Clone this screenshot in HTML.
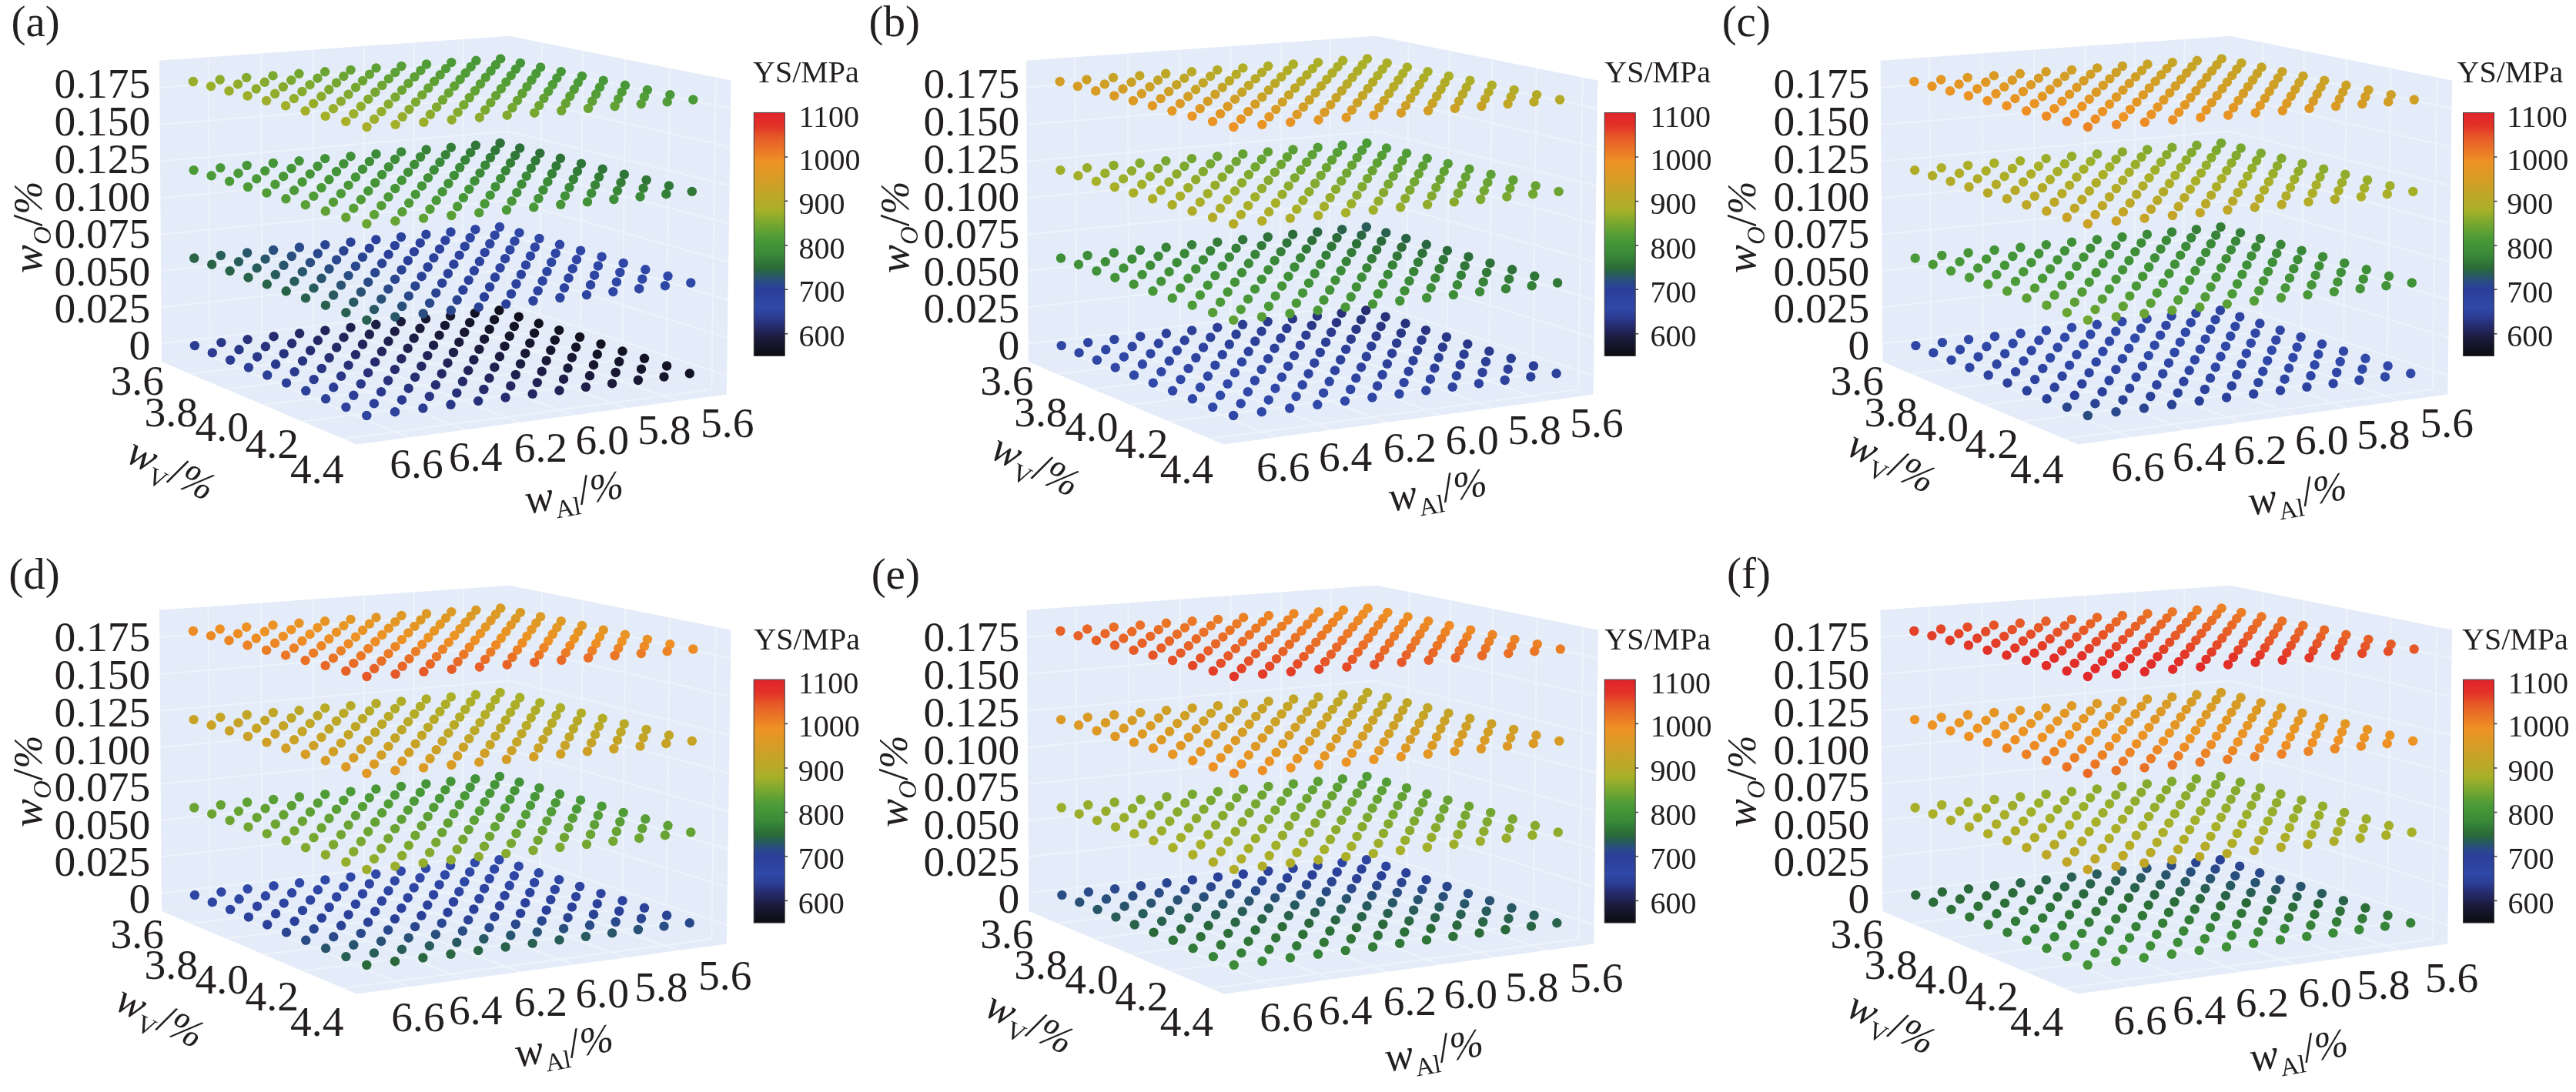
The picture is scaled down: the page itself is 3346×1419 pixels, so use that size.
<!DOCTYPE html>
<html><head><meta charset="utf-8"><title>YS maps</title>
<style>
html,body{margin:0;padding:0;background:#fff}
svg{display:block;will-change:transform}
text{font-family:"Liberation Serif","Times New Roman",serif;fill:#231f20}
.t{font-size:55.5px}
.c{font-size:40px}
.p{font-size:57px;text-anchor:end}
.s{font-size:33px}
.i{font-style:italic}
.q{font-size:52px}
.g{stroke:#fff;stroke-width:2.2;fill:none;stroke-opacity:.38}
.pane{fill:#e3ecf8}
</style></head><body>
<svg width="3346" height="1419" viewBox="0 0 3346 1419">
<defs>
<linearGradient id="cb" x1="0" y1="1" x2="0" y2="0">
<stop offset="0.0000" stop-color="#0c0c10"/>
<stop offset="0.0709" stop-color="#1a1a3a"/>
<stop offset="0.1200" stop-color="#252a6a"/>
<stop offset="0.1636" stop-color="#2c3e96"/>
<stop offset="0.2000" stop-color="#3048a8"/>
<stop offset="0.2727" stop-color="#2a3f98"/>
<stop offset="0.3018" stop-color="#2a4a8a"/>
<stop offset="0.3309" stop-color="#285a60"/>
<stop offset="0.3618" stop-color="#2a6a38"/>
<stop offset="0.4182" stop-color="#3a8a38"/>
<stop offset="0.4818" stop-color="#4a9a38"/>
<stop offset="0.5455" stop-color="#78a830"/>
<stop offset="0.6000" stop-color="#a8b028"/>
<stop offset="0.7000" stop-color="#cda026"/>
<stop offset="0.7982" stop-color="#ee9224"/>
<stop offset="0.9000" stop-color="#e65828"/>
<stop offset="0.9455" stop-color="#e23228"/>
<stop offset="1.0000" stop-color="#e1242a"/>
</linearGradient>
<g id="box">
<polygon class="pane" points="207.1,78.7 661.3,46.7 659.2,417.2 209.9,470.1"/>
<polygon class="pane" points="661.3,46.7 949.5,104.5 943.8,512.6 659.2,417.2"/>
<polygon class="pane" points="209.9,470.1 463.2,577.5 943.8,512.6 659.2,417.2"/>
<path class="g" d="M602.1 50.9L600.6 424.1M600.6 424.1L881.5 521M538 55.4L537.1 431.5M537.1 431.5L813.8 530.2M472.8 60L472.6 439.1M472.6 439.1L745 539.5M406.5 64.7L407.1 446.9M407.1 446.9L674.8 548.9M339.1 69.4L340.4 454.7M340.4 454.7L603.5 558.5M270.6 74.2L272.7 462.7M272.7 462.7L530.7 568.3M703.8 55.2L701.2 431.3M701.2 431.3L247.1 485.9M757.1 65.9L753.8 448.9M753.8 448.9L293.8 505.7M812.4 77L808.5 467.2M808.5 467.2L342.4 526.2M869.9 88.5L865.2 486.3M865.2 486.3L393 547.7M929.8 100.6L924.3 506.1M924.3 506.1L445.8 570.1M209.7 446.4L659.3 394.7M659.3 394.7L944.1 487.9M209.4 399.3L659.5 350.1M659.5 350.1L944.8 438.8M209 352L659.8 305.4M659.8 305.4L945.5 389.6M208.7 304.7L660.1 260.5M660.1 260.5L946.2 340.2M208.4 257.2L660.3 215.5M660.3 215.5L946.9 290.6M208 209.5L660.6 170.5M660.6 170.5L947.6 241M207.7 161.8L660.8 125.3M660.8 125.3L948.3 191.2M207.3 113.9L661.1 80M661.1 80L949 141.2"/>
</g>
</defs>
<g transform="translate(0,0)">
<use href="#box"/>
<g class="d">
<circle cx="648.4" cy="403.3" r="6.2" fill="#10101d"/><circle cx="649" cy="295" r="6.2" fill="#2e45a3"/><circle cx="616.9" cy="406.9" r="6.2" fill="#131324"/><circle cx="649.6" cy="186" r="6.2" fill="#2d7038"/><circle cx="617.4" cy="298.2" r="6.2" fill="#2e44a2"/><circle cx="585.1" cy="410.6" r="6.2" fill="#15152b"/>
<circle cx="673.8" cy="411.7" r="6.2" fill="#10101d"/><circle cx="650.2" cy="76.4" r="6.2" fill="#469638"/><circle cx="617.9" cy="188.8" r="6.2" fill="#307738"/><circle cx="585.5" cy="301.5" r="6.2" fill="#2d43a0"/><circle cx="553.1" cy="414.3" r="6.2" fill="#171731"/><circle cx="674.5" cy="302.4" r="6.2" fill="#2e46a4"/>
<circle cx="642.1" cy="415.4" r="6.2" fill="#131324"/><circle cx="618.4" cy="78.8" r="6.2" fill="#489838"/><circle cx="585.9" cy="191.6" r="6.2" fill="#347d38"/><circle cx="553.4" cy="304.7" r="6.2" fill="#2c429e"/><circle cx="675.2" cy="192.5" r="6.2" fill="#2d7138"/><circle cx="520.8" cy="418" r="6.2" fill="#191938"/>
<circle cx="642.7" cy="305.7" r="6.2" fill="#2e45a2"/><circle cx="610.2" cy="419.2" r="6.2" fill="#15152b"/><circle cx="586.3" cy="81.1" r="6.2" fill="#4a9a38"/><circle cx="553.7" cy="194.5" r="6.2" fill="#378438"/><circle cx="699.8" cy="420.3" r="6.2" fill="#11111e"/><circle cx="675.9" cy="81.9" r="6.2" fill="#469638"/>
<circle cx="521" cy="308" r="6.2" fill="#2b419c"/><circle cx="643.3" cy="195.3" r="6.2" fill="#317738"/><circle cx="488.3" cy="421.8" r="6.2" fill="#1c1d42"/><circle cx="610.7" cy="309" r="6.2" fill="#2d44a0"/><circle cx="578" cy="422.9" r="6.2" fill="#171732"/><circle cx="554" cy="83.5" r="6.2" fill="#509c37"/>
<circle cx="700.5" cy="310" r="6.2" fill="#2f46a4"/><circle cx="521.2" cy="197.4" r="6.2" fill="#3a8938"/><circle cx="667.9" cy="424.1" r="6.2" fill="#131325"/><circle cx="643.9" cy="84.3" r="6.2" fill="#489838"/><circle cx="488.4" cy="311.4" r="6.2" fill="#2b409a"/><circle cx="611.2" cy="198.2" r="6.2" fill="#347e38"/>
<circle cx="455.5" cy="425.6" r="6.2" fill="#1e214e"/><circle cx="578.4" cy="312.4" r="6.2" fill="#2c429e"/><circle cx="701.3" cy="199.1" r="6.2" fill="#2e7138"/><circle cx="545.5" cy="426.8" r="6.2" fill="#1a1a39"/><circle cx="521.4" cy="86" r="6.2" fill="#579e36"/><circle cx="668.5" cy="313.4" r="6.2" fill="#2e45a2"/>
<circle cx="488.5" cy="200.2" r="6.2" fill="#3c8c38"/><circle cx="635.7" cy="427.9" r="6.2" fill="#15152c"/><circle cx="611.7" cy="86.7" r="6.2" fill="#4a9a38"/><circle cx="455.5" cy="314.7" r="6.2" fill="#2a4096"/><circle cx="578.8" cy="201.1" r="6.2" fill="#378438"/><circle cx="726.2" cy="429.1" r="6.2" fill="#11111f"/>
<circle cx="702.1" cy="87.4" r="6.2" fill="#479738"/><circle cx="422.4" cy="429.4" r="6.2" fill="#212459"/><circle cx="545.8" cy="315.7" r="6.2" fill="#2b419c"/><circle cx="669.2" cy="202" r="6.2" fill="#317838"/><circle cx="512.8" cy="430.6" r="6.2" fill="#1c1d44"/><circle cx="488.6" cy="88.4" r="6.2" fill="#5da035"/>
<circle cx="636.3" cy="316.8" r="6.2" fill="#2d44a1"/><circle cx="455.5" cy="203.2" r="6.2" fill="#3f8f38"/><circle cx="603.3" cy="431.8" r="6.2" fill="#181833"/><circle cx="579.1" cy="89.1" r="6.2" fill="#509c37"/><circle cx="727" cy="317.8" r="6.2" fill="#2f46a5"/><circle cx="422.3" cy="318.1" r="6.2" fill="#2a4591"/>
<circle cx="546.1" cy="204" r="6.2" fill="#3a8a38"/><circle cx="694.1" cy="432.9" r="6.2" fill="#131326"/><circle cx="669.9" cy="89.9" r="6.2" fill="#489838"/><circle cx="389.1" cy="433.3" r="6.2" fill="#242864"/><circle cx="512.9" cy="319.1" r="6.2" fill="#2b409a"/><circle cx="636.9" cy="204.9" r="6.2" fill="#347e38"/>
<circle cx="479.8" cy="434.5" r="6.2" fill="#1f214f"/><circle cx="455.5" cy="90.9" r="6.2" fill="#64a233"/><circle cx="603.8" cy="320.2" r="6.2" fill="#2c439e"/><circle cx="727.9" cy="205.8" r="6.2" fill="#2e7238"/><circle cx="422.2" cy="206.1" r="6.2" fill="#419138"/><circle cx="570.6" cy="435.6" r="6.2" fill="#1a1a3a"/>
<circle cx="546.4" cy="91.6" r="6.2" fill="#579e36"/><circle cx="694.9" cy="321.2" r="6.2" fill="#2e45a3"/><circle cx="388.9" cy="321.5" r="6.2" fill="#2a498b"/><circle cx="513.1" cy="207" r="6.2" fill="#3c8c38"/><circle cx="661.8" cy="436.8" r="6.2" fill="#16162d"/><circle cx="637.5" cy="92.3" r="6.2" fill="#4b9a38"/>
<circle cx="355.5" cy="437.2" r="6.2" fill="#262c6f"/><circle cx="479.8" cy="322.6" r="6.2" fill="#2a4097"/><circle cx="604.3" cy="207.9" r="6.2" fill="#378538"/><circle cx="753.1" cy="438" r="6.2" fill="#111120"/><circle cx="728.8" cy="93.1" r="6.2" fill="#479738"/><circle cx="446.5" cy="438.4" r="6.2" fill="#21255a"/>
<circle cx="422.1" cy="93.3" r="6.2" fill="#6ba432"/><circle cx="571" cy="323.6" r="6.2" fill="#2c419c"/><circle cx="695.6" cy="208.8" r="6.2" fill="#317938"/><circle cx="388.6" cy="209.1" r="6.2" fill="#439338"/><circle cx="537.7" cy="439.5" r="6.2" fill="#1d1e46"/><circle cx="513.3" cy="94.1" r="6.2" fill="#5da035"/>
<circle cx="662.4" cy="324.6" r="6.2" fill="#2d44a1"/><circle cx="355.1" cy="325" r="6.2" fill="#294f7d"/><circle cx="479.9" cy="209.9" r="6.2" fill="#3f8f38"/><circle cx="629.1" cy="440.7" r="6.2" fill="#181834"/><circle cx="604.7" cy="94.8" r="6.2" fill="#519c37"/><circle cx="754.1" cy="325.7" r="6.2" fill="#2f46a5"/>
<circle cx="321.6" cy="441.1" r="6.2" fill="#28327b"/><circle cx="446.4" cy="326" r="6.2" fill="#2a4491"/><circle cx="571.4" cy="210.8" r="6.2" fill="#3a8a38"/><circle cx="720.8" cy="441.9" r="6.2" fill="#141427"/><circle cx="696.4" cy="95.6" r="6.2" fill="#499938"/><circle cx="412.9" cy="442.3" r="6.2" fill="#242966"/>
<circle cx="388.4" cy="95.8" r="6.2" fill="#73a631"/><circle cx="537.9" cy="327.1" r="6.2" fill="#2b409a"/><circle cx="663.1" cy="211.7" r="6.2" fill="#357f38"/><circle cx="354.8" cy="212" r="6.2" fill="#459538"/><circle cx="504.5" cy="443.5" r="6.2" fill="#1f2251"/><circle cx="480" cy="96.6" r="6.2" fill="#64a233"/>
<circle cx="629.7" cy="328.1" r="6.2" fill="#2d439f"/><circle cx="755" cy="212.6" r="6.2" fill="#2e7338"/><circle cx="321.1" cy="328.5" r="6.2" fill="#28566a"/><circle cx="446.4" cy="212.9" r="6.2" fill="#419138"/><circle cx="596.3" cy="444.7" r="6.2" fill="#1b1b3c"/><circle cx="571.7" cy="97.3" r="6.2" fill="#579e36"/>
<circle cx="721.7" cy="329.2" r="6.2" fill="#2e45a3"/><circle cx="287.4" cy="445.1" r="6.2" fill="#2a3787"/><circle cx="412.8" cy="329.5" r="6.2" fill="#2a498c"/><circle cx="538.2" cy="213.8" r="6.2" fill="#3d8d38"/><circle cx="688.3" cy="445.9" r="6.2" fill="#16162e"/><circle cx="663.8" cy="98.1" r="6.2" fill="#4c9b38"/>
<circle cx="379.1" cy="446.3" r="6.2" fill="#262d71"/><circle cx="354.5" cy="98.4" r="6.2" fill="#7ba830"/><circle cx="504.6" cy="330.6" r="6.2" fill="#2a3f97"/><circle cx="630.3" cy="214.7" r="6.2" fill="#388638"/><circle cx="780.5" cy="447.1" r="6.2" fill="#121221"/><circle cx="756" cy="98.9" r="6.2" fill="#479738"/>
<circle cx="320.7" cy="215" r="6.2" fill="#479738"/><circle cx="471" cy="447.5" r="6.2" fill="#22255c"/><circle cx="446.4" cy="99.1" r="6.2" fill="#6ba432"/><circle cx="596.7" cy="331.6" r="6.2" fill="#2c429d"/><circle cx="722.5" cy="215.7" r="6.2" fill="#327a38"/><circle cx="286.8" cy="332" r="6.2" fill="#285d58"/>
<circle cx="412.6" cy="216" r="6.2" fill="#439338"/><circle cx="563.1" cy="448.7" r="6.2" fill="#1d1f48"/><circle cx="538.5" cy="99.9" r="6.2" fill="#5ea035"/><circle cx="689" cy="332.7" r="6.2" fill="#2e44a2"/><circle cx="252.9" cy="449.1" r="6.2" fill="#2b3c92"/><circle cx="378.8" cy="333" r="6.2" fill="#294f7e"/>
<circle cx="504.8" cy="216.9" r="6.2" fill="#3f8f38"/><circle cx="655.5" cy="449.9" r="6.2" fill="#181835"/><circle cx="630.8" cy="100.6" r="6.2" fill="#529c37"/><circle cx="781.6" cy="333.7" r="6.2" fill="#2f47a6"/><circle cx="344.9" cy="450.3" r="6.2" fill="#28327d"/><circle cx="320.2" cy="100.9" r="6.2" fill="#84aa2e"/>
<circle cx="471" cy="334.1" r="6.2" fill="#2a4492"/><circle cx="597.2" cy="217.8" r="6.2" fill="#3b8b38"/><circle cx="748.1" cy="451.1" r="6.2" fill="#141428"/><circle cx="723.4" cy="101.4" r="6.2" fill="#499938"/><circle cx="286.3" cy="218.1" r="6.2" fill="#489838"/><circle cx="437.2" cy="451.5" r="6.2" fill="#242967"/>
<circle cx="412.5" cy="101.7" r="6.2" fill="#73a631"/><circle cx="563.4" cy="335.1" r="6.2" fill="#2b409a"/><circle cx="689.8" cy="218.7" r="6.2" fill="#358038"/><circle cx="252.2" cy="335.5" r="6.2" fill="#296446"/><circle cx="378.5" cy="219" r="6.2" fill="#459538"/><circle cx="529.7" cy="452.7" r="6.2" fill="#202253"/>
<circle cx="504.9" cy="102.4" r="6.2" fill="#65a233"/><circle cx="656.1" cy="336.2" r="6.2" fill="#2d439f"/><circle cx="782.7" cy="219.6" r="6.2" fill="#2f7438"/><circle cx="344.6" cy="336.6" r="6.2" fill="#29566b"/><circle cx="471" cy="219.9" r="6.2" fill="#419138"/><circle cx="622.4" cy="453.9" r="6.2" fill="#1b1b3e"/>
<circle cx="597.6" cy="103.2" r="6.2" fill="#589e36"/><circle cx="749" cy="337.3" r="6.2" fill="#2f46a4"/><circle cx="310.5" cy="454.3" r="6.2" fill="#2a3888"/><circle cx="285.7" cy="103.5" r="6.2" fill="#8eac2c"/><circle cx="437.1" cy="337.6" r="6.2" fill="#2a488c"/><circle cx="563.8" cy="220.8" r="6.2" fill="#3d8d38"/>
<circle cx="715.3" cy="455.1" r="6.2" fill="#16162f"/><circle cx="690.6" cy="104" r="6.2" fill="#4e9b37"/><circle cx="251.6" cy="221.1" r="6.2" fill="#4a9a38"/><circle cx="403.1" cy="455.5" r="6.2" fill="#262e73"/><circle cx="378.3" cy="104.2" r="6.2" fill="#7ba92f"/><circle cx="529.9" cy="338.7" r="6.2" fill="#2a3f98"/>
<circle cx="656.8" cy="221.8" r="6.2" fill="#388738"/><circle cx="808.5" cy="456.4" r="6.2" fill="#121222"/><circle cx="783.7" cy="104.7" r="6.2" fill="#489838"/><circle cx="344.2" cy="222.1" r="6.2" fill="#479738"/><circle cx="495.9" cy="456.8" r="6.2" fill="#22265e"/><circle cx="471.1" cy="105" r="6.2" fill="#6ca432"/>
<circle cx="622.9" cy="339.8" r="6.2" fill="#2c429d"/><circle cx="750" cy="222.7" r="6.2" fill="#327b38"/><circle cx="310" cy="340.1" r="6.2" fill="#285d59"/><circle cx="437" cy="223" r="6.2" fill="#439338"/><circle cx="589" cy="458" r="6.2" fill="#1e1f4a"/><circle cx="564.1" cy="105.8" r="6.2" fill="#5fa034"/>
<circle cx="716.2" cy="340.8" r="6.2" fill="#2e45a2"/><circle cx="275.8" cy="458.4" r="6.2" fill="#2c3d93"/><circle cx="250.9" cy="106" r="6.2" fill="#98ad2b"/><circle cx="402.9" cy="341.2" r="6.2" fill="#294e7f"/><circle cx="530.1" cy="223.9" r="6.2" fill="#409038"/><circle cx="682.3" cy="459.2" r="6.2" fill="#191937"/>
<circle cx="657.4" cy="106.6" r="6.2" fill="#539d36"/><circle cx="809.7" cy="341.9" r="6.2" fill="#2f47a6"/><circle cx="368.7" cy="459.6" r="6.2" fill="#28337e"/><circle cx="343.8" cy="106.8" r="6.2" fill="#85aa2e"/><circle cx="496.1" cy="342.3" r="6.2" fill="#2a4393"/><circle cx="623.5" cy="224.9" r="6.2" fill="#3b8b38"/>
<circle cx="775.8" cy="460.4" r="6.2" fill="#141429"/><circle cx="750.9" cy="107.3" r="6.2" fill="#4a9a38"/><circle cx="309.5" cy="225.2" r="6.2" fill="#499938"/><circle cx="461.9" cy="460.9" r="6.2" fill="#252a6a"/><circle cx="437" cy="107.6" r="6.2" fill="#73a731"/><circle cx="589.4" cy="343.4" r="6.2" fill="#2b419b"/>
<circle cx="717" cy="225.8" r="6.2" fill="#368238"/><circle cx="275.2" cy="343.7" r="6.2" fill="#296447"/><circle cx="402.7" cy="226.1" r="6.2" fill="#459538"/><circle cx="555.3" cy="462.1" r="6.2" fill="#202355"/><circle cx="530.4" cy="108.4" r="6.2" fill="#66a233"/><circle cx="683" cy="344.4" r="6.2" fill="#2d44a0"/>
<circle cx="810.8" cy="226.7" r="6.2" fill="#2f7538"/><circle cx="368.4" cy="344.8" r="6.2" fill="#29556c"/><circle cx="496.2" cy="227" r="6.2" fill="#429238"/><circle cx="649" cy="463.3" r="6.2" fill="#1b1c40"/><circle cx="624" cy="109.2" r="6.2" fill="#5a9f35"/><circle cx="776.9" cy="345.5" r="6.2" fill="#2f46a5"/>
<circle cx="334.1" cy="463.7" r="6.2" fill="#2a3889"/><circle cx="309" cy="109.4" r="6.2" fill="#8fac2c"/><circle cx="461.9" cy="345.9" r="6.2" fill="#2a488d"/><circle cx="589.9" cy="228" r="6.2" fill="#3e8e38"/><circle cx="742.9" cy="464.6" r="6.2" fill="#171731"/><circle cx="717.9" cy="110" r="6.2" fill="#4f9c37"/>
<circle cx="274.6" cy="228.3" r="6.2" fill="#4b9a38"/><circle cx="427.6" cy="465" r="6.2" fill="#272f75"/><circle cx="402.5" cy="110.2" r="6.2" fill="#7ca92f"/><circle cx="555.7" cy="347" r="6.2" fill="#2a3f99"/><circle cx="683.8" cy="228.9" r="6.2" fill="#398938"/><circle cx="837" cy="465.8" r="6.2" fill="#121223"/>
<circle cx="812" cy="110.8" r="6.2" fill="#489838"/><circle cx="368.1" cy="229.2" r="6.2" fill="#479738"/><circle cx="521.4" cy="466.2" r="6.2" fill="#232761"/><circle cx="496.3" cy="111" r="6.2" fill="#6da532"/><circle cx="649.6" cy="348.1" r="6.2" fill="#2c429e"/><circle cx="778" cy="229.9" r="6.2" fill="#337c38"/>
<circle cx="333.7" cy="348.4" r="6.2" fill="#285c5a"/><circle cx="461.9" cy="230.2" r="6.2" fill="#449438"/><circle cx="615.4" cy="467.5" r="6.2" fill="#1e204c"/><circle cx="590.3" cy="111.8" r="6.2" fill="#60a134"/><circle cx="743.8" cy="349.2" r="6.2" fill="#2e45a3"/><circle cx="299.1" cy="467.9" r="6.2" fill="#2c3d95"/>
<circle cx="274" cy="112.1" r="6.2" fill="#9aae2a"/><circle cx="427.5" cy="349.5" r="6.2" fill="#2a4d81"/><circle cx="556" cy="231.1" r="6.2" fill="#409038"/><circle cx="709.7" cy="468.7" r="6.2" fill="#191938"/><circle cx="684.5" cy="112.6" r="6.2" fill="#559d36"/><circle cx="838.3" cy="350.3" r="6.2" fill="#3047a7"/>
<circle cx="393" cy="469.1" r="6.2" fill="#293480"/><circle cx="367.8" cy="112.9" r="6.2" fill="#86aa2e"/><circle cx="521.6" cy="350.6" r="6.2" fill="#2a4294"/><circle cx="650.3" cy="232.1" r="6.2" fill="#3c8c38"/><circle cx="804.2" cy="470" r="6.2" fill="#15152b"/><circle cx="779" cy="113.4" r="6.2" fill="#4b9a38"/>
<circle cx="333.3" cy="232.4" r="6.2" fill="#499938"/><circle cx="487.2" cy="470.4" r="6.2" fill="#252b6c"/><circle cx="462" cy="113.7" r="6.2" fill="#74a731"/><circle cx="615.9" cy="351.8" r="6.2" fill="#2b419c"/><circle cx="744.8" cy="233" r="6.2" fill="#378438"/><circle cx="298.6" cy="352.1" r="6.2" fill="#296448"/>
<circle cx="427.4" cy="233.3" r="6.2" fill="#469638"/><circle cx="581.5" cy="471.7" r="6.2" fill="#212458"/><circle cx="556.3" cy="114.5" r="6.2" fill="#67a333"/><circle cx="710.5" cy="352.9" r="6.2" fill="#2d44a1"/><circle cx="839.6" cy="234" r="6.2" fill="#307538"/><circle cx="392.8" cy="353.2" r="6.2" fill="#29556e"/>
<circle cx="521.8" cy="234.3" r="6.2" fill="#439338"/><circle cx="676.1" cy="472.9" r="6.2" fill="#1c1d43"/><circle cx="650.9" cy="115.3" r="6.2" fill="#5c9f35"/><circle cx="805.3" cy="354" r="6.2" fill="#2f46a5"/><circle cx="358.1" cy="473.3" r="6.2" fill="#2a398b"/><circle cx="332.8" cy="115.5" r="6.2" fill="#90ac2c"/>
<circle cx="487.2" cy="354.3" r="6.2" fill="#2a478e"/><circle cx="616.5" cy="235.2" r="6.2" fill="#3f8f38"/><circle cx="771" cy="474.2" r="6.2" fill="#171732"/><circle cx="745.8" cy="116.1" r="6.2" fill="#519c37"/><circle cx="298.1" cy="235.6" r="6.2" fill="#4c9b38"/><circle cx="452.6" cy="474.6" r="6.2" fill="#273077"/>
<circle cx="427.3" cy="116.3" r="6.2" fill="#7da92f"/><circle cx="581.9" cy="355.5" r="6.2" fill="#2a4099"/><circle cx="711.4" cy="236.2" r="6.2" fill="#3a8a38"/><circle cx="866.1" cy="475.5" r="6.2" fill="#131324"/><circle cx="840.9" cy="116.9" r="6.2" fill="#499938"/><circle cx="392.6" cy="236.5" r="6.2" fill="#489838"/>
<circle cx="547.4" cy="475.9" r="6.2" fill="#232863"/><circle cx="522" cy="117.1" r="6.2" fill="#6ea532"/><circle cx="676.9" cy="356.6" r="6.2" fill="#2c439e"/><circle cx="806.5" cy="237.2" r="6.2" fill="#347e38"/><circle cx="357.8" cy="356.9" r="6.2" fill="#285c5b"/><circle cx="487.3" cy="237.5" r="6.2" fill="#459538"/>
<circle cx="642.3" cy="477.2" r="6.2" fill="#1f214f"/><circle cx="617" cy="118" r="6.2" fill="#62a134"/><circle cx="772.1" cy="357.7" r="6.2" fill="#2e45a3"/><circle cx="322.9" cy="477.6" r="6.2" fill="#2c3e96"/><circle cx="297.5" cy="118.2" r="6.2" fill="#9bae2a"/><circle cx="452.6" cy="358.1" r="6.2" fill="#2a4d83"/>
<circle cx="582.4" cy="238.5" r="6.2" fill="#419138"/><circle cx="737.6" cy="478.4" r="6.2" fill="#1a1a3a"/><circle cx="712.2" cy="118.8" r="6.2" fill="#589e36"/><circle cx="867.5" cy="358.8" r="6.2" fill="#3048a7"/><circle cx="417.8" cy="478.9" r="6.2" fill="#293582"/><circle cx="392.4" cy="119" r="6.2" fill="#87ab2d"/>
<circle cx="547.7" cy="359.2" r="6.2" fill="#2a4295"/><circle cx="677.6" cy="239.4" r="6.2" fill="#3d8d38"/><circle cx="833" cy="479.7" r="6.2" fill="#15152c"/><circle cx="807.7" cy="119.6" r="6.2" fill="#4d9b37"/><circle cx="357.4" cy="239.7" r="6.2" fill="#4a9a38"/><circle cx="512.9" cy="480.1" r="6.2" fill="#262c6e"/>
<circle cx="487.4" cy="119.8" r="6.2" fill="#76a730"/><circle cx="643" cy="360.3" r="6.2" fill="#2c419c"/><circle cx="773.1" cy="240.4" r="6.2" fill="#388538"/><circle cx="322.5" cy="360.7" r="6.2" fill="#296349"/><circle cx="452.6" cy="240.7" r="6.2" fill="#479738"/><circle cx="608.2" cy="481.4" r="6.2" fill="#21255a"/>
<circle cx="582.8" cy="120.7" r="6.2" fill="#69a433"/><circle cx="738.5" cy="361.4" r="6.2" fill="#2e44a1"/><circle cx="868.9" cy="241.4" r="6.2" fill="#307638"/><circle cx="417.6" cy="361.8" r="6.2" fill="#295470"/><circle cx="548" cy="241.7" r="6.2" fill="#449438"/><circle cx="703.8" cy="482.7" r="6.2" fill="#1d1e45"/>
<circle cx="678.4" cy="121.5" r="6.2" fill="#5ea034"/><circle cx="834.3" cy="362.6" r="6.2" fill="#2f47a6"/><circle cx="382.6" cy="483.1" r="6.2" fill="#2b3a8e"/><circle cx="357.1" cy="121.8" r="6.2" fill="#92ac2c"/><circle cx="513.1" cy="362.9" r="6.2" fill="#2a468f"/><circle cx="643.6" cy="242.7" r="6.2" fill="#409038"/>
<circle cx="799.7" cy="484" r="6.2" fill="#181834"/><circle cx="774.2" cy="122.3" r="6.2" fill="#549d36"/><circle cx="322" cy="243" r="6.2" fill="#4f9b37"/><circle cx="478.1" cy="484.4" r="6.2" fill="#28317a"/><circle cx="452.6" cy="122.6" r="6.2" fill="#7fa92f"/><circle cx="608.7" cy="364.1" r="6.2" fill="#2b409a"/>
<circle cx="739.5" cy="243.6" r="6.2" fill="#3b8b38"/><circle cx="895.8" cy="485.3" r="6.2" fill="#131326"/><circle cx="870.3" cy="123.1" r="6.2" fill="#499938"/><circle cx="417.5" cy="244" r="6.2" fill="#499938"/><circle cx="573.8" cy="485.7" r="6.2" fill="#242966"/><circle cx="548.3" cy="123.4" r="6.2" fill="#71a631"/>
<circle cx="704.7" cy="365.2" r="6.2" fill="#2d439f"/><circle cx="835.6" cy="244.6" r="6.2" fill="#357f38"/><circle cx="382.4" cy="365.6" r="6.2" fill="#285b5d"/><circle cx="513.3" cy="245" r="6.2" fill="#469638"/><circle cx="669.8" cy="487" r="6.2" fill="#1f2251"/><circle cx="644.2" cy="124.2" r="6.2" fill="#65a233"/>
<circle cx="800.9" cy="366.4" r="6.2" fill="#2f46a4"/><circle cx="347.2" cy="487.5" r="6.2" fill="#2c3f97"/><circle cx="321.5" cy="124.5" r="6.2" fill="#9dae2a"/><circle cx="478.2" cy="366.7" r="6.2" fill="#2a4c86"/><circle cx="609.3" cy="245.9" r="6.2" fill="#439338"/><circle cx="766" cy="488.3" r="6.2" fill="#1a1b3c"/>
<circle cx="740.4" cy="125" r="6.2" fill="#5b9f35"/><circle cx="897.3" cy="367.5" r="6.2" fill="#3048a8"/><circle cx="443.1" cy="488.8" r="6.2" fill="#293685"/><circle cx="417.4" cy="125.3" r="6.2" fill="#89ab2d"/><circle cx="574.2" cy="367.9" r="6.2" fill="#2a4196"/><circle cx="705.5" cy="246.9" r="6.2" fill="#3e8e38"/>
<circle cx="862.5" cy="489.6" r="6.2" fill="#16162d"/><circle cx="836.9" cy="125.9" r="6.2" fill="#509c37"/><circle cx="382.1" cy="247.3" r="6.2" fill="#4c9b38"/><circle cx="539.1" cy="490.1" r="6.2" fill="#262d71"/><circle cx="513.5" cy="126.2" r="6.2" fill="#78a830"/><circle cx="670.5" cy="369" r="6.2" fill="#2c429d"/>
<circle cx="802" cy="247.9" r="6.2" fill="#398838"/><circle cx="346.8" cy="369.4" r="6.2" fill="#29634a"/><circle cx="478.3" cy="248.2" r="6.2" fill="#489838"/><circle cx="635.5" cy="491.4" r="6.2" fill="#22265d"/><circle cx="609.8" cy="127" r="6.2" fill="#6ca432"/><circle cx="767.1" cy="370.2" r="6.2" fill="#2e45a2"/>
<circle cx="898.8" cy="248.9" r="6.2" fill="#317738"/><circle cx="443" cy="370.6" r="6.2" fill="#295372"/><circle cx="574.6" cy="249.2" r="6.2" fill="#459538"/><circle cx="732.1" cy="492.7" r="6.2" fill="#1d1f48"/><circle cx="706.4" cy="127.8" r="6.2" fill="#61a134"/><circle cx="863.9" cy="371.3" r="6.2" fill="#2f47a6"/>
<circle cx="407.7" cy="493.1" r="6.2" fill="#2b3b90"/><circle cx="381.9" cy="128.1" r="6.2" fill="#94ad2b"/><circle cx="539.4" cy="371.7" r="6.2" fill="#2a4590"/><circle cx="671.3" cy="250.2" r="6.2" fill="#419138"/><circle cx="828.9" cy="494" r="6.2" fill="#181835"/><circle cx="803.2" cy="128.7" r="6.2" fill="#579e36"/>
<circle cx="346.4" cy="250.6" r="6.2" fill="#519c37"/><circle cx="504.1" cy="494.5" r="6.2" fill="#28327d"/><circle cx="478.3" cy="128.9" r="6.2" fill="#82aa2e"/><circle cx="636.1" cy="372.9" r="6.2" fill="#2b409a"/><circle cx="768.2" cy="251.2" r="6.2" fill="#3c8c38"/><circle cx="900.3" cy="129.5" r="6.2" fill="#4a9a38"/>
<circle cx="442.9" cy="251.6" r="6.2" fill="#4b9a38"/><circle cx="600.9" cy="495.8" r="6.2" fill="#252968"/><circle cx="575" cy="129.8" r="6.2" fill="#73a731"/><circle cx="733" cy="374.1" r="6.2" fill="#2d43a0"/><circle cx="865.3" cy="252.2" r="6.2" fill="#358138"/><circle cx="407.5" cy="374.4" r="6.2" fill="#285b5e"/>
<circle cx="539.7" cy="252.6" r="6.2" fill="#479738"/><circle cx="697.8" cy="497.1" r="6.2" fill="#202354"/><circle cx="672" cy="130.6" r="6.2" fill="#68a333"/><circle cx="830.2" cy="375.2" r="6.2" fill="#2f46a5"/><circle cx="372" cy="497.6" r="6.2" fill="#2d3f98"/><circle cx="346.1" cy="130.9" r="6.2" fill="#9fae2a"/>
<circle cx="504.3" cy="375.6" r="6.2" fill="#2a4a89"/><circle cx="636.7" cy="253.6" r="6.2" fill="#449438"/><circle cx="795.1" cy="498.4" r="6.2" fill="#1b1b3e"/><circle cx="769.2" cy="131.5" r="6.2" fill="#5ea035"/><circle cx="468.8" cy="498.9" r="6.2" fill="#2a3888"/><circle cx="442.9" cy="131.7" r="6.2" fill="#8cab2d"/>
<circle cx="601.4" cy="376.8" r="6.2" fill="#2a3f97"/><circle cx="734" cy="254.6" r="6.2" fill="#409038"/><circle cx="866.7" cy="132.3" r="6.2" fill="#529c37"/><circle cx="407.3" cy="254.9" r="6.2" fill="#509c37"/><circle cx="565.9" cy="500.2" r="6.2" fill="#272f74"/><circle cx="540" cy="132.6" r="6.2" fill="#7ca92f"/>
<circle cx="698.7" cy="377.9" r="6.2" fill="#2c429e"/><circle cx="831.5" cy="255.6" r="6.2" fill="#3a8a38"/><circle cx="371.7" cy="378.3" r="6.2" fill="#29624b"/><circle cx="504.5" cy="255.9" r="6.2" fill="#4a9a38"/><circle cx="663.3" cy="501.5" r="6.2" fill="#232760"/><circle cx="637.3" cy="133.4" r="6.2" fill="#70a531"/>
<circle cx="796.3" cy="379.1" r="6.2" fill="#2e45a3"/><circle cx="468.9" cy="379.5" r="6.2" fill="#295275"/><circle cx="601.9" cy="256.9" r="6.2" fill="#479738"/><circle cx="760.9" cy="502.9" r="6.2" fill="#1e204b"/><circle cx="734.9" cy="134.3" r="6.2" fill="#65a233"/><circle cx="433.2" cy="503.3" r="6.2" fill="#2b3d93"/>
<circle cx="407.1" cy="134.6" r="6.2" fill="#96ad2b"/><circle cx="566.3" cy="380.7" r="6.2" fill="#2a4491"/><circle cx="699.5" cy="258" r="6.2" fill="#439338"/><circle cx="832.8" cy="135.1" r="6.2" fill="#5a9f35"/><circle cx="371.4" cy="258.3" r="6.2" fill="#559d36"/><circle cx="530.7" cy="504.7" r="6.2" fill="#283480"/>
<circle cx="504.6" cy="135.4" r="6.2" fill="#85aa2e"/><circle cx="664" cy="381.9" r="6.2" fill="#2b419b"/><circle cx="797.4" cy="259" r="6.2" fill="#3e8e38"/><circle cx="468.9" cy="259.3" r="6.2" fill="#4f9c37"/><circle cx="628.4" cy="506" r="6.2" fill="#252b6b"/><circle cx="602.4" cy="136.3" r="6.2" fill="#77a830"/>
<circle cx="762" cy="383.1" r="6.2" fill="#2d44a1"/><circle cx="433.1" cy="383.5" r="6.2" fill="#285a60"/><circle cx="566.7" cy="260.3" r="6.2" fill="#499938"/><circle cx="726.5" cy="507.4" r="6.2" fill="#212457"/><circle cx="700.3" cy="137.1" r="6.2" fill="#6ca432"/><circle cx="397.3" cy="507.8" r="6.2" fill="#2d409a"/>
<circle cx="371.1" cy="137.4" r="6.2" fill="#a1af29"/><circle cx="530.9" cy="384.6" r="6.2" fill="#2a498b"/><circle cx="664.7" cy="261.4" r="6.2" fill="#469638"/><circle cx="798.6" cy="138" r="6.2" fill="#61a134"/><circle cx="495.1" cy="509.2" r="6.2" fill="#2a398b"/><circle cx="468.9" cy="138.3" r="6.2" fill="#8fac2c"/>
<circle cx="629" cy="385.8" r="6.2" fill="#2a3f98"/><circle cx="763" cy="262.4" r="6.2" fill="#419138"/><circle cx="433" cy="262.7" r="6.2" fill="#549d36"/><circle cx="593.3" cy="510.6" r="6.2" fill="#273077"/><circle cx="567.1" cy="139.2" r="6.2" fill="#80a92f"/><circle cx="727.4" cy="387" r="6.2" fill="#2c439f"/>
<circle cx="397" cy="387.4" r="6.2" fill="#29624d"/><circle cx="531.2" cy="263.8" r="6.2" fill="#4e9b37"/><circle cx="691.7" cy="511.9" r="6.2" fill="#232863"/><circle cx="665.5" cy="140" r="6.2" fill="#73a731"/><circle cx="495.3" cy="388.6" r="6.2" fill="#295178"/><circle cx="629.6" cy="264.8" r="6.2" fill="#499938"/>
<circle cx="764.1" cy="140.9" r="6.2" fill="#69a333"/><circle cx="459.3" cy="513.8" r="6.2" fill="#2c3e96"/><circle cx="432.9" cy="141.2" r="6.2" fill="#99ae2a"/><circle cx="593.7" cy="389.8" r="6.2" fill="#2a4393"/><circle cx="728.3" cy="265.8" r="6.2" fill="#459538"/><circle cx="396.8" cy="266.2" r="6.2" fill="#599f35"/>
<circle cx="557.8" cy="515.1" r="6.2" fill="#293583"/><circle cx="531.5" cy="142.1" r="6.2" fill="#89ab2d"/><circle cx="692.5" cy="391" r="6.2" fill="#2c419c"/><circle cx="495.4" cy="267.2" r="6.2" fill="#549d36"/><circle cx="656.6" cy="516.5" r="6.2" fill="#262c6f"/><circle cx="630.2" cy="142.9" r="6.2" fill="#7ba92f"/>
<circle cx="459.3" cy="392.7" r="6.2" fill="#285963"/><circle cx="594.2" cy="268.3" r="6.2" fill="#4d9b37"/><circle cx="729.3" cy="143.8" r="6.2" fill="#71a631"/><circle cx="423.1" cy="518.3" r="6.2" fill="#2d419b"/><circle cx="396.6" cy="144.1" r="6.2" fill="#a3af29"/><circle cx="558.1" cy="393.9" r="6.2" fill="#2a488c"/>
<circle cx="693.3" cy="269.3" r="6.2" fill="#489838"/><circle cx="522" cy="519.7" r="6.2" fill="#2b3a8e"/><circle cx="495.5" cy="145" r="6.2" fill="#92ac2c"/><circle cx="657.3" cy="395.1" r="6.2" fill="#2a4099"/><circle cx="459.3" cy="270.7" r="6.2" fill="#5a9f35"/><circle cx="621.2" cy="521.1" r="6.2" fill="#28327b"/>
<circle cx="594.7" cy="145.9" r="6.2" fill="#84aa2e"/><circle cx="422.9" cy="396.7" r="6.2" fill="#29614e"/><circle cx="558.5" cy="271.8" r="6.2" fill="#549d36"/><circle cx="694.2" cy="146.7" r="6.2" fill="#78a830"/><circle cx="522.2" cy="398" r="6.2" fill="#294f7c"/><circle cx="658" cy="272.8" r="6.2" fill="#4c9a38"/>
<circle cx="485.9" cy="524.4" r="6.2" fill="#2c3f98"/><circle cx="459.3" cy="147.9" r="6.2" fill="#9cae2a"/><circle cx="621.8" cy="399.2" r="6.2" fill="#2a4294"/><circle cx="422.8" cy="274.3" r="6.2" fill="#5fa034"/><circle cx="585.5" cy="525.8" r="6.2" fill="#2a3786"/><circle cx="558.9" cy="148.8" r="6.2" fill="#8dac2c"/>
<circle cx="522.4" cy="275.3" r="6.2" fill="#5a9f35"/><circle cx="658.7" cy="149.7" r="6.2" fill="#81a92f"/><circle cx="486" cy="402.1" r="6.2" fill="#285866"/><circle cx="622.3" cy="276.4" r="6.2" fill="#539d36"/><circle cx="449.4" cy="529.1" r="6.2" fill="#2e429d"/><circle cx="422.7" cy="150.9" r="6.2" fill="#a6b028"/>
<circle cx="585.9" cy="403.3" r="6.2" fill="#2a478e"/><circle cx="549.4" cy="530.5" r="6.2" fill="#2b3c92"/><circle cx="522.7" cy="151.8" r="6.2" fill="#96ad2b"/><circle cx="486.1" cy="278.9" r="6.2" fill="#5fa134"/><circle cx="622.9" cy="152.7" r="6.2" fill="#8aab2d"/><circle cx="449.4" cy="406.2" r="6.2" fill="#296050"/>
<circle cx="586.4" cy="280" r="6.2" fill="#5a9f35"/><circle cx="549.7" cy="407.5" r="6.2" fill="#2a4e80"/><circle cx="513" cy="535.2" r="6.2" fill="#2d409a"/><circle cx="486.2" cy="154.8" r="6.2" fill="#9faf29"/><circle cx="449.3" cy="282.5" r="6.2" fill="#64a233"/><circle cx="586.8" cy="155.7" r="6.2" fill="#92ac2c"/>
<circle cx="550.1" cy="283.6" r="6.2" fill="#60a134"/><circle cx="513.2" cy="411.7" r="6.2" fill="#285769"/><circle cx="476.3" cy="540" r="6.2" fill="#2e439f"/><circle cx="449.3" cy="157.9" r="6.2" fill="#a8b028"/><circle cx="550.4" cy="158.8" r="6.2" fill="#9bae2a"/><circle cx="513.4" cy="287.2" r="6.2" fill="#66a333"/>
<circle cx="476.4" cy="415.9" r="6.2" fill="#296052"/><circle cx="513.6" cy="161.9" r="6.2" fill="#a3af29"/><circle cx="476.4" cy="290.9" r="6.2" fill="#6ba432"/><circle cx="476.5" cy="165" r="6.2" fill="#a9af28"/>
</g>
<text class="t" x="195.3" y="127" text-anchor="end">0.175</text>
<text class="t" x="195.3" y="175.8" text-anchor="end">0.150</text>
<text class="t" x="195.3" y="225.1" text-anchor="end">0.125</text>
<text class="t" x="195.3" y="273.5" text-anchor="end">0.100</text>
<text class="t" x="195.3" y="322.4" text-anchor="end">0.075</text>
<text class="t" x="195.3" y="370.7" text-anchor="end">0.050</text>
<text class="t" x="195.3" y="419.1" text-anchor="end">0.025</text>
<text class="t" x="195.3" y="467.4" text-anchor="end">0</text>
<text class="t" x="143.5" y="513.2">3.6</text>
<text class="t" x="187.5" y="553.5">3.8</text>
<text class="t" x="253.5" y="572.7">4.0</text>
<text class="t" x="318.5" y="594.7">4.2</text>
<text class="t" x="377" y="627.6">4.4</text>
<text class="t" x="506.3" y="621.1">6.6</text>
<text class="t" x="583" y="612">6.4</text>
<text class="t" x="667.7" y="600.3">6.2</text>
<text class="t" x="747.5" y="589.8">6.0</text>
<text class="t" x="828.2" y="577.1">5.8</text>
<text class="t" x="910" y="568.2">5.6</text>
<text class="t" transform="translate(54.4,355) rotate(-90)"><tspan class="i">w</tspan><tspan class="s i" dy="12">O</tspan><tspan dy="-12">/</tspan><tspan class="i q">%</tspan></text>
<text class="t" transform="translate(161,599) rotate(26)"><tspan class="i">w</tspan><tspan class="s" dy="12">V</tspan><tspan dy="-12">/</tspan><tspan class="i q">%</tspan></text>
<text class="t" transform="translate(685,668) rotate(-10)"><tspan class="i">w</tspan><tspan class="s" dy="12">Al</tspan><tspan dy="-12">/</tspan><tspan class="i q">%</tspan></text>
</g>
<rect x="979.3" y="146.4" width="40" height="316" fill="url(#cb)" stroke="#3a3a3a" stroke-width="1"/>
<path d="M1019.3 433.7h4M1019.3 376.2h4M1019.3 318.8h4M1019.3 261.3h4M1019.3 203.9h4" stroke="#3a3a3a" stroke-width="1.5"/>
<text class="c" x="1037.6" y="164.5">1100</text>
<text class="c" x="1037.6" y="220.5">1000</text>
<text class="c" x="1037.6" y="278.1">900</text>
<text class="c" x="1037.6" y="335.6">800</text>
<text class="c" x="1037.6" y="392.4">700</text>
<text class="c" x="1037.6" y="449.8">600</text>
<text class="c" x="978" y="107.3">YS/MPa</text>
<text class="p" x="77.8" y="46.5">(a)</text>
<g transform="translate(1125.8,0)">
<use href="#box"/>
<g class="d">
<circle cx="648.4" cy="403.3" r="6.2" fill="#262d71"/><circle cx="649" cy="295" r="6.2" fill="#285e57"/><circle cx="616.9" cy="406.9" r="6.2" fill="#273078"/><circle cx="649.6" cy="186" r="6.2" fill="#4a9a38"/><circle cx="617.4" cy="298.2" r="6.2" fill="#29634b"/><circle cx="585.1" cy="410.6" r="6.2" fill="#28337f"/>
<circle cx="673.8" cy="411.7" r="6.2" fill="#272f76"/><circle cx="650.2" cy="76.4" r="6.2" fill="#a8b028"/><circle cx="617.9" cy="188.8" r="6.2" fill="#4f9b37"/><circle cx="585.5" cy="301.5" r="6.2" fill="#2a673f"/><circle cx="553.1" cy="414.3" r="6.2" fill="#293685"/><circle cx="674.5" cy="302.4" r="6.2" fill="#29614f"/>
<circle cx="642.1" cy="415.4" r="6.2" fill="#28327d"/><circle cx="618.4" cy="78.8" r="6.2" fill="#a9b028"/><circle cx="585.9" cy="191.6" r="6.2" fill="#539d36"/><circle cx="553.4" cy="304.7" r="6.2" fill="#2b6c38"/><circle cx="675.2" cy="192.5" r="6.2" fill="#4c9b38"/><circle cx="520.8" cy="418" r="6.2" fill="#2a398b"/>
<circle cx="642.7" cy="305.7" r="6.2" fill="#2a6642"/><circle cx="610.2" cy="419.2" r="6.2" fill="#293583"/><circle cx="586.3" cy="81.1" r="6.2" fill="#abaf28"/><circle cx="553.7" cy="194.5" r="6.2" fill="#599e35"/><circle cx="699.8" cy="420.3" r="6.2" fill="#28327b"/><circle cx="675.9" cy="81.9" r="6.2" fill="#a9b028"/>
<circle cx="521" cy="308" r="6.2" fill="#2d7138"/><circle cx="643.3" cy="195.3" r="6.2" fill="#529c37"/><circle cx="488.3" cy="421.8" r="6.2" fill="#2b3c91"/><circle cx="610.7" cy="309" r="6.2" fill="#2b6b38"/><circle cx="578" cy="422.9" r="6.2" fill="#2a3889"/><circle cx="554" cy="83.5" r="6.2" fill="#adae28"/>
<circle cx="700.5" cy="310" r="6.2" fill="#296447"/><circle cx="521.2" cy="197.4" r="6.2" fill="#5ea034"/><circle cx="667.9" cy="424.1" r="6.2" fill="#293581"/><circle cx="643.9" cy="84.3" r="6.2" fill="#aaaf28"/><circle cx="488.4" cy="311.4" r="6.2" fill="#307638"/><circle cx="611.2" cy="198.2" r="6.2" fill="#579e36"/>
<circle cx="455.5" cy="425.6" r="6.2" fill="#2c3e96"/><circle cx="578.4" cy="312.4" r="6.2" fill="#2d7138"/><circle cx="701.3" cy="199.1" r="6.2" fill="#4f9c37"/><circle cx="545.5" cy="426.8" r="6.2" fill="#2b3b8f"/><circle cx="521.4" cy="86" r="6.2" fill="#afad28"/><circle cx="668.5" cy="313.4" r="6.2" fill="#2a6a39"/>
<circle cx="488.5" cy="200.2" r="6.2" fill="#64a233"/><circle cx="635.7" cy="427.9" r="6.2" fill="#2a3787"/><circle cx="611.7" cy="86.7" r="6.2" fill="#abaf28"/><circle cx="455.5" cy="314.7" r="6.2" fill="#327b38"/><circle cx="578.8" cy="201.1" r="6.2" fill="#5da035"/><circle cx="726.2" cy="429.1" r="6.2" fill="#283480"/>
<circle cx="702.1" cy="87.4" r="6.2" fill="#aaaf28"/><circle cx="422.4" cy="429.4" r="6.2" fill="#2d3f99"/><circle cx="545.8" cy="315.7" r="6.2" fill="#307638"/><circle cx="669.2" cy="202" r="6.2" fill="#559d36"/><circle cx="512.8" cy="430.6" r="6.2" fill="#2c3d94"/><circle cx="488.6" cy="88.4" r="6.2" fill="#b2ac27"/>
<circle cx="636.3" cy="316.8" r="6.2" fill="#2d7038"/><circle cx="455.5" cy="203.2" r="6.2" fill="#6ba432"/><circle cx="603.3" cy="431.8" r="6.2" fill="#2b3a8d"/><circle cx="579.1" cy="89.1" r="6.2" fill="#adae28"/><circle cx="727" cy="317.8" r="6.2" fill="#2a6740"/><circle cx="422.3" cy="318.1" r="6.2" fill="#357f38"/>
<circle cx="546.1" cy="204" r="6.2" fill="#63a134"/><circle cx="694.1" cy="432.9" r="6.2" fill="#293786"/><circle cx="669.9" cy="89.9" r="6.2" fill="#abaf28"/><circle cx="389.1" cy="433.3" r="6.2" fill="#2d419b"/><circle cx="512.9" cy="319.1" r="6.2" fill="#327b38"/><circle cx="636.9" cy="204.9" r="6.2" fill="#5b9f35"/>
<circle cx="479.8" cy="434.5" r="6.2" fill="#2c3f98"/><circle cx="455.5" cy="90.9" r="6.2" fill="#b5aa27"/><circle cx="603.8" cy="320.2" r="6.2" fill="#307538"/><circle cx="727.9" cy="205.8" r="6.2" fill="#529c37"/><circle cx="422.2" cy="206.1" r="6.2" fill="#72a631"/><circle cx="570.6" cy="435.6" r="6.2" fill="#2b3c93"/>
<circle cx="546.4" cy="91.6" r="6.2" fill="#b0ad28"/><circle cx="694.9" cy="321.2" r="6.2" fill="#2c6d38"/><circle cx="388.9" cy="321.5" r="6.2" fill="#378438"/><circle cx="513.1" cy="207" r="6.2" fill="#69a333"/><circle cx="661.8" cy="436.8" r="6.2" fill="#2a398c"/><circle cx="637.5" cy="92.3" r="6.2" fill="#adae28"/>
<circle cx="355.5" cy="437.2" r="6.2" fill="#2e429d"/><circle cx="479.8" cy="322.6" r="6.2" fill="#358038"/><circle cx="604.3" cy="207.9" r="6.2" fill="#61a134"/><circle cx="753.1" cy="438" r="6.2" fill="#293685"/><circle cx="728.8" cy="93.1" r="6.2" fill="#abaf28"/><circle cx="446.5" cy="438.4" r="6.2" fill="#2d409a"/>
<circle cx="422.1" cy="93.3" r="6.2" fill="#b9a927"/><circle cx="571" cy="323.6" r="6.2" fill="#327b38"/><circle cx="695.6" cy="208.8" r="6.2" fill="#589e36"/><circle cx="388.6" cy="209.1" r="6.2" fill="#79a830"/><circle cx="537.7" cy="439.5" r="6.2" fill="#2c3e97"/><circle cx="513.3" cy="94.1" r="6.2" fill="#b3ab27"/>
<circle cx="662.4" cy="324.6" r="6.2" fill="#2f7338"/><circle cx="355.1" cy="325" r="6.2" fill="#398838"/><circle cx="479.9" cy="209.9" r="6.2" fill="#6fa532"/><circle cx="629.1" cy="440.7" r="6.2" fill="#2b3c91"/><circle cx="604.7" cy="94.8" r="6.2" fill="#afad28"/><circle cx="754.1" cy="325.7" r="6.2" fill="#2a6a39"/>
<circle cx="321.6" cy="441.1" r="6.2" fill="#2e43a0"/><circle cx="446.4" cy="326" r="6.2" fill="#378438"/><circle cx="571.4" cy="210.8" r="6.2" fill="#67a333"/><circle cx="720.8" cy="441.9" r="6.2" fill="#2a398a"/><circle cx="696.4" cy="95.6" r="6.2" fill="#adae28"/><circle cx="412.9" cy="442.3" r="6.2" fill="#2d429c"/>
<circle cx="388.4" cy="95.8" r="6.2" fill="#bea727"/><circle cx="537.9" cy="327.1" r="6.2" fill="#358038"/><circle cx="663.1" cy="211.7" r="6.2" fill="#5ea034"/><circle cx="354.8" cy="212" r="6.2" fill="#82aa2e"/><circle cx="504.5" cy="443.5" r="6.2" fill="#2d4099"/><circle cx="480" cy="96.6" r="6.2" fill="#b7aa27"/>
<circle cx="629.7" cy="328.1" r="6.2" fill="#327938"/><circle cx="755" cy="212.6" r="6.2" fill="#559d36"/><circle cx="321.1" cy="328.5" r="6.2" fill="#3b8b38"/><circle cx="446.4" cy="212.9" r="6.2" fill="#76a730"/><circle cx="596.3" cy="444.7" r="6.2" fill="#2c3e96"/><circle cx="571.7" cy="97.3" r="6.2" fill="#b1ac27"/>
<circle cx="721.7" cy="329.2" r="6.2" fill="#2d7138"/><circle cx="287.4" cy="445.1" r="6.2" fill="#2f44a2"/><circle cx="412.8" cy="329.5" r="6.2" fill="#398838"/><circle cx="538.2" cy="213.8" r="6.2" fill="#6da532"/><circle cx="688.3" cy="445.9" r="6.2" fill="#2b3b90"/><circle cx="663.8" cy="98.1" r="6.2" fill="#aead28"/>
<circle cx="379.1" cy="446.3" r="6.2" fill="#2e439f"/><circle cx="354.5" cy="98.4" r="6.2" fill="#c2a527"/><circle cx="504.6" cy="330.6" r="6.2" fill="#378438"/><circle cx="630.3" cy="214.7" r="6.2" fill="#65a233"/><circle cx="780.5" cy="447.1" r="6.2" fill="#2a388a"/><circle cx="756" cy="98.9" r="6.2" fill="#adae28"/>
<circle cx="320.7" cy="215" r="6.2" fill="#8cab2d"/><circle cx="471" cy="447.5" r="6.2" fill="#2d419c"/><circle cx="446.4" cy="99.1" r="6.2" fill="#bba827"/><circle cx="596.7" cy="331.6" r="6.2" fill="#347f38"/><circle cx="722.5" cy="215.7" r="6.2" fill="#5c9f35"/><circle cx="286.8" cy="332" r="6.2" fill="#3d8d38"/>
<circle cx="412.6" cy="216" r="6.2" fill="#7ea92f"/><circle cx="563.1" cy="448.7" r="6.2" fill="#2d3f99"/><circle cx="538.5" cy="99.9" r="6.2" fill="#b5ab27"/><circle cx="689" cy="332.7" r="6.2" fill="#317738"/><circle cx="252.9" cy="449.1" r="6.2" fill="#2f46a4"/><circle cx="378.8" cy="333" r="6.2" fill="#3b8b38"/>
<circle cx="504.8" cy="216.9" r="6.2" fill="#74a731"/><circle cx="655.5" cy="449.9" r="6.2" fill="#2c3e95"/><circle cx="630.8" cy="100.6" r="6.2" fill="#b1ac28"/><circle cx="781.6" cy="333.7" r="6.2" fill="#2b6d38"/><circle cx="344.9" cy="450.3" r="6.2" fill="#2e44a1"/><circle cx="320.2" cy="100.9" r="6.2" fill="#c8a226"/>
<circle cx="471" cy="334.1" r="6.2" fill="#398938"/><circle cx="597.2" cy="217.8" r="6.2" fill="#6ba432"/><circle cx="748.1" cy="451.1" r="6.2" fill="#2b3b8f"/><circle cx="723.4" cy="101.4" r="6.2" fill="#aead28"/><circle cx="286.3" cy="218.1" r="6.2" fill="#96ad2b"/><circle cx="437.2" cy="451.5" r="6.2" fill="#2e429e"/>
<circle cx="412.5" cy="101.7" r="6.2" fill="#bfa627"/><circle cx="563.4" cy="335.1" r="6.2" fill="#378438"/><circle cx="689.8" cy="218.7" r="6.2" fill="#62a134"/><circle cx="252.2" cy="335.5" r="6.2" fill="#3f8f38"/><circle cx="378.5" cy="219" r="6.2" fill="#87aa2e"/><circle cx="529.7" cy="452.7" r="6.2" fill="#2d419b"/>
<circle cx="504.9" cy="102.4" r="6.2" fill="#b8a927"/><circle cx="656.1" cy="336.2" r="6.2" fill="#347d38"/><circle cx="782.7" cy="219.6" r="6.2" fill="#599f35"/><circle cx="344.6" cy="336.6" r="6.2" fill="#3d8d38"/><circle cx="471" cy="219.9" r="6.2" fill="#7ba830"/><circle cx="622.4" cy="453.9" r="6.2" fill="#2c3f98"/>
<circle cx="597.6" cy="103.2" r="6.2" fill="#b4ab27"/><circle cx="749" cy="337.3" r="6.2" fill="#2f7438"/><circle cx="310.5" cy="454.3" r="6.2" fill="#2f45a2"/><circle cx="285.7" cy="103.5" r="6.2" fill="#cda026"/><circle cx="437.1" cy="337.6" r="6.2" fill="#3b8b38"/><circle cx="563.8" cy="220.8" r="6.2" fill="#71a631"/>
<circle cx="715.3" cy="455.1" r="6.2" fill="#2c3d94"/><circle cx="690.6" cy="104" r="6.2" fill="#b0ac28"/><circle cx="251.6" cy="221.1" r="6.2" fill="#a0af29"/><circle cx="403.1" cy="455.5" r="6.2" fill="#2e43a0"/><circle cx="378.3" cy="104.2" r="6.2" fill="#c4a426"/><circle cx="529.9" cy="338.7" r="6.2" fill="#398938"/>
<circle cx="656.8" cy="221.8" r="6.2" fill="#69a333"/><circle cx="808.5" cy="456.4" r="6.2" fill="#2b3b8f"/><circle cx="783.7" cy="104.7" r="6.2" fill="#aead28"/><circle cx="344.2" cy="222.1" r="6.2" fill="#90ac2c"/><circle cx="495.9" cy="456.8" r="6.2" fill="#2e429d"/><circle cx="471.1" cy="105" r="6.2" fill="#bca727"/>
<circle cx="622.9" cy="339.8" r="6.2" fill="#368338"/><circle cx="750" cy="222.7" r="6.2" fill="#60a134"/><circle cx="310" cy="340.1" r="6.2" fill="#3e8e38"/><circle cx="437" cy="223" r="6.2" fill="#83aa2e"/><circle cx="589" cy="458" r="6.2" fill="#2d409a"/><circle cx="564.1" cy="105.8" r="6.2" fill="#b7aa27"/>
<circle cx="716.2" cy="340.8" r="6.2" fill="#327a38"/><circle cx="275.8" cy="458.4" r="6.2" fill="#2f46a4"/><circle cx="250.9" cy="106" r="6.2" fill="#d39d26"/><circle cx="402.9" cy="341.2" r="6.2" fill="#3d8d38"/><circle cx="530.1" cy="223.9" r="6.2" fill="#78a830"/><circle cx="682.3" cy="459.2" r="6.2" fill="#2c3f97"/>
<circle cx="657.4" cy="106.6" r="6.2" fill="#b3ab27"/><circle cx="809.7" cy="341.9" r="6.2" fill="#2d6f38"/><circle cx="368.7" cy="459.6" r="6.2" fill="#2f45a2"/><circle cx="343.8" cy="106.8" r="6.2" fill="#caa126"/><circle cx="496.1" cy="342.3" r="6.2" fill="#3b8b38"/><circle cx="623.5" cy="224.9" r="6.2" fill="#6fa532"/>
<circle cx="775.8" cy="460.4" r="6.2" fill="#2c3d94"/><circle cx="750.9" cy="107.3" r="6.2" fill="#b0ac28"/><circle cx="309.5" cy="225.2" r="6.2" fill="#99ae2a"/><circle cx="461.9" cy="460.9" r="6.2" fill="#2e439f"/><circle cx="437" cy="107.6" r="6.2" fill="#c1a527"/><circle cx="589.4" cy="343.4" r="6.2" fill="#398838"/>
<circle cx="717" cy="225.8" r="6.2" fill="#66a333"/><circle cx="275.2" cy="343.7" r="6.2" fill="#409038"/><circle cx="402.7" cy="226.1" r="6.2" fill="#8cab2d"/><circle cx="555.3" cy="462.1" r="6.2" fill="#2d429c"/><circle cx="530.4" cy="108.4" r="6.2" fill="#bba827"/><circle cx="683" cy="344.4" r="6.2" fill="#358138"/>
<circle cx="810.8" cy="226.7" r="6.2" fill="#5da035"/><circle cx="368.4" cy="344.8" r="6.2" fill="#3e8e38"/><circle cx="496.2" cy="227" r="6.2" fill="#80a92f"/><circle cx="649" cy="463.3" r="6.2" fill="#2d409a"/><circle cx="624" cy="109.2" r="6.2" fill="#b6aa27"/><circle cx="776.9" cy="345.5" r="6.2" fill="#307738"/>
<circle cx="334.1" cy="463.7" r="6.2" fill="#2f46a4"/><circle cx="309" cy="109.4" r="6.2" fill="#d09f26"/><circle cx="461.9" cy="345.9" r="6.2" fill="#3d8d38"/><circle cx="589.9" cy="228" r="6.2" fill="#76a730"/><circle cx="742.9" cy="464.6" r="6.2" fill="#2c3f97"/><circle cx="717.9" cy="110" r="6.2" fill="#b3ab27"/>
<circle cx="274.6" cy="228.3" r="6.2" fill="#a3af29"/><circle cx="427.6" cy="465" r="6.2" fill="#2e44a1"/><circle cx="402.5" cy="110.2" r="6.2" fill="#c6a326"/><circle cx="555.7" cy="347" r="6.2" fill="#3b8b38"/><circle cx="683.8" cy="228.9" r="6.2" fill="#6da532"/><circle cx="837" cy="465.8" r="6.2" fill="#2c3d94"/>
<circle cx="812" cy="110.8" r="6.2" fill="#b0ad28"/><circle cx="368.1" cy="229.2" r="6.2" fill="#94ad2b"/><circle cx="521.4" cy="466.2" r="6.2" fill="#2e439f"/><circle cx="496.3" cy="111" r="6.2" fill="#bfa627"/><circle cx="649.6" cy="348.1" r="6.2" fill="#388738"/><circle cx="778" cy="229.9" r="6.2" fill="#64a234"/>
<circle cx="333.7" cy="348.4" r="6.2" fill="#409038"/><circle cx="461.9" cy="230.2" r="6.2" fill="#88ab2d"/><circle cx="615.4" cy="467.5" r="6.2" fill="#2d419c"/><circle cx="590.3" cy="111.8" r="6.2" fill="#baa827"/><circle cx="743.8" cy="349.2" r="6.2" fill="#347e38"/><circle cx="299.1" cy="467.9" r="6.2" fill="#2f46a5"/>
<circle cx="274" cy="112.1" r="6.2" fill="#d69c25"/><circle cx="427.5" cy="349.5" r="6.2" fill="#3f8f38"/><circle cx="556" cy="231.1" r="6.2" fill="#7da92f"/><circle cx="709.7" cy="468.7" r="6.2" fill="#2d4099"/><circle cx="684.5" cy="112.6" r="6.2" fill="#b6aa27"/><circle cx="838.3" cy="350.3" r="6.2" fill="#2e7238"/>
<circle cx="393" cy="469.1" r="6.2" fill="#2f45a3"/><circle cx="367.8" cy="112.9" r="6.2" fill="#cca026"/><circle cx="521.6" cy="350.6" r="6.2" fill="#3d8d38"/><circle cx="650.3" cy="232.1" r="6.2" fill="#74a731"/><circle cx="804.2" cy="470" r="6.2" fill="#2c3f97"/><circle cx="779" cy="113.4" r="6.2" fill="#b3ab27"/>
<circle cx="333.3" cy="232.4" r="6.2" fill="#9dae2a"/><circle cx="487.2" cy="470.4" r="6.2" fill="#2e44a1"/><circle cx="462" cy="113.7" r="6.2" fill="#c4a426"/><circle cx="615.9" cy="351.8" r="6.2" fill="#3b8b38"/><circle cx="744.8" cy="233" r="6.2" fill="#6ba432"/><circle cx="298.6" cy="352.1" r="6.2" fill="#419138"/>
<circle cx="427.4" cy="233.3" r="6.2" fill="#90ac2c"/><circle cx="581.5" cy="471.7" r="6.2" fill="#2e429e"/><circle cx="556.3" cy="114.5" r="6.2" fill="#bea727"/><circle cx="710.5" cy="352.9" r="6.2" fill="#378438"/><circle cx="839.6" cy="234" r="6.2" fill="#61a134"/><circle cx="392.8" cy="353.2" r="6.2" fill="#409038"/>
<circle cx="521.8" cy="234.3" r="6.2" fill="#85aa2e"/><circle cx="676.1" cy="472.9" r="6.2" fill="#2d419b"/><circle cx="650.9" cy="115.3" r="6.2" fill="#b9a827"/><circle cx="805.3" cy="354" r="6.2" fill="#327938"/><circle cx="358.1" cy="473.3" r="6.2" fill="#2f46a5"/><circle cx="332.8" cy="115.5" r="6.2" fill="#d29e26"/>
<circle cx="487.2" cy="354.3" r="6.2" fill="#3f8f38"/><circle cx="616.5" cy="235.2" r="6.2" fill="#7ba830"/><circle cx="771" cy="474.2" r="6.2" fill="#2d4099"/><circle cx="745.8" cy="116.1" r="6.2" fill="#b6aa27"/><circle cx="298.1" cy="235.6" r="6.2" fill="#a6b028"/><circle cx="452.6" cy="474.6" r="6.2" fill="#2f45a2"/>
<circle cx="427.3" cy="116.3" r="6.2" fill="#c9a226"/><circle cx="581.9" cy="355.5" r="6.2" fill="#3d8d38"/><circle cx="711.4" cy="236.2" r="6.2" fill="#71a631"/><circle cx="866.1" cy="475.5" r="6.2" fill="#2c3f98"/><circle cx="840.9" cy="116.9" r="6.2" fill="#b2ac27"/><circle cx="392.6" cy="236.5" r="6.2" fill="#99ad2b"/>
<circle cx="547.4" cy="475.9" r="6.2" fill="#2e44a0"/><circle cx="522" cy="117.1" r="6.2" fill="#c2a527"/><circle cx="676.9" cy="356.6" r="6.2" fill="#3a8a38"/><circle cx="806.5" cy="237.2" r="6.2" fill="#68a333"/><circle cx="357.8" cy="356.9" r="6.2" fill="#429238"/><circle cx="487.3" cy="237.5" r="6.2" fill="#8dac2c"/>
<circle cx="642.3" cy="477.2" r="6.2" fill="#2e429d"/><circle cx="617" cy="118" r="6.2" fill="#bda727"/><circle cx="772.1" cy="357.7" r="6.2" fill="#358038"/><circle cx="322.9" cy="477.6" r="6.2" fill="#3047a6"/><circle cx="297.5" cy="118.2" r="6.2" fill="#d89b25"/><circle cx="452.6" cy="358.1" r="6.2" fill="#419138"/>
<circle cx="582.4" cy="238.5" r="6.2" fill="#83aa2e"/><circle cx="737.6" cy="478.4" r="6.2" fill="#2d419b"/><circle cx="712.2" cy="118.8" r="6.2" fill="#baa827"/><circle cx="867.5" cy="358.8" r="6.2" fill="#2f7538"/><circle cx="417.8" cy="478.9" r="6.2" fill="#2f46a4"/><circle cx="392.4" cy="119" r="6.2" fill="#cf9f26"/>
<circle cx="547.7" cy="359.2" r="6.2" fill="#3f8f38"/><circle cx="677.6" cy="239.4" r="6.2" fill="#78a830"/><circle cx="833" cy="479.7" r="6.2" fill="#2d4099"/><circle cx="807.7" cy="119.6" r="6.2" fill="#b5aa27"/><circle cx="357.4" cy="239.7" r="6.2" fill="#a1af29"/><circle cx="512.9" cy="480.1" r="6.2" fill="#2f45a2"/>
<circle cx="487.4" cy="119.8" r="6.2" fill="#c7a326"/><circle cx="643" cy="360.3" r="6.2" fill="#3d8d38"/><circle cx="773.1" cy="240.4" r="6.2" fill="#6fa532"/><circle cx="322.5" cy="360.7" r="6.2" fill="#439338"/><circle cx="452.6" cy="240.7" r="6.2" fill="#95ad2b"/><circle cx="608.2" cy="481.4" r="6.2" fill="#2e439f"/>
<circle cx="582.8" cy="120.7" r="6.2" fill="#c1a527"/><circle cx="738.5" cy="361.4" r="6.2" fill="#398738"/><circle cx="868.9" cy="241.4" r="6.2" fill="#66a233"/><circle cx="417.6" cy="361.8" r="6.2" fill="#429238"/><circle cx="548" cy="241.7" r="6.2" fill="#8bab2d"/><circle cx="703.8" cy="482.7" r="6.2" fill="#2e429d"/>
<circle cx="678.4" cy="121.5" r="6.2" fill="#bda727"/><circle cx="834.3" cy="362.6" r="6.2" fill="#337c38"/><circle cx="382.6" cy="483.1" r="6.2" fill="#3047a6"/><circle cx="357.1" cy="121.8" r="6.2" fill="#d59d26"/><circle cx="513.1" cy="362.9" r="6.2" fill="#419138"/><circle cx="643.6" cy="242.7" r="6.2" fill="#80a92f"/>
<circle cx="799.7" cy="484" r="6.2" fill="#2d419b"/><circle cx="774.2" cy="122.3" r="6.2" fill="#b9a827"/><circle cx="322" cy="243" r="6.2" fill="#a9b028"/><circle cx="478.1" cy="484.4" r="6.2" fill="#2f46a4"/><circle cx="452.6" cy="122.6" r="6.2" fill="#cda026"/><circle cx="608.7" cy="364.1" r="6.2" fill="#3f8f38"/>
<circle cx="739.5" cy="243.6" r="6.2" fill="#76a730"/><circle cx="895.8" cy="485.3" r="6.2" fill="#2d409a"/><circle cx="870.3" cy="123.1" r="6.2" fill="#b3ab27"/><circle cx="417.5" cy="244" r="6.2" fill="#9eae2a"/><circle cx="573.8" cy="485.7" r="6.2" fill="#2f44a1"/><circle cx="548.3" cy="123.4" r="6.2" fill="#c6a326"/>
<circle cx="704.7" cy="365.2" r="6.2" fill="#3b8b38"/><circle cx="835.6" cy="244.6" r="6.2" fill="#6da532"/><circle cx="382.4" cy="365.6" r="6.2" fill="#439338"/><circle cx="513.3" cy="245" r="6.2" fill="#93ac2c"/><circle cx="669.8" cy="487" r="6.2" fill="#2e439f"/><circle cx="644.2" cy="124.2" r="6.2" fill="#c2a527"/>
<circle cx="800.9" cy="366.4" r="6.2" fill="#378338"/><circle cx="347.2" cy="487.5" r="6.2" fill="#3048a7"/><circle cx="321.5" cy="124.5" r="6.2" fill="#db9a25"/><circle cx="478.2" cy="366.7" r="6.2" fill="#439338"/><circle cx="609.3" cy="245.9" r="6.2" fill="#88ab2d"/><circle cx="766" cy="488.3" r="6.2" fill="#2e429d"/>
<circle cx="740.4" cy="125" r="6.2" fill="#bea727"/><circle cx="897.3" cy="367.5" r="6.2" fill="#317738"/><circle cx="443.1" cy="488.8" r="6.2" fill="#2f47a5"/><circle cx="417.4" cy="125.3" r="6.2" fill="#d29e26"/><circle cx="574.2" cy="367.9" r="6.2" fill="#419138"/><circle cx="705.5" cy="246.9" r="6.2" fill="#7da92f"/>
<circle cx="862.5" cy="489.6" r="6.2" fill="#2d419c"/><circle cx="836.9" cy="125.9" r="6.2" fill="#b8a927"/><circle cx="382.1" cy="247.3" r="6.2" fill="#a6b028"/><circle cx="539.1" cy="490.1" r="6.2" fill="#2f45a3"/><circle cx="513.5" cy="126.2" r="6.2" fill="#cba126"/><circle cx="670.5" cy="369" r="6.2" fill="#3e8e38"/>
<circle cx="802" cy="247.9" r="6.2" fill="#73a731"/><circle cx="346.8" cy="369.4" r="6.2" fill="#449438"/><circle cx="478.3" cy="248.2" r="6.2" fill="#9bae2a"/><circle cx="635.5" cy="491.4" r="6.2" fill="#2e44a1"/><circle cx="609.8" cy="127" r="6.2" fill="#c6a326"/><circle cx="767.1" cy="370.2" r="6.2" fill="#3a8a38"/>
<circle cx="898.8" cy="248.9" r="6.2" fill="#6ba432"/><circle cx="443" cy="370.6" r="6.2" fill="#449438"/><circle cx="574.6" cy="249.2" r="6.2" fill="#90ac2c"/><circle cx="732.1" cy="492.7" r="6.2" fill="#2e439f"/><circle cx="706.4" cy="127.8" r="6.2" fill="#c2a527"/><circle cx="863.9" cy="371.3" r="6.2" fill="#347f38"/>
<circle cx="407.7" cy="493.1" r="6.2" fill="#3047a7"/><circle cx="381.9" cy="128.1" r="6.2" fill="#d89b25"/><circle cx="539.4" cy="371.7" r="6.2" fill="#439338"/><circle cx="671.3" cy="250.2" r="6.2" fill="#85aa2e"/><circle cx="828.9" cy="494" r="6.2" fill="#2e429d"/><circle cx="803.2" cy="128.7" r="6.2" fill="#bda727"/>
<circle cx="346.4" cy="250.6" r="6.2" fill="#aaaf28"/><circle cx="504.1" cy="494.5" r="6.2" fill="#2f46a5"/><circle cx="478.3" cy="128.9" r="6.2" fill="#d09f26"/><circle cx="636.1" cy="372.9" r="6.2" fill="#409038"/><circle cx="768.2" cy="251.2" r="6.2" fill="#7aa830"/><circle cx="900.3" cy="129.5" r="6.2" fill="#b5aa27"/>
<circle cx="442.9" cy="251.6" r="6.2" fill="#a2af29"/><circle cx="600.9" cy="495.8" r="6.2" fill="#2f45a3"/><circle cx="575" cy="129.8" r="6.2" fill="#cba126"/><circle cx="733" cy="374.1" r="6.2" fill="#3d8d38"/><circle cx="865.3" cy="252.2" r="6.2" fill="#71a631"/><circle cx="407.5" cy="374.4" r="6.2" fill="#459538"/>
<circle cx="539.7" cy="252.6" r="6.2" fill="#98ad2b"/><circle cx="697.8" cy="497.1" r="6.2" fill="#2e44a0"/><circle cx="672" cy="130.6" r="6.2" fill="#c6a326"/><circle cx="830.2" cy="375.2" r="6.2" fill="#388538"/><circle cx="372" cy="497.6" r="6.2" fill="#3048a8"/><circle cx="346.1" cy="130.9" r="6.2" fill="#de9925"/>
<circle cx="504.3" cy="375.6" r="6.2" fill="#459538"/><circle cx="636.7" cy="253.6" r="6.2" fill="#8dac2c"/><circle cx="795.1" cy="498.4" r="6.2" fill="#2e439f"/><circle cx="769.2" cy="131.5" r="6.2" fill="#c2a527"/><circle cx="468.8" cy="498.9" r="6.2" fill="#3047a7"/><circle cx="442.9" cy="131.7" r="6.2" fill="#d59c25"/>
<circle cx="601.4" cy="376.8" r="6.2" fill="#439338"/><circle cx="734" cy="254.6" r="6.2" fill="#83aa2e"/><circle cx="866.7" cy="132.3" r="6.2" fill="#bca827"/><circle cx="407.3" cy="254.9" r="6.2" fill="#a9b028"/><circle cx="565.9" cy="500.2" r="6.2" fill="#2f46a5"/><circle cx="540" cy="132.6" r="6.2" fill="#cf9f26"/>
<circle cx="698.7" cy="377.9" r="6.2" fill="#3f8f38"/><circle cx="831.5" cy="255.6" r="6.2" fill="#78a830"/><circle cx="371.7" cy="378.3" r="6.2" fill="#469638"/><circle cx="504.5" cy="255.9" r="6.2" fill="#a0af29"/><circle cx="663.3" cy="501.5" r="6.2" fill="#2f45a2"/><circle cx="637.3" cy="133.4" r="6.2" fill="#cba126"/>
<circle cx="796.3" cy="379.1" r="6.2" fill="#3b8b38"/><circle cx="468.9" cy="379.5" r="6.2" fill="#469638"/><circle cx="601.9" cy="256.9" r="6.2" fill="#95ad2b"/><circle cx="760.9" cy="502.9" r="6.2" fill="#2e44a0"/><circle cx="734.9" cy="134.3" r="6.2" fill="#c7a326"/><circle cx="433.2" cy="503.3" r="6.2" fill="#3048a8"/>
<circle cx="407.1" cy="134.6" r="6.2" fill="#db9a25"/><circle cx="566.3" cy="380.7" r="6.2" fill="#459538"/><circle cx="699.5" cy="258" r="6.2" fill="#8bab2d"/><circle cx="832.8" cy="135.1" r="6.2" fill="#c2a527"/><circle cx="371.4" cy="258.3" r="6.2" fill="#acae28"/><circle cx="530.7" cy="504.7" r="6.2" fill="#3047a6"/>
<circle cx="504.6" cy="135.4" r="6.2" fill="#d49d26"/><circle cx="664" cy="381.9" r="6.2" fill="#429238"/><circle cx="797.4" cy="259" r="6.2" fill="#80a92f"/><circle cx="468.9" cy="259.3" r="6.2" fill="#a8b028"/><circle cx="628.4" cy="506" r="6.2" fill="#2f46a4"/><circle cx="602.4" cy="136.3" r="6.2" fill="#cf9f26"/>
<circle cx="762" cy="383.1" r="6.2" fill="#3e8e38"/><circle cx="433.1" cy="383.5" r="6.2" fill="#489838"/><circle cx="566.7" cy="260.3" r="6.2" fill="#9dae2a"/><circle cx="726.5" cy="507.4" r="6.2" fill="#2f45a2"/><circle cx="700.3" cy="137.1" r="6.2" fill="#cca026"/><circle cx="397.3" cy="507.8" r="6.2" fill="#3047a7"/>
<circle cx="371.1" cy="137.4" r="6.2" fill="#e19825"/><circle cx="530.9" cy="384.6" r="6.2" fill="#479738"/><circle cx="664.7" cy="261.4" r="6.2" fill="#93ac2c"/><circle cx="798.6" cy="138" r="6.2" fill="#c7a226"/><circle cx="495.1" cy="509.2" r="6.2" fill="#3048a8"/><circle cx="468.9" cy="138.3" r="6.2" fill="#d99b25"/>
<circle cx="629" cy="385.8" r="6.2" fill="#449438"/><circle cx="763" cy="262.4" r="6.2" fill="#88ab2d"/><circle cx="433" cy="262.7" r="6.2" fill="#abaf28"/><circle cx="593.3" cy="510.6" r="6.2" fill="#3047a6"/><circle cx="567.1" cy="139.2" r="6.2" fill="#d49d26"/><circle cx="727.4" cy="387" r="6.2" fill="#419138"/>
<circle cx="397" cy="387.4" r="6.2" fill="#499938"/><circle cx="531.2" cy="263.8" r="6.2" fill="#a5b028"/><circle cx="691.7" cy="511.9" r="6.2" fill="#2f46a4"/><circle cx="665.5" cy="140" r="6.2" fill="#d09f26"/><circle cx="495.3" cy="388.6" r="6.2" fill="#489838"/><circle cx="629.6" cy="264.8" r="6.2" fill="#9bae2a"/>
<circle cx="764.1" cy="140.9" r="6.2" fill="#cda026"/><circle cx="459.3" cy="513.8" r="6.2" fill="#3048a7"/><circle cx="432.9" cy="141.2" r="6.2" fill="#de9925"/><circle cx="593.7" cy="389.8" r="6.2" fill="#469638"/><circle cx="728.3" cy="265.8" r="6.2" fill="#90ac2c"/><circle cx="396.8" cy="266.2" r="6.2" fill="#aead28"/>
<circle cx="557.8" cy="515.1" r="6.2" fill="#3048a8"/><circle cx="531.5" cy="142.1" r="6.2" fill="#d89b25"/><circle cx="692.5" cy="391" r="6.2" fill="#439338"/><circle cx="495.4" cy="267.2" r="6.2" fill="#aaaf28"/><circle cx="656.6" cy="516.5" r="6.2" fill="#2f46a5"/><circle cx="630.2" cy="142.9" r="6.2" fill="#d59d26"/>
<circle cx="459.3" cy="392.7" r="6.2" fill="#4a9a38"/><circle cx="594.2" cy="268.3" r="6.2" fill="#a3af29"/><circle cx="729.3" cy="143.8" r="6.2" fill="#d29e26"/><circle cx="423.1" cy="518.3" r="6.2" fill="#2f47a6"/><circle cx="396.6" cy="144.1" r="6.2" fill="#e49625"/><circle cx="558.1" cy="393.9" r="6.2" fill="#499938"/>
<circle cx="693.3" cy="269.3" r="6.2" fill="#98ad2b"/><circle cx="522" cy="519.7" r="6.2" fill="#3048a7"/><circle cx="495.5" cy="145" r="6.2" fill="#dd9925"/><circle cx="657.3" cy="395.1" r="6.2" fill="#469638"/><circle cx="459.3" cy="270.7" r="6.2" fill="#adae28"/><circle cx="621.2" cy="521.1" r="6.2" fill="#3047a7"/>
<circle cx="594.7" cy="145.9" r="6.2" fill="#d99b25"/><circle cx="422.9" cy="396.7" r="6.2" fill="#4d9b37"/><circle cx="558.5" cy="271.8" r="6.2" fill="#a9b028"/><circle cx="694.2" cy="146.7" r="6.2" fill="#d69c25"/><circle cx="522.2" cy="398" r="6.2" fill="#4b9a38"/><circle cx="658" cy="272.8" r="6.2" fill="#a0af29"/>
<circle cx="485.9" cy="524.4" r="6.2" fill="#2f47a6"/><circle cx="459.3" cy="147.9" r="6.2" fill="#e29725"/><circle cx="621.8" cy="399.2" r="6.2" fill="#489838"/><circle cx="422.8" cy="274.3" r="6.2" fill="#b1ac28"/><circle cx="585.5" cy="525.8" r="6.2" fill="#3048a8"/><circle cx="558.9" cy="148.8" r="6.2" fill="#dd9925"/>
<circle cx="522.4" cy="275.3" r="6.2" fill="#acae28"/><circle cx="658.7" cy="149.7" r="6.2" fill="#db9a25"/><circle cx="486" cy="402.1" r="6.2" fill="#509c37"/><circle cx="622.3" cy="276.4" r="6.2" fill="#a8b028"/><circle cx="449.4" cy="529.1" r="6.2" fill="#2f47a6"/><circle cx="422.7" cy="150.9" r="6.2" fill="#e79524"/>
<circle cx="585.9" cy="403.3" r="6.2" fill="#4b9a38"/><circle cx="549.4" cy="530.5" r="6.2" fill="#3047a7"/><circle cx="522.7" cy="151.8" r="6.2" fill="#e29725"/><circle cx="486.1" cy="278.9" r="6.2" fill="#b0ad28"/><circle cx="622.9" cy="152.7" r="6.2" fill="#df9825"/><circle cx="449.4" cy="406.2" r="6.2" fill="#559d36"/>
<circle cx="586.4" cy="280" r="6.2" fill="#abaf28"/><circle cx="549.7" cy="407.5" r="6.2" fill="#529c37"/><circle cx="513" cy="535.2" r="6.2" fill="#2f47a6"/><circle cx="486.2" cy="154.8" r="6.2" fill="#e69524"/><circle cx="449.3" cy="282.5" r="6.2" fill="#b3ab27"/><circle cx="586.8" cy="155.7" r="6.2" fill="#e39725"/>
<circle cx="550.1" cy="283.6" r="6.2" fill="#afad28"/><circle cx="513.2" cy="411.7" r="6.2" fill="#589e36"/><circle cx="476.3" cy="540" r="6.2" fill="#2f46a5"/><circle cx="449.3" cy="157.9" r="6.2" fill="#ea9424"/><circle cx="550.4" cy="158.8" r="6.2" fill="#e69524"/><circle cx="513.4" cy="287.2" r="6.2" fill="#b2ac27"/>
<circle cx="476.4" cy="415.9" r="6.2" fill="#5ea035"/><circle cx="513.6" cy="161.9" r="6.2" fill="#ea9424"/><circle cx="476.4" cy="290.9" r="6.2" fill="#b5aa27"/><circle cx="476.5" cy="165" r="6.2" fill="#ed9224"/>
</g>
<text class="t" x="198.5" y="127" text-anchor="end">0.175</text>
<text class="t" x="198.5" y="175.8" text-anchor="end">0.150</text>
<text class="t" x="198.5" y="225.1" text-anchor="end">0.125</text>
<text class="t" x="198.5" y="273.5" text-anchor="end">0.100</text>
<text class="t" x="198.5" y="322.4" text-anchor="end">0.075</text>
<text class="t" x="198.5" y="370.7" text-anchor="end">0.050</text>
<text class="t" x="198.5" y="419.1" text-anchor="end">0.025</text>
<text class="t" x="198.5" y="467.4" text-anchor="end">0</text>
<text class="t" x="147.4" y="513.2">3.6</text>
<text class="t" x="191.4" y="553.5">3.8</text>
<text class="t" x="257.4" y="572.7">4.0</text>
<text class="t" x="322.4" y="594.7">4.2</text>
<text class="t" x="380.9" y="627.6">4.4</text>
<text class="t" x="506.3" y="625.1">6.6</text>
<text class="t" x="587.2" y="612">6.4</text>
<text class="t" x="670.9" y="600.3">6.2</text>
<text class="t" x="751.7" y="589.8">6.0</text>
<text class="t" x="832.7" y="577.1">5.8</text>
<text class="t" x="913.5" y="568.2">5.6</text>
<text class="t" transform="translate(54.4,355) rotate(-90)"><tspan class="i">w</tspan><tspan class="s i" dy="12">O</tspan><tspan dy="-12">/</tspan><tspan class="i q">%</tspan></text>
<text class="t" transform="translate(158,594) rotate(26)"><tspan class="i">w</tspan><tspan class="s" dy="12">V</tspan><tspan dy="-12">/</tspan><tspan class="i q">%</tspan></text>
<text class="t" transform="translate(681,665) rotate(-10)"><tspan class="i">w</tspan><tspan class="s" dy="12">Al</tspan><tspan dy="-12">/</tspan><tspan class="i q">%</tspan></text>
</g>
<rect x="2084.2" y="146.5" width="40" height="316" fill="url(#cb)" stroke="#3a3a3a" stroke-width="1"/>
<path d="M2124.2 433.8h4M2124.2 376.3h4M2124.2 318.9h4M2124.2 261.4h4M2124.2 204h4" stroke="#3a3a3a" stroke-width="1.5"/>
<text class="c" x="2143.4" y="164.6">1100</text>
<text class="c" x="2143.4" y="220.6">1000</text>
<text class="c" x="2143.4" y="278.2">900</text>
<text class="c" x="2143.4" y="335.7">800</text>
<text class="c" x="2143.4" y="392.5">700</text>
<text class="c" x="2143.4" y="449.9">600</text>
<text class="c" x="2084.3" y="107.4">YS/MPa</text>
<text class="p" x="1194.9" y="46.5">(b)</text>
<g transform="translate(2235.5,0)">
<use href="#box"/>
<g class="d">
<circle cx="648.4" cy="403.3" r="6.2" fill="#2e44a1"/><circle cx="649" cy="295" r="6.2" fill="#347e38"/><circle cx="616.9" cy="406.9" r="6.2" fill="#2f45a2"/><circle cx="649.6" cy="186" r="6.2" fill="#75a730"/><circle cx="617.4" cy="298.2" r="6.2" fill="#368138"/><circle cx="585.1" cy="410.6" r="6.2" fill="#2f45a3"/>
<circle cx="673.8" cy="411.7" r="6.2" fill="#2f44a1"/><circle cx="650.2" cy="76.4" r="6.2" fill="#c2a527"/><circle cx="617.9" cy="188.8" r="6.2" fill="#7aa830"/><circle cx="585.5" cy="301.5" r="6.2" fill="#388538"/><circle cx="553.1" cy="414.3" r="6.2" fill="#2f46a4"/><circle cx="674.5" cy="302.4" r="6.2" fill="#358038"/>
<circle cx="642.1" cy="415.4" r="6.2" fill="#2f45a3"/><circle cx="618.4" cy="78.8" r="6.2" fill="#c3a427"/><circle cx="585.9" cy="191.6" r="6.2" fill="#7fa92f"/><circle cx="553.4" cy="304.7" r="6.2" fill="#398938"/><circle cx="675.2" cy="192.5" r="6.2" fill="#78a830"/><circle cx="520.8" cy="418" r="6.2" fill="#2f47a6"/>
<circle cx="642.7" cy="305.7" r="6.2" fill="#378438"/><circle cx="610.2" cy="419.2" r="6.2" fill="#2f46a4"/><circle cx="586.3" cy="81.1" r="6.2" fill="#c5a326"/><circle cx="553.7" cy="194.5" r="6.2" fill="#84aa2e"/><circle cx="699.8" cy="420.3" r="6.2" fill="#2f45a2"/><circle cx="675.9" cy="81.9" r="6.2" fill="#c3a427"/>
<circle cx="521" cy="308" r="6.2" fill="#3b8b38"/><circle cx="643.3" cy="195.3" r="6.2" fill="#7ea92f"/><circle cx="488.3" cy="421.8" r="6.2" fill="#3047a7"/><circle cx="610.7" cy="309" r="6.2" fill="#398738"/><circle cx="578" cy="422.9" r="6.2" fill="#2f46a5"/><circle cx="554" cy="83.5" r="6.2" fill="#c8a226"/>
<circle cx="700.5" cy="310" r="6.2" fill="#368338"/><circle cx="521.2" cy="197.4" r="6.2" fill="#89ab2d"/><circle cx="667.9" cy="424.1" r="6.2" fill="#2f45a3"/><circle cx="643.9" cy="84.3" r="6.2" fill="#c5a426"/><circle cx="488.4" cy="311.4" r="6.2" fill="#3d8d38"/><circle cx="611.2" cy="198.2" r="6.2" fill="#83aa2e"/>
<circle cx="455.5" cy="425.6" r="6.2" fill="#3048a8"/><circle cx="578.4" cy="312.4" r="6.2" fill="#3a8a38"/><circle cx="701.3" cy="199.1" r="6.2" fill="#7ca92f"/><circle cx="545.5" cy="426.8" r="6.2" fill="#3047a6"/><circle cx="521.4" cy="86" r="6.2" fill="#caa126"/><circle cx="668.5" cy="313.4" r="6.2" fill="#388638"/>
<circle cx="488.5" cy="200.2" r="6.2" fill="#8fac2c"/><circle cx="635.7" cy="427.9" r="6.2" fill="#2f46a4"/><circle cx="611.7" cy="86.7" r="6.2" fill="#c7a326"/><circle cx="455.5" cy="314.7" r="6.2" fill="#3f8f38"/><circle cx="578.8" cy="201.1" r="6.2" fill="#89ab2d"/><circle cx="726.2" cy="429.1" r="6.2" fill="#2f45a3"/>
<circle cx="702.1" cy="87.4" r="6.2" fill="#c4a426"/><circle cx="422.4" cy="429.4" r="6.2" fill="#3048a7"/><circle cx="545.8" cy="315.7" r="6.2" fill="#3c8c38"/><circle cx="669.2" cy="202" r="6.2" fill="#82aa2e"/><circle cx="512.8" cy="430.6" r="6.2" fill="#3048a7"/><circle cx="488.6" cy="88.4" r="6.2" fill="#cda026"/>
<circle cx="636.3" cy="316.8" r="6.2" fill="#3a8938"/><circle cx="455.5" cy="203.2" r="6.2" fill="#95ad2b"/><circle cx="603.3" cy="431.8" r="6.2" fill="#2f47a6"/><circle cx="579.1" cy="89.1" r="6.2" fill="#c9a226"/><circle cx="727" cy="317.8" r="6.2" fill="#388638"/><circle cx="422.3" cy="318.1" r="6.2" fill="#409038"/>
<circle cx="546.1" cy="204" r="6.2" fill="#8eac2c"/><circle cx="694.1" cy="432.9" r="6.2" fill="#2f46a4"/><circle cx="669.9" cy="89.9" r="6.2" fill="#c6a326"/><circle cx="389.1" cy="433.3" r="6.2" fill="#3047a7"/><circle cx="512.9" cy="319.1" r="6.2" fill="#3d8d38"/><circle cx="636.9" cy="204.9" r="6.2" fill="#88ab2d"/>
<circle cx="479.8" cy="434.5" r="6.2" fill="#3048a8"/><circle cx="455.5" cy="90.9" r="6.2" fill="#d09f26"/><circle cx="603.8" cy="320.2" r="6.2" fill="#3b8b38"/><circle cx="727.9" cy="205.8" r="6.2" fill="#81a92f"/><circle cx="422.2" cy="206.1" r="6.2" fill="#9bae2a"/><circle cx="570.6" cy="435.6" r="6.2" fill="#3047a7"/>
<circle cx="546.4" cy="91.6" r="6.2" fill="#cba126"/><circle cx="694.9" cy="321.2" r="6.2" fill="#398938"/><circle cx="388.9" cy="321.5" r="6.2" fill="#429238"/><circle cx="513.1" cy="207" r="6.2" fill="#94ad2b"/><circle cx="661.8" cy="436.8" r="6.2" fill="#2f47a5"/><circle cx="637.5" cy="92.3" r="6.2" fill="#c8a226"/>
<circle cx="355.5" cy="437.2" r="6.2" fill="#2f47a6"/><circle cx="479.8" cy="322.6" r="6.2" fill="#3f8f38"/><circle cx="604.3" cy="207.9" r="6.2" fill="#8eac2c"/><circle cx="753.1" cy="438" r="6.2" fill="#2f46a4"/><circle cx="728.8" cy="93.1" r="6.2" fill="#c6a326"/><circle cx="446.5" cy="438.4" r="6.2" fill="#3048a7"/>
<circle cx="422.1" cy="93.3" r="6.2" fill="#d39d26"/><circle cx="571" cy="323.6" r="6.2" fill="#3d8d38"/><circle cx="695.6" cy="208.8" r="6.2" fill="#87ab2d"/><circle cx="388.6" cy="209.1" r="6.2" fill="#a1af29"/><circle cx="537.7" cy="439.5" r="6.2" fill="#3048a8"/><circle cx="513.3" cy="94.1" r="6.2" fill="#ce9f26"/>
<circle cx="662.4" cy="324.6" r="6.2" fill="#3b8b38"/><circle cx="355.1" cy="325" r="6.2" fill="#449438"/><circle cx="479.9" cy="209.9" r="6.2" fill="#9aae2a"/><circle cx="629.1" cy="440.7" r="6.2" fill="#3047a7"/><circle cx="604.7" cy="94.8" r="6.2" fill="#caa126"/><circle cx="754.1" cy="325.7" r="6.2" fill="#398838"/>
<circle cx="321.6" cy="441.1" r="6.2" fill="#2f47a6"/><circle cx="446.4" cy="326" r="6.2" fill="#419138"/><circle cx="571.4" cy="210.8" r="6.2" fill="#94ad2b"/><circle cx="720.8" cy="441.9" r="6.2" fill="#2f46a5"/><circle cx="696.4" cy="95.6" r="6.2" fill="#c8a226"/><circle cx="412.9" cy="442.3" r="6.2" fill="#2f47a7"/>
<circle cx="388.4" cy="95.8" r="6.2" fill="#d79c25"/><circle cx="537.9" cy="327.1" r="6.2" fill="#3e8e38"/><circle cx="663.1" cy="211.7" r="6.2" fill="#8eac2c"/><circle cx="354.8" cy="212" r="6.2" fill="#a8b028"/><circle cx="504.5" cy="443.5" r="6.2" fill="#3048a7"/><circle cx="480" cy="96.6" r="6.2" fill="#d19e26"/>
<circle cx="629.7" cy="328.1" r="6.2" fill="#3c8c38"/><circle cx="755" cy="212.6" r="6.2" fill="#85aa2e"/><circle cx="321.1" cy="328.5" r="6.2" fill="#459538"/><circle cx="446.4" cy="212.9" r="6.2" fill="#a0af29"/><circle cx="596.3" cy="444.7" r="6.2" fill="#3048a8"/><circle cx="571.7" cy="97.3" r="6.2" fill="#cda026"/>
<circle cx="721.7" cy="329.2" r="6.2" fill="#3b8b38"/><circle cx="287.4" cy="445.1" r="6.2" fill="#2f47a5"/><circle cx="412.8" cy="329.5" r="6.2" fill="#429238"/><circle cx="538.2" cy="213.8" r="6.2" fill="#9aae2a"/><circle cx="688.3" cy="445.9" r="6.2" fill="#3047a7"/><circle cx="663.8" cy="98.1" r="6.2" fill="#caa126"/>
<circle cx="379.1" cy="446.3" r="6.2" fill="#2f47a6"/><circle cx="354.5" cy="98.4" r="6.2" fill="#da9a25"/><circle cx="504.6" cy="330.6" r="6.2" fill="#409038"/><circle cx="630.3" cy="214.7" r="6.2" fill="#94ad2b"/><circle cx="780.5" cy="447.1" r="6.2" fill="#2f46a5"/><circle cx="756" cy="98.9" r="6.2" fill="#c7a226"/>
<circle cx="320.7" cy="215" r="6.2" fill="#abaf28"/><circle cx="471" cy="447.5" r="6.2" fill="#2f47a7"/><circle cx="446.4" cy="99.1" r="6.2" fill="#d49d26"/><circle cx="596.7" cy="331.6" r="6.2" fill="#3e8e38"/><circle cx="722.5" cy="215.7" r="6.2" fill="#8cab2d"/><circle cx="286.8" cy="332" r="6.2" fill="#479738"/>
<circle cx="412.6" cy="216" r="6.2" fill="#a6b028"/><circle cx="563.1" cy="448.7" r="6.2" fill="#3048a7"/><circle cx="538.5" cy="99.9" r="6.2" fill="#d09f26"/><circle cx="689" cy="332.7" r="6.2" fill="#3c8c38"/><circle cx="252.9" cy="449.1" r="6.2" fill="#2f46a5"/><circle cx="378.8" cy="333" r="6.2" fill="#449438"/>
<circle cx="504.8" cy="216.9" r="6.2" fill="#a0af29"/><circle cx="655.5" cy="449.9" r="6.2" fill="#3048a8"/><circle cx="630.8" cy="100.6" r="6.2" fill="#cca026"/><circle cx="781.6" cy="333.7" r="6.2" fill="#3b8b38"/><circle cx="344.9" cy="450.3" r="6.2" fill="#2f46a5"/><circle cx="320.2" cy="100.9" r="6.2" fill="#de9925"/>
<circle cx="471" cy="334.1" r="6.2" fill="#429238"/><circle cx="597.2" cy="217.8" r="6.2" fill="#9aae2a"/><circle cx="748.1" cy="451.1" r="6.2" fill="#3047a7"/><circle cx="723.4" cy="101.4" r="6.2" fill="#c9a226"/><circle cx="286.3" cy="218.1" r="6.2" fill="#aeae28"/><circle cx="437.2" cy="451.5" r="6.2" fill="#2f47a6"/>
<circle cx="412.5" cy="101.7" r="6.2" fill="#d89b25"/><circle cx="563.4" cy="335.1" r="6.2" fill="#3f8f38"/><circle cx="689.8" cy="218.7" r="6.2" fill="#93ad2b"/><circle cx="252.2" cy="335.5" r="6.2" fill="#499938"/><circle cx="378.5" cy="219" r="6.2" fill="#aaaf28"/><circle cx="529.7" cy="452.7" r="6.2" fill="#2f47a6"/>
<circle cx="504.9" cy="102.4" r="6.2" fill="#d29e26"/><circle cx="656.1" cy="336.2" r="6.2" fill="#3e8e38"/><circle cx="782.7" cy="219.6" r="6.2" fill="#8bab2d"/><circle cx="344.6" cy="336.6" r="6.2" fill="#469638"/><circle cx="471" cy="219.9" r="6.2" fill="#a5b028"/><circle cx="622.4" cy="453.9" r="6.2" fill="#3047a7"/>
<circle cx="597.6" cy="103.2" r="6.2" fill="#cf9f26"/><circle cx="749" cy="337.3" r="6.2" fill="#3c8c38"/><circle cx="310.5" cy="454.3" r="6.2" fill="#2f46a5"/><circle cx="285.7" cy="103.5" r="6.2" fill="#e39725"/><circle cx="437.1" cy="337.6" r="6.2" fill="#439338"/><circle cx="563.8" cy="220.8" r="6.2" fill="#a0af29"/>
<circle cx="715.3" cy="455.1" r="6.2" fill="#3048a8"/><circle cx="690.6" cy="104" r="6.2" fill="#cca126"/><circle cx="251.6" cy="221.1" r="6.2" fill="#b1ac28"/><circle cx="403.1" cy="455.5" r="6.2" fill="#2f46a5"/><circle cx="378.3" cy="104.2" r="6.2" fill="#db9a25"/><circle cx="529.9" cy="338.7" r="6.2" fill="#419138"/>
<circle cx="656.8" cy="221.8" r="6.2" fill="#9aae2a"/><circle cx="808.5" cy="456.4" r="6.2" fill="#3047a6"/><circle cx="783.7" cy="104.7" r="6.2" fill="#c9a226"/><circle cx="344.2" cy="222.1" r="6.2" fill="#acae28"/><circle cx="495.9" cy="456.8" r="6.2" fill="#2f47a6"/><circle cx="471.1" cy="105" r="6.2" fill="#d69c25"/>
<circle cx="622.9" cy="339.8" r="6.2" fill="#3f8f38"/><circle cx="750" cy="222.7" r="6.2" fill="#92ac2c"/><circle cx="310" cy="340.1" r="6.2" fill="#479738"/><circle cx="437" cy="223" r="6.2" fill="#a9af28"/><circle cx="589" cy="458" r="6.2" fill="#2f47a6"/><circle cx="564.1" cy="105.8" r="6.2" fill="#d19e26"/>
<circle cx="716.2" cy="340.8" r="6.2" fill="#3e8e38"/><circle cx="275.8" cy="458.4" r="6.2" fill="#2e46a4"/><circle cx="250.9" cy="106" r="6.2" fill="#e79524"/><circle cx="402.9" cy="341.2" r="6.2" fill="#459538"/><circle cx="530.1" cy="223.9" r="6.2" fill="#a6b028"/><circle cx="682.3" cy="459.2" r="6.2" fill="#3047a7"/>
<circle cx="657.4" cy="106.6" r="6.2" fill="#cea026"/><circle cx="809.7" cy="341.9" r="6.2" fill="#3c8c38"/><circle cx="368.7" cy="459.6" r="6.2" fill="#2f46a4"/><circle cx="343.8" cy="106.8" r="6.2" fill="#e09825"/><circle cx="496.1" cy="342.3" r="6.2" fill="#439338"/><circle cx="623.5" cy="224.9" r="6.2" fill="#a0af29"/>
<circle cx="775.8" cy="460.4" r="6.2" fill="#3048a8"/><circle cx="750.9" cy="107.3" r="6.2" fill="#cba126"/><circle cx="309.5" cy="225.2" r="6.2" fill="#afad28"/><circle cx="461.9" cy="460.9" r="6.2" fill="#2f46a5"/><circle cx="437" cy="107.6" r="6.2" fill="#d99b25"/><circle cx="589.4" cy="343.4" r="6.2" fill="#419138"/>
<circle cx="717" cy="225.8" r="6.2" fill="#99ae2a"/><circle cx="275.2" cy="343.7" r="6.2" fill="#499938"/><circle cx="402.7" cy="226.1" r="6.2" fill="#acae28"/><circle cx="555.3" cy="462.1" r="6.2" fill="#2f47a5"/><circle cx="530.4" cy="108.4" r="6.2" fill="#d49d26"/><circle cx="683" cy="344.4" r="6.2" fill="#3f8f38"/>
<circle cx="810.8" cy="226.7" r="6.2" fill="#91ac2c"/><circle cx="368.4" cy="344.8" r="6.2" fill="#469638"/><circle cx="496.2" cy="227" r="6.2" fill="#aaaf28"/><circle cx="649" cy="463.3" r="6.2" fill="#2f47a6"/><circle cx="624" cy="109.2" r="6.2" fill="#d19e26"/><circle cx="776.9" cy="345.5" r="6.2" fill="#3e8e38"/>
<circle cx="334.1" cy="463.7" r="6.2" fill="#2e45a4"/><circle cx="309" cy="109.4" r="6.2" fill="#e49625"/><circle cx="461.9" cy="345.9" r="6.2" fill="#449438"/><circle cx="589.9" cy="228" r="6.2" fill="#a6b028"/><circle cx="742.9" cy="464.6" r="6.2" fill="#3047a7"/><circle cx="717.9" cy="110" r="6.2" fill="#cea026"/>
<circle cx="274.6" cy="228.3" r="6.2" fill="#b1ac27"/><circle cx="427.6" cy="465" r="6.2" fill="#2e46a4"/><circle cx="402.5" cy="110.2" r="6.2" fill="#dd9925"/><circle cx="555.7" cy="347" r="6.2" fill="#429238"/><circle cx="683.8" cy="228.9" r="6.2" fill="#a0af29"/><circle cx="837" cy="465.8" r="6.2" fill="#3048a7"/>
<circle cx="812" cy="110.8" r="6.2" fill="#cba126"/><circle cx="368.1" cy="229.2" r="6.2" fill="#aead28"/><circle cx="521.4" cy="466.2" r="6.2" fill="#2f46a5"/><circle cx="496.3" cy="111" r="6.2" fill="#d79c25"/><circle cx="649.6" cy="348.1" r="6.2" fill="#419138"/><circle cx="778" cy="229.9" r="6.2" fill="#98ad2b"/>
<circle cx="333.7" cy="348.4" r="6.2" fill="#489838"/><circle cx="461.9" cy="230.2" r="6.2" fill="#acae28"/><circle cx="615.4" cy="467.5" r="6.2" fill="#2f46a5"/><circle cx="590.3" cy="111.8" r="6.2" fill="#d39d26"/><circle cx="743.8" cy="349.2" r="6.2" fill="#3f8f38"/><circle cx="299.1" cy="467.9" r="6.2" fill="#2e45a3"/>
<circle cx="274" cy="112.1" r="6.2" fill="#e89424"/><circle cx="427.5" cy="349.5" r="6.2" fill="#469638"/><circle cx="556" cy="231.1" r="6.2" fill="#aaaf28"/><circle cx="709.7" cy="468.7" r="6.2" fill="#2f47a6"/><circle cx="684.5" cy="112.6" r="6.2" fill="#d09f26"/><circle cx="838.3" cy="350.3" r="6.2" fill="#3e8e38"/>
<circle cx="393" cy="469.1" r="6.2" fill="#2e45a3"/><circle cx="367.8" cy="112.9" r="6.2" fill="#e19825"/><circle cx="521.6" cy="350.6" r="6.2" fill="#449438"/><circle cx="650.3" cy="232.1" r="6.2" fill="#a7b028"/><circle cx="804.2" cy="470" r="6.2" fill="#3048a7"/><circle cx="779" cy="113.4" r="6.2" fill="#cda026"/>
<circle cx="333.3" cy="232.4" r="6.2" fill="#b0ac28"/><circle cx="487.2" cy="470.4" r="6.2" fill="#2e45a4"/><circle cx="462" cy="113.7" r="6.2" fill="#db9a25"/><circle cx="615.9" cy="351.8" r="6.2" fill="#429238"/><circle cx="744.8" cy="233" r="6.2" fill="#a0af29"/><circle cx="298.6" cy="352.1" r="6.2" fill="#4a9a38"/>
<circle cx="427.4" cy="233.3" r="6.2" fill="#aead28"/><circle cx="581.5" cy="471.7" r="6.2" fill="#2f46a4"/><circle cx="556.3" cy="114.5" r="6.2" fill="#d69c25"/><circle cx="710.5" cy="352.9" r="6.2" fill="#419138"/><circle cx="839.6" cy="234" r="6.2" fill="#97ad2b"/><circle cx="392.8" cy="353.2" r="6.2" fill="#489838"/>
<circle cx="521.8" cy="234.3" r="6.2" fill="#acae28"/><circle cx="676.1" cy="472.9" r="6.2" fill="#2f46a5"/><circle cx="650.9" cy="115.3" r="6.2" fill="#d39e26"/><circle cx="805.3" cy="354" r="6.2" fill="#3f8f38"/><circle cx="358.1" cy="473.3" r="6.2" fill="#2e45a2"/><circle cx="332.8" cy="115.5" r="6.2" fill="#e59625"/>
<circle cx="487.2" cy="354.3" r="6.2" fill="#469638"/><circle cx="616.5" cy="235.2" r="6.2" fill="#aaaf28"/><circle cx="771" cy="474.2" r="6.2" fill="#2f47a6"/><circle cx="745.8" cy="116.1" r="6.2" fill="#d09f26"/><circle cx="298.1" cy="235.6" r="6.2" fill="#b3ab27"/><circle cx="452.6" cy="474.6" r="6.2" fill="#2e45a3"/>
<circle cx="427.3" cy="116.3" r="6.2" fill="#de9925"/><circle cx="581.9" cy="355.5" r="6.2" fill="#449438"/><circle cx="711.4" cy="236.2" r="6.2" fill="#a7b028"/><circle cx="866.1" cy="475.5" r="6.2" fill="#3048a8"/><circle cx="840.9" cy="116.9" r="6.2" fill="#cda026"/><circle cx="392.6" cy="236.5" r="6.2" fill="#b0ac28"/>
<circle cx="547.4" cy="475.9" r="6.2" fill="#2e45a3"/><circle cx="522" cy="117.1" r="6.2" fill="#d99b25"/><circle cx="676.9" cy="356.6" r="6.2" fill="#439338"/><circle cx="806.5" cy="237.2" r="6.2" fill="#9fae2a"/><circle cx="357.8" cy="356.9" r="6.2" fill="#499938"/><circle cx="487.3" cy="237.5" r="6.2" fill="#afad28"/>
<circle cx="642.3" cy="477.2" r="6.2" fill="#2e46a4"/><circle cx="617" cy="118" r="6.2" fill="#d69c25"/><circle cx="772.1" cy="357.7" r="6.2" fill="#419138"/><circle cx="322.9" cy="477.6" r="6.2" fill="#2d44a1"/><circle cx="297.5" cy="118.2" r="6.2" fill="#ea9424"/><circle cx="452.6" cy="358.1" r="6.2" fill="#479738"/>
<circle cx="582.4" cy="238.5" r="6.2" fill="#adae28"/><circle cx="737.6" cy="478.4" r="6.2" fill="#2f46a5"/><circle cx="712.2" cy="118.8" r="6.2" fill="#d39e26"/><circle cx="867.5" cy="358.8" r="6.2" fill="#3f8f38"/><circle cx="417.8" cy="478.9" r="6.2" fill="#2e44a1"/><circle cx="392.4" cy="119" r="6.2" fill="#e29725"/>
<circle cx="547.7" cy="359.2" r="6.2" fill="#469638"/><circle cx="677.6" cy="239.4" r="6.2" fill="#abaf28"/><circle cx="833" cy="479.7" r="6.2" fill="#2f47a6"/><circle cx="807.7" cy="119.6" r="6.2" fill="#cf9f26"/><circle cx="357.4" cy="239.7" r="6.2" fill="#b3ab27"/><circle cx="512.9" cy="480.1" r="6.2" fill="#2e45a2"/>
<circle cx="487.4" cy="119.8" r="6.2" fill="#dd9925"/><circle cx="643" cy="360.3" r="6.2" fill="#449438"/><circle cx="773.1" cy="240.4" r="6.2" fill="#a7b028"/><circle cx="322.5" cy="360.7" r="6.2" fill="#4d9b37"/><circle cx="452.6" cy="240.7" r="6.2" fill="#b1ac28"/><circle cx="608.2" cy="481.4" r="6.2" fill="#2e45a2"/>
<circle cx="582.8" cy="120.7" r="6.2" fill="#d99b25"/><circle cx="738.5" cy="361.4" r="6.2" fill="#439338"/><circle cx="868.9" cy="241.4" r="6.2" fill="#9eae2a"/><circle cx="417.6" cy="361.8" r="6.2" fill="#499938"/><circle cx="548" cy="241.7" r="6.2" fill="#afad28"/><circle cx="703.8" cy="482.7" r="6.2" fill="#2e45a3"/>
<circle cx="678.4" cy="121.5" r="6.2" fill="#d59c25"/><circle cx="834.3" cy="362.6" r="6.2" fill="#419138"/><circle cx="382.6" cy="483.1" r="6.2" fill="#2d44a0"/><circle cx="357.1" cy="121.8" r="6.2" fill="#e79524"/><circle cx="513.1" cy="362.9" r="6.2" fill="#479738"/><circle cx="643.6" cy="242.7" r="6.2" fill="#adae28"/>
<circle cx="799.7" cy="484" r="6.2" fill="#2f46a5"/><circle cx="774.2" cy="122.3" r="6.2" fill="#d29e26"/><circle cx="322" cy="243" r="6.2" fill="#b5aa27"/><circle cx="478.1" cy="484.4" r="6.2" fill="#2d44a1"/><circle cx="452.6" cy="122.6" r="6.2" fill="#e09825"/><circle cx="608.7" cy="364.1" r="6.2" fill="#469638"/>
<circle cx="739.5" cy="243.6" r="6.2" fill="#abaf28"/><circle cx="895.8" cy="485.3" r="6.2" fill="#3048a7"/><circle cx="870.3" cy="123.1" r="6.2" fill="#ce9f26"/><circle cx="417.5" cy="244" r="6.2" fill="#b3ab27"/><circle cx="573.8" cy="485.7" r="6.2" fill="#2d44a1"/><circle cx="548.3" cy="123.4" r="6.2" fill="#dc9a25"/>
<circle cx="704.7" cy="365.2" r="6.2" fill="#459538"/><circle cx="835.6" cy="244.6" r="6.2" fill="#a6b028"/><circle cx="382.4" cy="365.6" r="6.2" fill="#4c9b38"/><circle cx="513.3" cy="245" r="6.2" fill="#b2ac27"/><circle cx="669.8" cy="487" r="6.2" fill="#2e45a2"/><circle cx="644.2" cy="124.2" r="6.2" fill="#d89b25"/>
<circle cx="800.9" cy="366.4" r="6.2" fill="#439338"/><circle cx="347.2" cy="487.5" r="6.2" fill="#2d439f"/><circle cx="321.5" cy="124.5" r="6.2" fill="#eb9324"/><circle cx="478.2" cy="366.7" r="6.2" fill="#499938"/><circle cx="609.3" cy="245.9" r="6.2" fill="#b0ad28"/><circle cx="766" cy="488.3" r="6.2" fill="#2e45a3"/>
<circle cx="740.4" cy="125" r="6.2" fill="#d59c25"/><circle cx="897.3" cy="367.5" r="6.2" fill="#419138"/><circle cx="443.1" cy="488.8" r="6.2" fill="#2d439f"/><circle cx="417.4" cy="125.3" r="6.2" fill="#e49625"/><circle cx="574.2" cy="367.9" r="6.2" fill="#489838"/><circle cx="705.5" cy="246.9" r="6.2" fill="#aeae28"/>
<circle cx="862.5" cy="489.6" r="6.2" fill="#2f47a5"/><circle cx="836.9" cy="125.9" r="6.2" fill="#d29e26"/><circle cx="382.1" cy="247.3" r="6.2" fill="#b5aa27"/><circle cx="539.1" cy="490.1" r="6.2" fill="#2d43a0"/><circle cx="513.5" cy="126.2" r="6.2" fill="#df9825"/><circle cx="670.5" cy="369" r="6.2" fill="#469638"/>
<circle cx="802" cy="247.9" r="6.2" fill="#aaaf28"/><circle cx="346.8" cy="369.4" r="6.2" fill="#519c37"/><circle cx="478.3" cy="248.2" r="6.2" fill="#b4ab27"/><circle cx="635.5" cy="491.4" r="6.2" fill="#2d44a1"/><circle cx="609.8" cy="127" r="6.2" fill="#db9a25"/><circle cx="767.1" cy="370.2" r="6.2" fill="#459538"/>
<circle cx="898.8" cy="248.9" r="6.2" fill="#a5af29"/><circle cx="443" cy="370.6" r="6.2" fill="#4c9b38"/><circle cx="574.6" cy="249.2" r="6.2" fill="#b3ab27"/><circle cx="732.1" cy="492.7" r="6.2" fill="#2e44a2"/><circle cx="706.4" cy="127.8" r="6.2" fill="#d89b25"/><circle cx="863.9" cy="371.3" r="6.2" fill="#439338"/>
<circle cx="407.7" cy="493.1" r="6.2" fill="#2c429e"/><circle cx="381.9" cy="128.1" r="6.2" fill="#e89424"/><circle cx="539.4" cy="371.7" r="6.2" fill="#499938"/><circle cx="671.3" cy="250.2" r="6.2" fill="#b1ac28"/><circle cx="828.9" cy="494" r="6.2" fill="#2e46a4"/><circle cx="803.2" cy="128.7" r="6.2" fill="#d59d26"/>
<circle cx="346.4" cy="250.6" r="6.2" fill="#b7a927"/><circle cx="504.1" cy="494.5" r="6.2" fill="#2c439f"/><circle cx="478.3" cy="128.9" r="6.2" fill="#e39725"/><circle cx="636.1" cy="372.9" r="6.2" fill="#489838"/><circle cx="768.2" cy="251.2" r="6.2" fill="#aeae28"/><circle cx="900.3" cy="129.5" r="6.2" fill="#d09f26"/>
<circle cx="442.9" cy="251.6" r="6.2" fill="#b6aa27"/><circle cx="600.9" cy="495.8" r="6.2" fill="#2d439f"/><circle cx="575" cy="129.8" r="6.2" fill="#de9925"/><circle cx="733" cy="374.1" r="6.2" fill="#479738"/><circle cx="865.3" cy="252.2" r="6.2" fill="#aaaf28"/><circle cx="407.5" cy="374.4" r="6.2" fill="#519c37"/>
<circle cx="539.7" cy="252.6" r="6.2" fill="#b5aa27"/><circle cx="697.8" cy="497.1" r="6.2" fill="#2d44a0"/><circle cx="672" cy="130.6" r="6.2" fill="#db9a25"/><circle cx="830.2" cy="375.2" r="6.2" fill="#459538"/><circle cx="372" cy="497.6" r="6.2" fill="#2c429d"/><circle cx="346.1" cy="130.9" r="6.2" fill="#ed9324"/>
<circle cx="504.3" cy="375.6" r="6.2" fill="#4d9b38"/><circle cx="636.7" cy="253.6" r="6.2" fill="#b3ab27"/><circle cx="795.1" cy="498.4" r="6.2" fill="#2e44a2"/><circle cx="769.2" cy="131.5" r="6.2" fill="#d89b25"/><circle cx="468.8" cy="498.9" r="6.2" fill="#2c429d"/><circle cx="442.9" cy="131.7" r="6.2" fill="#e69524"/>
<circle cx="601.4" cy="376.8" r="6.2" fill="#4a9a38"/><circle cx="734" cy="254.6" r="6.2" fill="#b1ac28"/><circle cx="866.7" cy="132.3" r="6.2" fill="#d49d26"/><circle cx="407.3" cy="254.9" r="6.2" fill="#b8a927"/><circle cx="565.9" cy="500.2" r="6.2" fill="#2c429e"/><circle cx="540" cy="132.6" r="6.2" fill="#e29725"/>
<circle cx="698.7" cy="377.9" r="6.2" fill="#499938"/><circle cx="831.5" cy="255.6" r="6.2" fill="#aeae28"/><circle cx="371.7" cy="378.3" r="6.2" fill="#569e36"/><circle cx="504.5" cy="255.9" r="6.2" fill="#b8a927"/><circle cx="663.3" cy="501.5" r="6.2" fill="#2c439e"/><circle cx="637.3" cy="133.4" r="6.2" fill="#de9925"/>
<circle cx="796.3" cy="379.1" r="6.2" fill="#479738"/><circle cx="468.9" cy="379.5" r="6.2" fill="#529c37"/><circle cx="601.9" cy="256.9" r="6.2" fill="#b6aa27"/><circle cx="760.9" cy="502.9" r="6.2" fill="#2d43a0"/><circle cx="734.9" cy="134.3" r="6.2" fill="#db9a25"/><circle cx="433.2" cy="503.3" r="6.2" fill="#2b419c"/>
<circle cx="407.1" cy="134.6" r="6.2" fill="#ea9424"/><circle cx="566.3" cy="380.7" r="6.2" fill="#4e9b37"/><circle cx="699.5" cy="258" r="6.2" fill="#b4ab27"/><circle cx="832.8" cy="135.1" r="6.2" fill="#d89b25"/><circle cx="371.4" cy="258.3" r="6.2" fill="#baa827"/><circle cx="530.7" cy="504.7" r="6.2" fill="#2c419c"/>
<circle cx="504.6" cy="135.4" r="6.2" fill="#e59625"/><circle cx="664" cy="381.9" r="6.2" fill="#4b9a38"/><circle cx="797.4" cy="259" r="6.2" fill="#b1ac28"/><circle cx="468.9" cy="259.3" r="6.2" fill="#baa827"/><circle cx="628.4" cy="506" r="6.2" fill="#2c429d"/><circle cx="602.4" cy="136.3" r="6.2" fill="#e29725"/>
<circle cx="762" cy="383.1" r="6.2" fill="#499938"/><circle cx="433.1" cy="383.5" r="6.2" fill="#569e36"/><circle cx="566.7" cy="260.3" r="6.2" fill="#b9a927"/><circle cx="726.5" cy="507.4" r="6.2" fill="#2c429e"/><circle cx="700.3" cy="137.1" r="6.2" fill="#df9925"/><circle cx="397.3" cy="507.8" r="6.2" fill="#2b409a"/>
<circle cx="371.1" cy="137.4" r="6.2" fill="#ee9224"/><circle cx="530.9" cy="384.6" r="6.2" fill="#539d36"/><circle cx="664.7" cy="261.4" r="6.2" fill="#b7a927"/><circle cx="798.6" cy="138" r="6.2" fill="#db9a25"/><circle cx="495.1" cy="509.2" r="6.2" fill="#2b409a"/><circle cx="468.9" cy="138.3" r="6.2" fill="#e99424"/>
<circle cx="629" cy="385.8" r="6.2" fill="#519c37"/><circle cx="763" cy="262.4" r="6.2" fill="#b4ab27"/><circle cx="433" cy="262.7" r="6.2" fill="#bca727"/><circle cx="593.3" cy="510.6" r="6.2" fill="#2b419b"/><circle cx="567.1" cy="139.2" r="6.2" fill="#e59625"/><circle cx="727.4" cy="387" r="6.2" fill="#4e9b37"/>
<circle cx="397" cy="387.4" r="6.2" fill="#5b9f35"/><circle cx="531.2" cy="263.8" r="6.2" fill="#bba827"/><circle cx="691.7" cy="511.9" r="6.2" fill="#2c419c"/><circle cx="665.5" cy="140" r="6.2" fill="#e29725"/><circle cx="495.3" cy="388.6" r="6.2" fill="#589e36"/><circle cx="629.6" cy="264.8" r="6.2" fill="#baa827"/>
<circle cx="764.1" cy="140.9" r="6.2" fill="#df9825"/><circle cx="459.3" cy="513.8" r="6.2" fill="#2a3f99"/><circle cx="432.9" cy="141.2" r="6.2" fill="#ec9324"/><circle cx="593.7" cy="389.8" r="6.2" fill="#569e36"/><circle cx="728.3" cy="265.8" r="6.2" fill="#b8a927"/><circle cx="396.8" cy="266.2" r="6.2" fill="#bea627"/>
<circle cx="557.8" cy="515.1" r="6.2" fill="#2a4099"/><circle cx="531.5" cy="142.1" r="6.2" fill="#e89524"/><circle cx="692.5" cy="391" r="6.2" fill="#539d36"/><circle cx="495.4" cy="267.2" r="6.2" fill="#bea727"/><circle cx="656.6" cy="516.5" r="6.2" fill="#2b409a"/><circle cx="630.2" cy="142.9" r="6.2" fill="#e59625"/>
<circle cx="459.3" cy="392.7" r="6.2" fill="#5da035"/><circle cx="594.2" cy="268.3" r="6.2" fill="#bda727"/><circle cx="729.3" cy="143.8" r="6.2" fill="#e29725"/><circle cx="423.1" cy="518.3" r="6.2" fill="#2a4196"/><circle cx="396.6" cy="144.1" r="6.2" fill="#ee8e24"/><circle cx="558.1" cy="393.9" r="6.2" fill="#5b9f35"/>
<circle cx="693.3" cy="269.3" r="6.2" fill="#bba827"/><circle cx="522" cy="519.7" r="6.2" fill="#2a4097"/><circle cx="495.5" cy="145" r="6.2" fill="#eb9324"/><circle cx="657.3" cy="395.1" r="6.2" fill="#599e35"/><circle cx="459.3" cy="270.7" r="6.2" fill="#c0a627"/><circle cx="621.2" cy="521.1" r="6.2" fill="#2a3f98"/>
<circle cx="594.7" cy="145.9" r="6.2" fill="#e89524"/><circle cx="422.9" cy="396.7" r="6.2" fill="#62a134"/><circle cx="558.5" cy="271.8" r="6.2" fill="#c0a627"/><circle cx="694.2" cy="146.7" r="6.2" fill="#e59625"/><circle cx="522.2" cy="398" r="6.2" fill="#60a134"/><circle cx="658" cy="272.8" r="6.2" fill="#bea627"/>
<circle cx="485.9" cy="524.4" r="6.2" fill="#2a4393"/><circle cx="459.3" cy="147.9" r="6.2" fill="#ee9124"/><circle cx="621.8" cy="399.2" r="6.2" fill="#5ea035"/><circle cx="422.8" cy="274.3" r="6.2" fill="#c3a527"/><circle cx="585.5" cy="525.8" r="6.2" fill="#2a4294"/><circle cx="558.9" cy="148.8" r="6.2" fill="#eb9324"/>
<circle cx="522.4" cy="275.3" r="6.2" fill="#c2a527"/><circle cx="658.7" cy="149.7" r="6.2" fill="#e99424"/><circle cx="486" cy="402.1" r="6.2" fill="#64a233"/><circle cx="622.3" cy="276.4" r="6.2" fill="#c1a527"/><circle cx="449.4" cy="529.1" r="6.2" fill="#2a468f"/><circle cx="422.7" cy="150.9" r="6.2" fill="#ed8b24"/>
<circle cx="585.9" cy="403.3" r="6.2" fill="#63a234"/><circle cx="549.4" cy="530.5" r="6.2" fill="#2a468f"/><circle cx="522.7" cy="151.8" r="6.2" fill="#ee9224"/><circle cx="486.1" cy="278.9" r="6.2" fill="#c5a326"/><circle cx="622.9" cy="152.7" r="6.2" fill="#ec9324"/><circle cx="449.4" cy="406.2" r="6.2" fill="#69a433"/>
<circle cx="586.4" cy="280" r="6.2" fill="#c4a426"/><circle cx="549.7" cy="407.5" r="6.2" fill="#68a333"/><circle cx="513" cy="535.2" r="6.2" fill="#2a498b"/><circle cx="486.2" cy="154.8" r="6.2" fill="#ed8d24"/><circle cx="449.3" cy="282.5" r="6.2" fill="#c7a226"/><circle cx="586.8" cy="155.7" r="6.2" fill="#ee9124"/>
<circle cx="550.1" cy="283.6" r="6.2" fill="#c7a326"/><circle cx="513.2" cy="411.7" r="6.2" fill="#6da532"/><circle cx="476.3" cy="540" r="6.2" fill="#2a4e80"/><circle cx="449.3" cy="157.9" r="6.2" fill="#ed8725"/><circle cx="550.4" cy="158.8" r="6.2" fill="#ed8c24"/><circle cx="513.4" cy="287.2" r="6.2" fill="#caa126"/>
<circle cx="476.4" cy="415.9" r="6.2" fill="#71a631"/><circle cx="513.6" cy="161.9" r="6.2" fill="#ed8825"/><circle cx="476.4" cy="290.9" r="6.2" fill="#cda026"/><circle cx="476.5" cy="165" r="6.2" fill="#ec8425"/>
</g>
<text class="t" x="192.8" y="127" text-anchor="end">0.175</text>
<text class="t" x="192.8" y="175.8" text-anchor="end">0.150</text>
<text class="t" x="192.8" y="225.1" text-anchor="end">0.125</text>
<text class="t" x="192.8" y="273.5" text-anchor="end">0.100</text>
<text class="t" x="192.8" y="322.4" text-anchor="end">0.075</text>
<text class="t" x="192.8" y="370.7" text-anchor="end">0.050</text>
<text class="t" x="192.8" y="419.1" text-anchor="end">0.025</text>
<text class="t" x="192.8" y="467.4" text-anchor="end">0</text>
<text class="t" x="142.1" y="513.2">3.6</text>
<text class="t" x="186.1" y="553.5">3.8</text>
<text class="t" x="252.1" y="572.7">4.0</text>
<text class="t" x="317.1" y="594.7">4.2</text>
<text class="t" x="375.6" y="627.6">4.4</text>
<text class="t" x="506.8" y="625.1">6.6</text>
<text class="t" x="586.5" y="612">6.4</text>
<text class="t" x="665.7" y="602.9">6.2</text>
<text class="t" x="745.5" y="589.8">6.0</text>
<text class="t" x="825.7" y="582.7">5.8</text>
<text class="t" x="908" y="568.2">5.6</text>
<text class="t" transform="translate(44.9,355) rotate(-90)"><tspan class="i">w</tspan><tspan class="s i" dy="12">O</tspan><tspan dy="-12">/</tspan><tspan class="i q">%</tspan></text>
<text class="t" transform="translate(160,589.5) rotate(26)"><tspan class="i">w</tspan><tspan class="s" dy="12">V</tspan><tspan dy="-12">/</tspan><tspan class="i q">%</tspan></text>
<text class="t" transform="translate(688,670) rotate(-10)"><tspan class="i">w</tspan><tspan class="s" dy="12">Al</tspan><tspan dy="-12">/</tspan><tspan class="i q">%</tspan></text>
</g>
<rect x="3199.5" y="146.5" width="40" height="316" fill="url(#cb)" stroke="#3a3a3a" stroke-width="1"/>
<path d="M3239.5 433.8h4M3239.5 376.3h4M3239.5 318.9h4M3239.5 261.4h4M3239.5 204h4" stroke="#3a3a3a" stroke-width="1.5"/>
<text class="c" x="3256.3" y="164.6">1100</text>
<text class="c" x="3256.3" y="220.6">1000</text>
<text class="c" x="3256.3" y="278.2">900</text>
<text class="c" x="3256.3" y="335.7">800</text>
<text class="c" x="3256.3" y="392.5">700</text>
<text class="c" x="3256.3" y="449.9">600</text>
<text class="c" x="3191.5" y="107.4">YS/MPa</text>
<text class="p" x="2299.9" y="46.5">(c)</text>
<g transform="translate(0,714)">
<use href="#box"/>
<g class="d">
<circle cx="648.4" cy="403.3" r="6.2" fill="#3048a8"/><circle cx="649" cy="295" r="6.2" fill="#419138"/><circle cx="616.9" cy="406.9" r="6.2" fill="#3048a8"/><circle cx="649.6" cy="186" r="6.2" fill="#a8b028"/><circle cx="617.4" cy="298.2" r="6.2" fill="#429238"/><circle cx="585.1" cy="410.6" r="6.2" fill="#3048a7"/>
<circle cx="673.8" cy="411.7" r="6.2" fill="#3047a7"/><circle cx="650.2" cy="76.4" r="6.2" fill="#d69c25"/><circle cx="617.9" cy="188.8" r="6.2" fill="#aaaf28"/><circle cx="585.5" cy="301.5" r="6.2" fill="#449438"/><circle cx="553.1" cy="414.3" r="6.2" fill="#3048a7"/><circle cx="674.5" cy="302.4" r="6.2" fill="#429238"/>
<circle cx="642.1" cy="415.4" r="6.2" fill="#2f47a6"/><circle cx="618.4" cy="78.8" r="6.2" fill="#d89b25"/><circle cx="585.9" cy="191.6" r="6.2" fill="#acae28"/><circle cx="553.4" cy="304.7" r="6.2" fill="#459538"/><circle cx="675.2" cy="192.5" r="6.2" fill="#a9af28"/><circle cx="520.8" cy="418" r="6.2" fill="#3047a7"/>
<circle cx="642.7" cy="305.7" r="6.2" fill="#449438"/><circle cx="610.2" cy="419.2" r="6.2" fill="#2f47a6"/><circle cx="586.3" cy="81.1" r="6.2" fill="#db9a25"/><circle cx="553.7" cy="194.5" r="6.2" fill="#aead28"/><circle cx="699.8" cy="420.3" r="6.2" fill="#2f46a5"/><circle cx="675.9" cy="81.9" r="6.2" fill="#d99b25"/>
<circle cx="521" cy="308" r="6.2" fill="#479738"/><circle cx="643.3" cy="195.3" r="6.2" fill="#abaf28"/><circle cx="488.3" cy="421.8" r="6.2" fill="#3047a7"/><circle cx="610.7" cy="309" r="6.2" fill="#459538"/><circle cx="578" cy="422.9" r="6.2" fill="#2f47a6"/><circle cx="554" cy="83.5" r="6.2" fill="#dd9925"/>
<circle cx="700.5" cy="310" r="6.2" fill="#449438"/><circle cx="521.2" cy="197.4" r="6.2" fill="#b0ac28"/><circle cx="667.9" cy="424.1" r="6.2" fill="#2f46a5"/><circle cx="643.9" cy="84.3" r="6.2" fill="#da9a25"/><circle cx="488.4" cy="311.4" r="6.2" fill="#489838"/><circle cx="611.2" cy="198.2" r="6.2" fill="#adae28"/>
<circle cx="455.5" cy="425.6" r="6.2" fill="#2f47a6"/><circle cx="578.4" cy="312.4" r="6.2" fill="#469638"/><circle cx="701.3" cy="199.1" r="6.2" fill="#abaf28"/><circle cx="545.5" cy="426.8" r="6.2" fill="#2f46a5"/><circle cx="521.4" cy="86" r="6.2" fill="#df9825"/><circle cx="668.5" cy="313.4" r="6.2" fill="#459538"/>
<circle cx="488.5" cy="200.2" r="6.2" fill="#b3ab27"/><circle cx="635.7" cy="427.9" r="6.2" fill="#2f46a4"/><circle cx="611.7" cy="86.7" r="6.2" fill="#dc9925"/><circle cx="455.5" cy="314.7" r="6.2" fill="#4a9a38"/><circle cx="578.8" cy="201.1" r="6.2" fill="#aead28"/><circle cx="726.2" cy="429.1" r="6.2" fill="#2e45a3"/>
<circle cx="702.1" cy="87.4" r="6.2" fill="#db9a25"/><circle cx="422.4" cy="429.4" r="6.2" fill="#2f47a6"/><circle cx="545.8" cy="315.7" r="6.2" fill="#489838"/><circle cx="669.2" cy="202" r="6.2" fill="#acae28"/><circle cx="512.8" cy="430.6" r="6.2" fill="#2f46a5"/><circle cx="488.6" cy="88.4" r="6.2" fill="#e19725"/>
<circle cx="636.3" cy="316.8" r="6.2" fill="#479738"/><circle cx="455.5" cy="203.2" r="6.2" fill="#b5aa27"/><circle cx="603.3" cy="431.8" r="6.2" fill="#2e46a4"/><circle cx="579.1" cy="89.1" r="6.2" fill="#de9925"/><circle cx="727" cy="317.8" r="6.2" fill="#469638"/><circle cx="422.3" cy="318.1" r="6.2" fill="#4f9c37"/>
<circle cx="546.1" cy="204" r="6.2" fill="#b1ac28"/><circle cx="694.1" cy="432.9" r="6.2" fill="#2e45a3"/><circle cx="669.9" cy="89.9" r="6.2" fill="#dd9925"/><circle cx="389.1" cy="433.3" r="6.2" fill="#2f47a6"/><circle cx="512.9" cy="319.1" r="6.2" fill="#4a9a38"/><circle cx="636.9" cy="204.9" r="6.2" fill="#aead28"/>
<circle cx="479.8" cy="434.5" r="6.2" fill="#2f46a4"/><circle cx="455.5" cy="90.9" r="6.2" fill="#e49625"/><circle cx="603.8" cy="320.2" r="6.2" fill="#489838"/><circle cx="727.9" cy="205.8" r="6.2" fill="#aeae28"/><circle cx="422.2" cy="206.1" r="6.2" fill="#b8a927"/><circle cx="570.6" cy="435.6" r="6.2" fill="#2e45a3"/>
<circle cx="546.4" cy="91.6" r="6.2" fill="#e09825"/><circle cx="694.9" cy="321.2" r="6.2" fill="#479738"/><circle cx="388.9" cy="321.5" r="6.2" fill="#549d36"/><circle cx="513.1" cy="207" r="6.2" fill="#b3ab27"/><circle cx="661.8" cy="436.8" r="6.2" fill="#2e45a2"/><circle cx="637.5" cy="92.3" r="6.2" fill="#df9825"/>
<circle cx="355.5" cy="437.2" r="6.2" fill="#2f47a6"/><circle cx="479.8" cy="322.6" r="6.2" fill="#4d9b37"/><circle cx="604.3" cy="207.9" r="6.2" fill="#b0ad28"/><circle cx="753.1" cy="438" r="6.2" fill="#2d44a1"/><circle cx="728.8" cy="93.1" r="6.2" fill="#de9925"/><circle cx="446.5" cy="438.4" r="6.2" fill="#2e46a4"/>
<circle cx="422.1" cy="93.3" r="6.2" fill="#e69524"/><circle cx="571" cy="323.6" r="6.2" fill="#499938"/><circle cx="695.6" cy="208.8" r="6.2" fill="#afad28"/><circle cx="388.6" cy="209.1" r="6.2" fill="#bba827"/><circle cx="537.7" cy="439.5" r="6.2" fill="#2e45a3"/><circle cx="513.3" cy="94.1" r="6.2" fill="#e39725"/>
<circle cx="662.4" cy="324.6" r="6.2" fill="#489838"/><circle cx="355.1" cy="325" r="6.2" fill="#5a9f35"/><circle cx="479.9" cy="209.9" r="6.2" fill="#b5aa27"/><circle cx="629.1" cy="440.7" r="6.2" fill="#2d44a1"/><circle cx="604.7" cy="94.8" r="6.2" fill="#e19825"/><circle cx="754.1" cy="325.7" r="6.2" fill="#489838"/>
<circle cx="321.6" cy="441.1" r="6.2" fill="#2f47a5"/><circle cx="446.4" cy="326" r="6.2" fill="#529c37"/><circle cx="571.4" cy="210.8" r="6.2" fill="#b2ac27"/><circle cx="720.8" cy="441.9" r="6.2" fill="#2d44a0"/><circle cx="696.4" cy="95.6" r="6.2" fill="#e09825"/><circle cx="412.9" cy="442.3" r="6.2" fill="#2e46a4"/>
<circle cx="388.4" cy="95.8" r="6.2" fill="#e89424"/><circle cx="537.9" cy="327.1" r="6.2" fill="#4d9b38"/><circle cx="663.1" cy="211.7" r="6.2" fill="#b0ad28"/><circle cx="354.8" cy="212" r="6.2" fill="#bea627"/><circle cx="504.5" cy="443.5" r="6.2" fill="#2e45a2"/><circle cx="480" cy="96.6" r="6.2" fill="#e59625"/>
<circle cx="629.7" cy="328.1" r="6.2" fill="#4a9a38"/><circle cx="755" cy="212.6" r="6.2" fill="#b0ac28"/><circle cx="321.1" cy="328.5" r="6.2" fill="#5fa034"/><circle cx="446.4" cy="212.9" r="6.2" fill="#b8a927"/><circle cx="596.3" cy="444.7" r="6.2" fill="#2d44a1"/><circle cx="571.7" cy="97.3" r="6.2" fill="#e39725"/>
<circle cx="721.7" cy="329.2" r="6.2" fill="#499938"/><circle cx="287.4" cy="445.1" r="6.2" fill="#2f46a5"/><circle cx="412.8" cy="329.5" r="6.2" fill="#579e36"/><circle cx="538.2" cy="213.8" r="6.2" fill="#b4ab27"/><circle cx="688.3" cy="445.9" r="6.2" fill="#2d43a0"/><circle cx="663.8" cy="98.1" r="6.2" fill="#e19725"/>
<circle cx="379.1" cy="446.3" r="6.2" fill="#2e45a3"/><circle cx="354.5" cy="98.4" r="6.2" fill="#eb9324"/><circle cx="504.6" cy="330.6" r="6.2" fill="#519c37"/><circle cx="630.3" cy="214.7" r="6.2" fill="#b2ac27"/><circle cx="780.5" cy="447.1" r="6.2" fill="#2d439f"/><circle cx="756" cy="98.9" r="6.2" fill="#e19825"/>
<circle cx="320.7" cy="215" r="6.2" fill="#c1a527"/><circle cx="471" cy="447.5" r="6.2" fill="#2e44a2"/><circle cx="446.4" cy="99.1" r="6.2" fill="#e79524"/><circle cx="596.7" cy="331.6" r="6.2" fill="#4d9b37"/><circle cx="722.5" cy="215.7" r="6.2" fill="#b1ac27"/><circle cx="286.8" cy="332" r="6.2" fill="#65a233"/>
<circle cx="412.6" cy="216" r="6.2" fill="#bba827"/><circle cx="563.1" cy="448.7" r="6.2" fill="#2d44a0"/><circle cx="538.5" cy="99.9" r="6.2" fill="#e59625"/><circle cx="689" cy="332.7" r="6.2" fill="#4b9a38"/><circle cx="252.9" cy="449.1" r="6.2" fill="#2f46a5"/><circle cx="378.8" cy="333" r="6.2" fill="#5c9f35"/>
<circle cx="504.8" cy="216.9" r="6.2" fill="#b6aa27"/><circle cx="655.5" cy="449.9" r="6.2" fill="#2d439f"/><circle cx="630.8" cy="100.6" r="6.2" fill="#e39725"/><circle cx="781.6" cy="333.7" r="6.2" fill="#4a9a38"/><circle cx="344.9" cy="450.3" r="6.2" fill="#2e45a3"/><circle cx="320.2" cy="100.9" r="6.2" fill="#ed9224"/>
<circle cx="471" cy="334.1" r="6.2" fill="#569e36"/><circle cx="597.2" cy="217.8" r="6.2" fill="#b3ab27"/><circle cx="748.1" cy="451.1" r="6.2" fill="#2c429e"/><circle cx="723.4" cy="101.4" r="6.2" fill="#e39725"/><circle cx="286.3" cy="218.1" r="6.2" fill="#c5a426"/><circle cx="437.2" cy="451.5" r="6.2" fill="#2d44a1"/>
<circle cx="412.5" cy="101.7" r="6.2" fill="#e99424"/><circle cx="563.4" cy="335.1" r="6.2" fill="#519c37"/><circle cx="689.8" cy="218.7" r="6.2" fill="#b3ab27"/><circle cx="252.2" cy="335.5" r="6.2" fill="#6ba432"/><circle cx="378.5" cy="219" r="6.2" fill="#bea627"/><circle cx="529.7" cy="452.7" r="6.2" fill="#2d439f"/>
<circle cx="504.9" cy="102.4" r="6.2" fill="#e79524"/><circle cx="656.1" cy="336.2" r="6.2" fill="#4f9b37"/><circle cx="782.7" cy="219.6" r="6.2" fill="#b4ab27"/><circle cx="344.6" cy="336.6" r="6.2" fill="#61a134"/><circle cx="471" cy="219.9" r="6.2" fill="#b9a927"/><circle cx="622.4" cy="453.9" r="6.2" fill="#2c429e"/>
<circle cx="597.6" cy="103.2" r="6.2" fill="#e59625"/><circle cx="749" cy="337.3" r="6.2" fill="#4d9b38"/><circle cx="310.5" cy="454.3" r="6.2" fill="#2e45a2"/><circle cx="285.7" cy="103.5" r="6.2" fill="#ee9024"/><circle cx="437.1" cy="337.6" r="6.2" fill="#5a9f35"/><circle cx="563.8" cy="220.8" r="6.2" fill="#b6aa27"/>
<circle cx="715.3" cy="455.1" r="6.2" fill="#2c429d"/><circle cx="690.6" cy="104" r="6.2" fill="#e59625"/><circle cx="251.6" cy="221.1" r="6.2" fill="#c8a226"/><circle cx="403.1" cy="455.5" r="6.2" fill="#2d44a0"/><circle cx="378.3" cy="104.2" r="6.2" fill="#ec9324"/><circle cx="529.9" cy="338.7" r="6.2" fill="#569e36"/>
<circle cx="656.8" cy="221.8" r="6.2" fill="#b4ab27"/><circle cx="808.5" cy="456.4" r="6.2" fill="#2c419c"/><circle cx="783.7" cy="104.7" r="6.2" fill="#e49625"/><circle cx="344.2" cy="222.1" r="6.2" fill="#c2a527"/><circle cx="495.9" cy="456.8" r="6.2" fill="#2d439f"/><circle cx="471.1" cy="105" r="6.2" fill="#e99424"/>
<circle cx="622.9" cy="339.8" r="6.2" fill="#539d36"/><circle cx="750" cy="222.7" r="6.2" fill="#b5aa27"/><circle cx="310" cy="340.1" r="6.2" fill="#67a333"/><circle cx="437" cy="223" r="6.2" fill="#bca727"/><circle cx="589" cy="458" r="6.2" fill="#2c429d"/><circle cx="564.1" cy="105.8" r="6.2" fill="#e79524"/>
<circle cx="716.2" cy="340.8" r="6.2" fill="#519c37"/><circle cx="275.8" cy="458.4" r="6.2" fill="#2e45a2"/><circle cx="250.9" cy="106" r="6.2" fill="#ed8c24"/><circle cx="402.9" cy="341.2" r="6.2" fill="#5fa034"/><circle cx="530.1" cy="223.9" r="6.2" fill="#b8a927"/><circle cx="682.3" cy="459.2" r="6.2" fill="#2b419c"/>
<circle cx="657.4" cy="106.6" r="6.2" fill="#e79524"/><circle cx="809.7" cy="341.9" r="6.2" fill="#4f9c37"/><circle cx="368.7" cy="459.6" r="6.2" fill="#2d43a0"/><circle cx="343.8" cy="106.8" r="6.2" fill="#ee9224"/><circle cx="496.1" cy="342.3" r="6.2" fill="#5a9f35"/><circle cx="623.5" cy="224.9" r="6.2" fill="#b6aa27"/>
<circle cx="775.8" cy="460.4" r="6.2" fill="#2b419b"/><circle cx="750.9" cy="107.3" r="6.2" fill="#e69524"/><circle cx="309.5" cy="225.2" r="6.2" fill="#c5a326"/><circle cx="461.9" cy="460.9" r="6.2" fill="#2c429e"/><circle cx="437" cy="107.6" r="6.2" fill="#eb9324"/><circle cx="589.4" cy="343.4" r="6.2" fill="#579e36"/>
<circle cx="717" cy="225.8" r="6.2" fill="#b6aa27"/><circle cx="275.2" cy="343.7" r="6.2" fill="#6ca432"/><circle cx="402.7" cy="226.1" r="6.2" fill="#bfa627"/><circle cx="555.3" cy="462.1" r="6.2" fill="#2c419c"/><circle cx="530.4" cy="108.4" r="6.2" fill="#e99424"/><circle cx="683" cy="344.4" r="6.2" fill="#559d36"/>
<circle cx="810.8" cy="226.7" r="6.2" fill="#b8a927"/><circle cx="368.4" cy="344.8" r="6.2" fill="#64a233"/><circle cx="496.2" cy="227" r="6.2" fill="#bba827"/><circle cx="649" cy="463.3" r="6.2" fill="#2b419b"/><circle cx="624" cy="109.2" r="6.2" fill="#e99424"/><circle cx="776.9" cy="345.5" r="6.2" fill="#539d36"/>
<circle cx="334.1" cy="463.7" r="6.2" fill="#2d439f"/><circle cx="309" cy="109.4" r="6.2" fill="#ed8e24"/><circle cx="461.9" cy="345.9" r="6.2" fill="#5fa034"/><circle cx="589.9" cy="228" r="6.2" fill="#b8a927"/><circle cx="742.9" cy="464.6" r="6.2" fill="#2b409a"/><circle cx="717.9" cy="110" r="6.2" fill="#e89424"/>
<circle cx="274.6" cy="228.3" r="6.2" fill="#c9a226"/><circle cx="427.6" cy="465" r="6.2" fill="#2c429d"/><circle cx="402.5" cy="110.2" r="6.2" fill="#ed9224"/><circle cx="555.7" cy="347" r="6.2" fill="#5b9f35"/><circle cx="683.8" cy="228.9" r="6.2" fill="#b8a927"/><circle cx="837" cy="465.8" r="6.2" fill="#2a4099"/>
<circle cx="812" cy="110.8" r="6.2" fill="#e79524"/><circle cx="368.1" cy="229.2" r="6.2" fill="#c3a427"/><circle cx="521.4" cy="466.2" r="6.2" fill="#2b419c"/><circle cx="496.3" cy="111" r="6.2" fill="#eb9324"/><circle cx="649.6" cy="348.1" r="6.2" fill="#599e35"/><circle cx="778" cy="229.9" r="6.2" fill="#b9a927"/>
<circle cx="333.7" cy="348.4" r="6.2" fill="#69a333"/><circle cx="461.9" cy="230.2" r="6.2" fill="#bea727"/><circle cx="615.4" cy="467.5" r="6.2" fill="#2b409a"/><circle cx="590.3" cy="111.8" r="6.2" fill="#eb9324"/><circle cx="743.8" cy="349.2" r="6.2" fill="#579e36"/><circle cx="299.1" cy="467.9" r="6.2" fill="#2d439f"/>
<circle cx="274" cy="112.1" r="6.2" fill="#ed8925"/><circle cx="427.5" cy="349.5" r="6.2" fill="#63a234"/><circle cx="556" cy="231.1" r="6.2" fill="#bba827"/><circle cx="709.7" cy="468.7" r="6.2" fill="#2a3f99"/><circle cx="684.5" cy="112.6" r="6.2" fill="#ea9424"/><circle cx="838.3" cy="350.3" r="6.2" fill="#569e36"/>
<circle cx="393" cy="469.1" r="6.2" fill="#2c429d"/><circle cx="367.8" cy="112.9" r="6.2" fill="#ee8f24"/><circle cx="521.6" cy="350.6" r="6.2" fill="#5fa034"/><circle cx="650.3" cy="232.1" r="6.2" fill="#b9a827"/><circle cx="804.2" cy="470" r="6.2" fill="#2a4097"/><circle cx="779" cy="113.4" r="6.2" fill="#ea9424"/>
<circle cx="333.3" cy="232.4" r="6.2" fill="#c7a326"/><circle cx="487.2" cy="470.4" r="6.2" fill="#2b419b"/><circle cx="462" cy="113.7" r="6.2" fill="#ee9224"/><circle cx="615.9" cy="351.8" r="6.2" fill="#5da035"/><circle cx="744.8" cy="233" r="6.2" fill="#baa827"/><circle cx="298.6" cy="352.1" r="6.2" fill="#6ea532"/>
<circle cx="427.4" cy="233.3" r="6.2" fill="#c1a527"/><circle cx="581.5" cy="471.7" r="6.2" fill="#2a4099"/><circle cx="556.3" cy="114.5" r="6.2" fill="#ed9324"/><circle cx="710.5" cy="352.9" r="6.2" fill="#5b9f35"/><circle cx="839.6" cy="234" r="6.2" fill="#bca727"/><circle cx="392.8" cy="353.2" r="6.2" fill="#68a333"/>
<circle cx="521.8" cy="234.3" r="6.2" fill="#bda727"/><circle cx="676.1" cy="472.9" r="6.2" fill="#2a4097"/><circle cx="650.9" cy="115.3" r="6.2" fill="#ec9324"/><circle cx="805.3" cy="354" r="6.2" fill="#5a9f35"/><circle cx="358.1" cy="473.3" r="6.2" fill="#2c419c"/><circle cx="332.8" cy="115.5" r="6.2" fill="#ed8b25"/>
<circle cx="487.2" cy="354.3" r="6.2" fill="#63a234"/><circle cx="616.5" cy="235.2" r="6.2" fill="#bca827"/><circle cx="771" cy="474.2" r="6.2" fill="#2a4294"/><circle cx="745.8" cy="116.1" r="6.2" fill="#ec9324"/><circle cx="298.1" cy="235.6" r="6.2" fill="#cba126"/><circle cx="452.6" cy="474.6" r="6.2" fill="#2b409a"/>
<circle cx="427.3" cy="116.3" r="6.2" fill="#ee8f24"/><circle cx="581.9" cy="355.5" r="6.2" fill="#61a134"/><circle cx="711.4" cy="236.2" r="6.2" fill="#bca727"/><circle cx="866.1" cy="475.5" r="6.2" fill="#2a4393"/><circle cx="840.9" cy="116.9" r="6.2" fill="#ea9324"/><circle cx="392.6" cy="236.5" r="6.2" fill="#c5a426"/>
<circle cx="547.4" cy="475.9" r="6.2" fill="#2a3f98"/><circle cx="522" cy="117.1" r="6.2" fill="#ee9124"/><circle cx="676.9" cy="356.6" r="6.2" fill="#5fa034"/><circle cx="806.5" cy="237.2" r="6.2" fill="#bda727"/><circle cx="357.8" cy="356.9" r="6.2" fill="#6da532"/><circle cx="487.3" cy="237.5" r="6.2" fill="#c0a627"/>
<circle cx="642.3" cy="477.2" r="6.2" fill="#2a4295"/><circle cx="617" cy="118" r="6.2" fill="#ee9124"/><circle cx="772.1" cy="357.7" r="6.2" fill="#5ea035"/><circle cx="322.9" cy="477.6" r="6.2" fill="#2b419c"/><circle cx="297.5" cy="118.2" r="6.2" fill="#ec8625"/><circle cx="452.6" cy="358.1" r="6.2" fill="#68a333"/>
<circle cx="582.4" cy="238.5" r="6.2" fill="#bea727"/><circle cx="737.6" cy="478.4" r="6.2" fill="#2a4491"/><circle cx="712.2" cy="118.8" r="6.2" fill="#ee9124"/><circle cx="867.5" cy="358.8" r="6.2" fill="#5da035"/><circle cx="417.8" cy="478.9" r="6.2" fill="#2b409a"/><circle cx="392.4" cy="119" r="6.2" fill="#ed8b25"/>
<circle cx="547.7" cy="359.2" r="6.2" fill="#65a233"/><circle cx="677.6" cy="239.4" r="6.2" fill="#bea727"/><circle cx="833" cy="479.7" r="6.2" fill="#2a4690"/><circle cx="807.7" cy="119.6" r="6.2" fill="#ee9224"/><circle cx="357.4" cy="239.7" r="6.2" fill="#c8a226"/><circle cx="512.9" cy="480.1" r="6.2" fill="#2a4097"/>
<circle cx="487.4" cy="119.8" r="6.2" fill="#ed8d24"/><circle cx="643" cy="360.3" r="6.2" fill="#63a234"/><circle cx="773.1" cy="240.4" r="6.2" fill="#bfa627"/><circle cx="322.5" cy="360.7" r="6.2" fill="#72a631"/><circle cx="452.6" cy="240.7" r="6.2" fill="#c3a427"/><circle cx="608.2" cy="481.4" r="6.2" fill="#2a4393"/>
<circle cx="582.8" cy="120.7" r="6.2" fill="#ed8d24"/><circle cx="738.5" cy="361.4" r="6.2" fill="#62a134"/><circle cx="868.9" cy="241.4" r="6.2" fill="#c1a527"/><circle cx="417.6" cy="361.8" r="6.2" fill="#6ca432"/><circle cx="548" cy="241.7" r="6.2" fill="#c1a527"/><circle cx="703.8" cy="482.7" r="6.2" fill="#2a468f"/>
<circle cx="678.4" cy="121.5" r="6.2" fill="#ed8d24"/><circle cx="834.3" cy="362.6" r="6.2" fill="#61a134"/><circle cx="382.6" cy="483.1" r="6.2" fill="#2a3f99"/><circle cx="357.1" cy="121.8" r="6.2" fill="#ec8625"/><circle cx="513.1" cy="362.9" r="6.2" fill="#69a333"/><circle cx="643.6" cy="242.7" r="6.2" fill="#c0a627"/>
<circle cx="799.7" cy="484" r="6.2" fill="#2a488c"/><circle cx="774.2" cy="122.3" r="6.2" fill="#ed8e24"/><circle cx="322" cy="243" r="6.2" fill="#cca026"/><circle cx="478.1" cy="484.4" r="6.2" fill="#2a4195"/><circle cx="452.6" cy="122.6" r="6.2" fill="#ed8925"/><circle cx="608.7" cy="364.1" r="6.2" fill="#67a333"/>
<circle cx="739.5" cy="243.6" r="6.2" fill="#c1a527"/><circle cx="895.8" cy="485.3" r="6.2" fill="#2a498c"/><circle cx="870.3" cy="123.1" r="6.2" fill="#ee9224"/><circle cx="417.5" cy="244" r="6.2" fill="#c7a326"/><circle cx="573.8" cy="485.7" r="6.2" fill="#2a4591"/><circle cx="548.3" cy="123.4" r="6.2" fill="#ed8a25"/>
<circle cx="704.7" cy="365.2" r="6.2" fill="#66a333"/><circle cx="835.6" cy="244.6" r="6.2" fill="#c3a427"/><circle cx="382.4" cy="365.6" r="6.2" fill="#71a631"/><circle cx="513.3" cy="245" r="6.2" fill="#c4a427"/><circle cx="669.8" cy="487" r="6.2" fill="#2a488c"/><circle cx="644.2" cy="124.2" r="6.2" fill="#ed8925"/>
<circle cx="800.9" cy="366.4" r="6.2" fill="#65a233"/><circle cx="347.2" cy="487.5" r="6.2" fill="#2a3f98"/><circle cx="321.5" cy="124.5" r="6.2" fill="#ec8225"/><circle cx="478.2" cy="366.7" r="6.2" fill="#6da532"/><circle cx="609.3" cy="245.9" r="6.2" fill="#c2a527"/><circle cx="766" cy="488.3" r="6.2" fill="#2a4b87"/>
<circle cx="740.4" cy="125" r="6.2" fill="#ed8925"/><circle cx="897.3" cy="367.5" r="6.2" fill="#64a233"/><circle cx="443.1" cy="488.8" r="6.2" fill="#2a4294"/><circle cx="417.4" cy="125.3" r="6.2" fill="#ec8525"/><circle cx="574.2" cy="367.9" r="6.2" fill="#6ba432"/><circle cx="705.5" cy="246.9" r="6.2" fill="#c3a427"/>
<circle cx="862.5" cy="489.6" r="6.2" fill="#2a4d82"/><circle cx="836.9" cy="125.9" r="6.2" fill="#ed8b24"/><circle cx="382.1" cy="247.3" r="6.2" fill="#cba126"/><circle cx="539.1" cy="490.1" r="6.2" fill="#2a468f"/><circle cx="513.5" cy="126.2" r="6.2" fill="#ec8625"/><circle cx="670.5" cy="369" r="6.2" fill="#6aa432"/>
<circle cx="802" cy="247.9" r="6.2" fill="#c4a426"/><circle cx="346.8" cy="369.4" r="6.2" fill="#76a730"/><circle cx="478.3" cy="248.2" r="6.2" fill="#c7a326"/><circle cx="635.5" cy="491.4" r="6.2" fill="#2a4a8a"/><circle cx="609.8" cy="127" r="6.2" fill="#ec8525"/><circle cx="767.1" cy="370.2" r="6.2" fill="#6aa433"/>
<circle cx="898.8" cy="248.9" r="6.2" fill="#c6a326"/><circle cx="443" cy="370.6" r="6.2" fill="#72a631"/><circle cx="574.6" cy="249.2" r="6.2" fill="#c5a426"/><circle cx="732.1" cy="492.7" r="6.2" fill="#294f7e"/><circle cx="706.4" cy="127.8" r="6.2" fill="#ec8425"/><circle cx="863.9" cy="371.3" r="6.2" fill="#69a333"/>
<circle cx="407.7" cy="493.1" r="6.2" fill="#2a4492"/><circle cx="381.9" cy="128.1" r="6.2" fill="#ec8125"/><circle cx="539.4" cy="371.7" r="6.2" fill="#6fa531"/><circle cx="671.3" cy="250.2" r="6.2" fill="#c5a426"/><circle cx="828.9" cy="494" r="6.2" fill="#295276"/><circle cx="803.2" cy="128.7" r="6.2" fill="#ec8525"/>
<circle cx="346.4" cy="250.6" r="6.2" fill="#cf9f26"/><circle cx="504.1" cy="494.5" r="6.2" fill="#2a488d"/><circle cx="478.3" cy="128.9" r="6.2" fill="#ec8225"/><circle cx="636.1" cy="372.9" r="6.2" fill="#6ea532"/><circle cx="768.2" cy="251.2" r="6.2" fill="#c6a326"/><circle cx="900.3" cy="129.5" r="6.2" fill="#ed8c24"/>
<circle cx="442.9" cy="251.6" r="6.2" fill="#caa126"/><circle cx="600.9" cy="495.8" r="6.2" fill="#2a4c84"/><circle cx="575" cy="129.8" r="6.2" fill="#ec8225"/><circle cx="733" cy="374.1" r="6.2" fill="#6ea532"/><circle cx="865.3" cy="252.2" r="6.2" fill="#c8a226"/><circle cx="407.5" cy="374.4" r="6.2" fill="#76a730"/>
<circle cx="539.7" cy="252.6" r="6.2" fill="#c8a226"/><circle cx="697.8" cy="497.1" r="6.2" fill="#295276"/><circle cx="672" cy="130.6" r="6.2" fill="#ec8025"/><circle cx="830.2" cy="375.2" r="6.2" fill="#6da532"/><circle cx="372" cy="497.6" r="6.2" fill="#2a4591"/><circle cx="346.1" cy="130.9" r="6.2" fill="#eb7d25"/>
<circle cx="504.3" cy="375.6" r="6.2" fill="#74a731"/><circle cx="636.7" cy="253.6" r="6.2" fill="#c7a326"/><circle cx="795.1" cy="498.4" r="6.2" fill="#29566b"/><circle cx="769.2" cy="131.5" r="6.2" fill="#eb8025"/><circle cx="468.8" cy="498.9" r="6.2" fill="#2a498b"/><circle cx="442.9" cy="131.7" r="6.2" fill="#eb7f25"/>
<circle cx="601.4" cy="376.8" r="6.2" fill="#72a631"/><circle cx="734" cy="254.6" r="6.2" fill="#c8a226"/><circle cx="866.7" cy="132.3" r="6.2" fill="#ec8425"/><circle cx="407.3" cy="254.9" r="6.2" fill="#cea026"/><circle cx="565.9" cy="500.2" r="6.2" fill="#294f7e"/><circle cx="540" cy="132.6" r="6.2" fill="#eb7e25"/>
<circle cx="698.7" cy="377.9" r="6.2" fill="#72a631"/><circle cx="831.5" cy="255.6" r="6.2" fill="#cba126"/><circle cx="371.7" cy="378.3" r="6.2" fill="#7ba92f"/><circle cx="504.5" cy="255.9" r="6.2" fill="#cba126"/><circle cx="663.3" cy="501.5" r="6.2" fill="#29556e"/><circle cx="637.3" cy="133.4" r="6.2" fill="#eb7c26"/>
<circle cx="796.3" cy="379.1" r="6.2" fill="#72a631"/><circle cx="468.9" cy="379.5" r="6.2" fill="#78a830"/><circle cx="601.9" cy="256.9" r="6.2" fill="#caa126"/><circle cx="760.9" cy="502.9" r="6.2" fill="#285a61"/><circle cx="734.9" cy="134.3" r="6.2" fill="#eb7a26"/><circle cx="433.2" cy="503.3" r="6.2" fill="#2a4a89"/>
<circle cx="407.1" cy="134.6" r="6.2" fill="#eb7b26"/><circle cx="566.3" cy="380.7" r="6.2" fill="#77a830"/><circle cx="699.5" cy="258" r="6.2" fill="#cba126"/><circle cx="832.8" cy="135.1" r="6.2" fill="#eb7c25"/><circle cx="371.4" cy="258.3" r="6.2" fill="#d19e26"/><circle cx="530.7" cy="504.7" r="6.2" fill="#295178"/>
<circle cx="504.6" cy="135.4" r="6.2" fill="#eb7a26"/><circle cx="664" cy="381.9" r="6.2" fill="#76a730"/><circle cx="797.4" cy="259" r="6.2" fill="#cda026"/><circle cx="468.9" cy="259.3" r="6.2" fill="#cea026"/><circle cx="628.4" cy="506" r="6.2" fill="#285767"/><circle cx="602.4" cy="136.3" r="6.2" fill="#ea7826"/>
<circle cx="762" cy="383.1" r="6.2" fill="#76a730"/><circle cx="433.1" cy="383.5" r="6.2" fill="#7da92f"/><circle cx="566.7" cy="260.3" r="6.2" fill="#cca026"/><circle cx="726.5" cy="507.4" r="6.2" fill="#285d59"/><circle cx="700.3" cy="137.1" r="6.2" fill="#ea7626"/><circle cx="397.3" cy="507.8" r="6.2" fill="#2a4c85"/>
<circle cx="371.1" cy="137.4" r="6.2" fill="#ea7726"/><circle cx="530.9" cy="384.6" r="6.2" fill="#7ba92f"/><circle cx="664.7" cy="261.4" r="6.2" fill="#cda026"/><circle cx="798.6" cy="138" r="6.2" fill="#ea7626"/><circle cx="495.1" cy="509.2" r="6.2" fill="#295274"/><circle cx="468.9" cy="138.3" r="6.2" fill="#ea7726"/>
<circle cx="629" cy="385.8" r="6.2" fill="#7ba830"/><circle cx="763" cy="262.4" r="6.2" fill="#cf9f26"/><circle cx="433" cy="262.7" r="6.2" fill="#d19e26"/><circle cx="593.3" cy="510.6" r="6.2" fill="#285962"/><circle cx="567.1" cy="139.2" r="6.2" fill="#ea7526"/><circle cx="727.4" cy="387" r="6.2" fill="#7ba830"/>
<circle cx="397" cy="387.4" r="6.2" fill="#82aa2e"/><circle cx="531.2" cy="263.8" r="6.2" fill="#cf9f26"/><circle cx="691.7" cy="511.9" r="6.2" fill="#296052"/><circle cx="665.5" cy="140" r="6.2" fill="#e97126"/><circle cx="495.3" cy="388.6" r="6.2" fill="#80a92f"/><circle cx="629.6" cy="264.8" r="6.2" fill="#cf9f26"/>
<circle cx="764.1" cy="140.9" r="6.2" fill="#e97026"/><circle cx="459.3" cy="513.8" r="6.2" fill="#295470"/><circle cx="432.9" cy="141.2" r="6.2" fill="#ea7426"/><circle cx="593.7" cy="389.8" r="6.2" fill="#80a92f"/><circle cx="728.3" cy="265.8" r="6.2" fill="#d19e26"/><circle cx="396.8" cy="266.2" r="6.2" fill="#d59d26"/>
<circle cx="557.8" cy="515.1" r="6.2" fill="#285b5d"/><circle cx="531.5" cy="142.1" r="6.2" fill="#e97126"/><circle cx="692.5" cy="391" r="6.2" fill="#80a92f"/><circle cx="495.4" cy="267.2" r="6.2" fill="#d29e26"/><circle cx="656.6" cy="516.5" r="6.2" fill="#29624c"/><circle cx="630.2" cy="142.9" r="6.2" fill="#e96d27"/>
<circle cx="459.3" cy="392.7" r="6.2" fill="#85aa2e"/><circle cx="594.2" cy="268.3" r="6.2" fill="#d29e26"/><circle cx="729.3" cy="143.8" r="6.2" fill="#e96a27"/><circle cx="423.1" cy="518.3" r="6.2" fill="#29556c"/><circle cx="396.6" cy="144.1" r="6.2" fill="#e97026"/><circle cx="558.1" cy="393.9" r="6.2" fill="#85aa2e"/>
<circle cx="693.3" cy="269.3" r="6.2" fill="#d39d26"/><circle cx="522" cy="519.7" r="6.2" fill="#285d59"/><circle cx="495.5" cy="145" r="6.2" fill="#e96e26"/><circle cx="657.3" cy="395.1" r="6.2" fill="#85aa2e"/><circle cx="459.3" cy="270.7" r="6.2" fill="#d59d26"/><circle cx="621.2" cy="521.1" r="6.2" fill="#296446"/>
<circle cx="594.7" cy="145.9" r="6.2" fill="#e86a27"/><circle cx="422.9" cy="396.7" r="6.2" fill="#8bab2d"/><circle cx="558.5" cy="271.8" r="6.2" fill="#d49d26"/><circle cx="694.2" cy="146.7" r="6.2" fill="#e86527"/><circle cx="522.2" cy="398" r="6.2" fill="#8aab2d"/><circle cx="658" cy="272.8" r="6.2" fill="#d59c25"/>
<circle cx="485.9" cy="524.4" r="6.2" fill="#295e56"/><circle cx="459.3" cy="147.9" r="6.2" fill="#e96b27"/><circle cx="621.8" cy="399.2" r="6.2" fill="#8aab2d"/><circle cx="422.8" cy="274.3" r="6.2" fill="#d89b25"/><circle cx="585.5" cy="525.8" r="6.2" fill="#296642"/><circle cx="558.9" cy="148.8" r="6.2" fill="#e86727"/>
<circle cx="522.4" cy="275.3" r="6.2" fill="#d79c25"/><circle cx="658.7" cy="149.7" r="6.2" fill="#e76127"/><circle cx="486" cy="402.1" r="6.2" fill="#8fac2c"/><circle cx="622.3" cy="276.4" r="6.2" fill="#d89c25"/><circle cx="449.4" cy="529.1" r="6.2" fill="#295f53"/><circle cx="422.7" cy="150.9" r="6.2" fill="#e86927"/>
<circle cx="585.9" cy="403.3" r="6.2" fill="#8fac2c"/><circle cx="549.4" cy="530.5" r="6.2" fill="#2a673f"/><circle cx="522.7" cy="151.8" r="6.2" fill="#e86427"/><circle cx="486.1" cy="278.9" r="6.2" fill="#da9b25"/><circle cx="622.9" cy="152.7" r="6.2" fill="#e75e28"/><circle cx="449.4" cy="406.2" r="6.2" fill="#94ad2b"/>
<circle cx="586.4" cy="280" r="6.2" fill="#da9b25"/><circle cx="549.7" cy="407.5" r="6.2" fill="#94ad2b"/><circle cx="513" cy="535.2" r="6.2" fill="#2a683c"/><circle cx="486.2" cy="154.8" r="6.2" fill="#e76227"/><circle cx="449.3" cy="282.5" r="6.2" fill="#dd9925"/><circle cx="586.8" cy="155.7" r="6.2" fill="#e65b28"/>
<circle cx="550.1" cy="283.6" r="6.2" fill="#dc9a25"/><circle cx="513.2" cy="411.7" r="6.2" fill="#99ae2a"/><circle cx="476.3" cy="540" r="6.2" fill="#2a693a"/><circle cx="449.3" cy="157.9" r="6.2" fill="#e76027"/><circle cx="550.4" cy="158.8" r="6.2" fill="#e65928"/><circle cx="513.4" cy="287.2" r="6.2" fill="#df9825"/>
<circle cx="476.4" cy="415.9" r="6.2" fill="#9eae2a"/><circle cx="513.6" cy="161.9" r="6.2" fill="#e65828"/><circle cx="476.4" cy="290.9" r="6.2" fill="#e19725"/><circle cx="476.5" cy="165" r="6.2" fill="#e65628"/>
</g>
<text class="t" x="195.3" y="132" text-anchor="end">0.175</text>
<text class="t" x="195.3" y="180.8" text-anchor="end">0.150</text>
<text class="t" x="195.3" y="230.1" text-anchor="end">0.125</text>
<text class="t" x="195.3" y="278.5" text-anchor="end">0.100</text>
<text class="t" x="195.3" y="327.4" text-anchor="end">0.075</text>
<text class="t" x="195.3" y="375.7" text-anchor="end">0.050</text>
<text class="t" x="195.3" y="424.1" text-anchor="end">0.025</text>
<text class="t" x="195.3" y="472.4" text-anchor="end">0</text>
<text class="t" x="143.5" y="517.8">3.6</text>
<text class="t" x="187.5" y="558.1">3.8</text>
<text class="t" x="253.5" y="577.3">4.0</text>
<text class="t" x="318.5" y="599.3">4.2</text>
<text class="t" x="377" y="632.2">4.4</text>
<text class="t" x="508.3" y="626.1">6.6</text>
<text class="t" x="583" y="617">6.4</text>
<text class="t" x="667.7" y="605.9">6.2</text>
<text class="t" x="747.5" y="594.8">6.0</text>
<text class="t" x="824.2" y="587.1">5.8</text>
<text class="t" x="907" y="572.2">5.6</text>
<text class="t" transform="translate(54.4,361) rotate(-90)"><tspan class="i">w</tspan><tspan class="s i" dy="12">O</tspan><tspan dy="-12">/</tspan><tspan class="i q">%</tspan></text>
<text class="t" transform="translate(146.5,596.5) rotate(26)"><tspan class="i">w</tspan><tspan class="s" dy="12">V</tspan><tspan dy="-12">/</tspan><tspan class="i q">%</tspan></text>
<text class="t" transform="translate(672,673) rotate(-10)"><tspan class="i">w</tspan><tspan class="s" dy="12">Al</tspan><tspan dy="-12">/</tspan><tspan class="i q">%</tspan></text>
</g>
<rect x="979.2" y="883.1" width="40" height="316" fill="url(#cb)" stroke="#3a3a3a" stroke-width="1"/>
<path d="M1019.2 1170.4h4M1019.2 1112.9h4M1019.2 1055.5h4M1019.2 998h4M1019.2 940.6h4" stroke="#3a3a3a" stroke-width="1.5"/>
<text class="c" x="1036.8" y="901.2">1100</text>
<text class="c" x="1036.8" y="957.2">1000</text>
<text class="c" x="1036.8" y="1014.8">900</text>
<text class="c" x="1036.8" y="1072.3">800</text>
<text class="c" x="1036.8" y="1129.1">700</text>
<text class="c" x="1036.8" y="1186.5">600</text>
<text class="c" x="979.3" y="844">YS/MPa</text>
<text class="p" x="77.8" y="764.6">(d)</text>
<g transform="translate(1126.5,714)">
<use href="#box"/>
<g class="d">
<circle cx="648.4" cy="403.3" r="6.2" fill="#2e45a2"/><circle cx="649" cy="295" r="6.2" fill="#4e9b37"/><circle cx="616.9" cy="406.9" r="6.2" fill="#2d44a0"/><circle cx="649.6" cy="186" r="6.2" fill="#b9a927"/><circle cx="617.4" cy="298.2" r="6.2" fill="#549d36"/><circle cx="585.1" cy="410.6" r="6.2" fill="#2c439e"/>
<circle cx="673.8" cy="411.7" r="6.2" fill="#2c429e"/><circle cx="650.2" cy="76.4" r="6.2" fill="#ee9124"/><circle cx="617.9" cy="188.8" r="6.2" fill="#bba827"/><circle cx="585.5" cy="301.5" r="6.2" fill="#5a9f35"/><circle cx="553.1" cy="414.3" r="6.2" fill="#2c429d"/><circle cx="674.5" cy="302.4" r="6.2" fill="#539d36"/>
<circle cx="642.1" cy="415.4" r="6.2" fill="#2c419c"/><circle cx="618.4" cy="78.8" r="6.2" fill="#ed8e24"/><circle cx="585.9" cy="191.6" r="6.2" fill="#bea627"/><circle cx="553.4" cy="304.7" r="6.2" fill="#60a134"/><circle cx="675.2" cy="192.5" r="6.2" fill="#bba827"/><circle cx="520.8" cy="418" r="6.2" fill="#2b419b"/>
<circle cx="642.7" cy="305.7" r="6.2" fill="#589e36"/><circle cx="610.2" cy="419.2" r="6.2" fill="#2b409a"/><circle cx="586.3" cy="81.1" r="6.2" fill="#ed8b25"/><circle cx="553.7" cy="194.5" r="6.2" fill="#c1a527"/><circle cx="699.8" cy="420.3" r="6.2" fill="#2b409a"/><circle cx="675.9" cy="81.9" r="6.2" fill="#ee8f24"/>
<circle cx="521" cy="308" r="6.2" fill="#66a233"/><circle cx="643.3" cy="195.3" r="6.2" fill="#bda727"/><circle cx="488.3" cy="421.8" r="6.2" fill="#2b4099"/><circle cx="610.7" cy="309" r="6.2" fill="#5da035"/><circle cx="578" cy="422.9" r="6.2" fill="#2a3f99"/><circle cx="554" cy="83.5" r="6.2" fill="#ed8725"/>
<circle cx="700.5" cy="310" r="6.2" fill="#589e35"/><circle cx="521.2" cy="197.4" r="6.2" fill="#c4a427"/><circle cx="667.9" cy="424.1" r="6.2" fill="#2a3f98"/><circle cx="643.9" cy="84.3" r="6.2" fill="#ed8c24"/><circle cx="488.4" cy="311.4" r="6.2" fill="#6ca432"/><circle cx="611.2" cy="198.2" r="6.2" fill="#c0a627"/>
<circle cx="455.5" cy="425.6" r="6.2" fill="#2a3f98"/><circle cx="578.4" cy="312.4" r="6.2" fill="#63a234"/><circle cx="701.3" cy="199.1" r="6.2" fill="#bea727"/><circle cx="545.5" cy="426.8" r="6.2" fill="#2a4097"/><circle cx="521.4" cy="86" r="6.2" fill="#ec8425"/><circle cx="668.5" cy="313.4" r="6.2" fill="#5da035"/>
<circle cx="488.5" cy="200.2" r="6.2" fill="#c7a326"/><circle cx="635.7" cy="427.9" r="6.2" fill="#2a4195"/><circle cx="611.7" cy="86.7" r="6.2" fill="#ed8925"/><circle cx="455.5" cy="314.7" r="6.2" fill="#71a631"/><circle cx="578.8" cy="201.1" r="6.2" fill="#c2a527"/><circle cx="726.2" cy="429.1" r="6.2" fill="#2a4195"/>
<circle cx="702.1" cy="87.4" r="6.2" fill="#ed8e24"/><circle cx="422.4" cy="429.4" r="6.2" fill="#2a4195"/><circle cx="545.8" cy="315.7" r="6.2" fill="#68a333"/><circle cx="669.2" cy="202" r="6.2" fill="#c0a627"/><circle cx="512.8" cy="430.6" r="6.2" fill="#2a4393"/><circle cx="488.6" cy="88.4" r="6.2" fill="#ec8025"/>
<circle cx="636.3" cy="316.8" r="6.2" fill="#62a134"/><circle cx="455.5" cy="203.2" r="6.2" fill="#caa126"/><circle cx="603.3" cy="431.8" r="6.2" fill="#2a4492"/><circle cx="579.1" cy="89.1" r="6.2" fill="#ec8525"/><circle cx="727" cy="317.8" r="6.2" fill="#5ea034"/><circle cx="422.3" cy="318.1" r="6.2" fill="#77a830"/>
<circle cx="546.1" cy="204" r="6.2" fill="#c5a426"/><circle cx="694.1" cy="432.9" r="6.2" fill="#2a4491"/><circle cx="669.9" cy="89.9" r="6.2" fill="#ed8a25"/><circle cx="389.1" cy="433.3" r="6.2" fill="#2a4492"/><circle cx="512.9" cy="319.1" r="6.2" fill="#6ea532"/><circle cx="636.9" cy="204.9" r="6.2" fill="#c2a527"/>
<circle cx="479.8" cy="434.5" r="6.2" fill="#2a4591"/><circle cx="455.5" cy="90.9" r="6.2" fill="#eb7c26"/><circle cx="603.8" cy="320.2" r="6.2" fill="#67a333"/><circle cx="727.9" cy="205.8" r="6.2" fill="#c1a527"/><circle cx="422.2" cy="206.1" r="6.2" fill="#cda026"/><circle cx="570.6" cy="435.6" r="6.2" fill="#2a468f"/>
<circle cx="546.4" cy="91.6" r="6.2" fill="#ec8225"/><circle cx="694.9" cy="321.2" r="6.2" fill="#63a134"/><circle cx="388.9" cy="321.5" r="6.2" fill="#7ea92f"/><circle cx="513.1" cy="207" r="6.2" fill="#c7a226"/><circle cx="661.8" cy="436.8" r="6.2" fill="#2a478e"/><circle cx="637.5" cy="92.3" r="6.2" fill="#ec8725"/>
<circle cx="355.5" cy="437.2" r="6.2" fill="#2a468f"/><circle cx="479.8" cy="322.6" r="6.2" fill="#73a731"/><circle cx="604.3" cy="207.9" r="6.2" fill="#c4a426"/><circle cx="753.1" cy="438" r="6.2" fill="#2a478e"/><circle cx="728.8" cy="93.1" r="6.2" fill="#ed8c24"/><circle cx="446.5" cy="438.4" r="6.2" fill="#2a478e"/>
<circle cx="422.1" cy="93.3" r="6.2" fill="#ea7826"/><circle cx="571" cy="323.6" r="6.2" fill="#6ca432"/><circle cx="695.6" cy="208.8" r="6.2" fill="#c3a427"/><circle cx="388.6" cy="209.1" r="6.2" fill="#d09f26"/><circle cx="537.7" cy="439.5" r="6.2" fill="#2a488c"/><circle cx="513.3" cy="94.1" r="6.2" fill="#eb7e25"/>
<circle cx="662.4" cy="324.6" r="6.2" fill="#67a333"/><circle cx="355.1" cy="325" r="6.2" fill="#86aa2e"/><circle cx="479.9" cy="209.9" r="6.2" fill="#caa126"/><circle cx="629.1" cy="440.7" r="6.2" fill="#2a498b"/><circle cx="604.7" cy="94.8" r="6.2" fill="#ec8325"/><circle cx="754.1" cy="325.7" r="6.2" fill="#65a233"/>
<circle cx="321.6" cy="441.1" r="6.2" fill="#2a488d"/><circle cx="446.4" cy="326" r="6.2" fill="#79a830"/><circle cx="571.4" cy="210.8" r="6.2" fill="#c6a326"/><circle cx="720.8" cy="441.9" r="6.2" fill="#2a4a8b"/><circle cx="696.4" cy="95.6" r="6.2" fill="#ed8825"/><circle cx="412.9" cy="442.3" r="6.2" fill="#2a498b"/>
<circle cx="388.4" cy="95.8" r="6.2" fill="#ea7426"/><circle cx="537.9" cy="327.1" r="6.2" fill="#71a631"/><circle cx="663.1" cy="211.7" r="6.2" fill="#c4a426"/><circle cx="354.8" cy="212" r="6.2" fill="#d39e26"/><circle cx="504.5" cy="443.5" r="6.2" fill="#2a4b89"/><circle cx="480" cy="96.6" r="6.2" fill="#eb7a26"/>
<circle cx="629.7" cy="328.1" r="6.2" fill="#6ba432"/><circle cx="755" cy="212.6" r="6.2" fill="#c4a426"/><circle cx="321.1" cy="328.5" r="6.2" fill="#8dab2d"/><circle cx="446.4" cy="212.9" r="6.2" fill="#cda026"/><circle cx="596.3" cy="444.7" r="6.2" fill="#2a4c84"/><circle cx="571.7" cy="97.3" r="6.2" fill="#eb8025"/>
<circle cx="721.7" cy="329.2" r="6.2" fill="#69a333"/><circle cx="287.4" cy="445.1" r="6.2" fill="#2a4a8a"/><circle cx="412.8" cy="329.5" r="6.2" fill="#80a92f"/><circle cx="538.2" cy="213.8" r="6.2" fill="#c9a226"/><circle cx="688.3" cy="445.9" r="6.2" fill="#2a4d82"/><circle cx="663.8" cy="98.1" r="6.2" fill="#ec8425"/>
<circle cx="379.1" cy="446.3" r="6.2" fill="#2a4b88"/><circle cx="354.5" cy="98.4" r="6.2" fill="#e97026"/><circle cx="504.6" cy="330.6" r="6.2" fill="#76a730"/><circle cx="630.3" cy="214.7" r="6.2" fill="#c6a326"/><circle cx="780.5" cy="447.1" r="6.2" fill="#2a4d83"/><circle cx="756" cy="98.9" r="6.2" fill="#ed8a25"/>
<circle cx="320.7" cy="215" r="6.2" fill="#d69c25"/><circle cx="471" cy="447.5" r="6.2" fill="#2a4d81"/><circle cx="446.4" cy="99.1" r="6.2" fill="#ea7726"/><circle cx="596.7" cy="331.6" r="6.2" fill="#70a531"/><circle cx="722.5" cy="215.7" r="6.2" fill="#c6a326"/><circle cx="286.8" cy="332" r="6.2" fill="#94ad2b"/>
<circle cx="412.6" cy="216" r="6.2" fill="#d09f26"/><circle cx="563.1" cy="448.7" r="6.2" fill="#294f7c"/><circle cx="538.5" cy="99.9" r="6.2" fill="#eb7c26"/><circle cx="689" cy="332.7" r="6.2" fill="#6ca432"/><circle cx="252.9" cy="449.1" r="6.2" fill="#2a4c85"/><circle cx="378.8" cy="333" r="6.2" fill="#87aa2e"/>
<circle cx="504.8" cy="216.9" r="6.2" fill="#cba126"/><circle cx="655.5" cy="449.9" r="6.2" fill="#295178"/><circle cx="630.8" cy="100.6" r="6.2" fill="#ec8125"/><circle cx="781.6" cy="333.7" r="6.2" fill="#6ca432"/><circle cx="344.9" cy="450.3" r="6.2" fill="#2a4d82"/><circle cx="320.2" cy="100.9" r="6.2" fill="#e96c27"/>
<circle cx="471" cy="334.1" r="6.2" fill="#7ca92f"/><circle cx="597.2" cy="217.8" r="6.2" fill="#c9a226"/><circle cx="748.1" cy="451.1" r="6.2" fill="#295179"/><circle cx="723.4" cy="101.4" r="6.2" fill="#ec8625"/><circle cx="286.3" cy="218.1" r="6.2" fill="#d99b25"/><circle cx="437.2" cy="451.5" r="6.2" fill="#29507b"/>
<circle cx="412.5" cy="101.7" r="6.2" fill="#ea7326"/><circle cx="563.4" cy="335.1" r="6.2" fill="#74a731"/><circle cx="689.8" cy="218.7" r="6.2" fill="#c8a226"/><circle cx="252.2" cy="335.5" r="6.2" fill="#9bae2a"/><circle cx="378.5" cy="219" r="6.2" fill="#d39d26"/><circle cx="529.7" cy="452.7" r="6.2" fill="#295274"/>
<circle cx="504.9" cy="102.4" r="6.2" fill="#ea7826"/><circle cx="656.1" cy="336.2" r="6.2" fill="#70a631"/><circle cx="782.7" cy="219.6" r="6.2" fill="#c8a226"/><circle cx="344.6" cy="336.6" r="6.2" fill="#8eac2c"/><circle cx="471" cy="219.9" r="6.2" fill="#ce9f26"/><circle cx="622.4" cy="453.9" r="6.2" fill="#295470"/>
<circle cx="597.6" cy="103.2" r="6.2" fill="#eb7d25"/><circle cx="749" cy="337.3" r="6.2" fill="#6fa532"/><circle cx="310.5" cy="454.3" r="6.2" fill="#294f7c"/><circle cx="285.7" cy="103.5" r="6.2" fill="#e86727"/><circle cx="437.1" cy="337.6" r="6.2" fill="#82aa2e"/><circle cx="563.8" cy="220.8" r="6.2" fill="#cba126"/>
<circle cx="715.3" cy="455.1" r="6.2" fill="#29546f"/><circle cx="690.6" cy="104" r="6.2" fill="#ec8225"/><circle cx="251.6" cy="221.1" r="6.2" fill="#dc9a25"/><circle cx="403.1" cy="455.5" r="6.2" fill="#295275"/><circle cx="378.3" cy="104.2" r="6.2" fill="#e96e26"/><circle cx="529.9" cy="338.7" r="6.2" fill="#79a830"/>
<circle cx="656.8" cy="221.8" r="6.2" fill="#c9a226"/><circle cx="808.5" cy="456.4" r="6.2" fill="#295372"/><circle cx="783.7" cy="104.7" r="6.2" fill="#ed8825"/><circle cx="344.2" cy="222.1" r="6.2" fill="#d69c25"/><circle cx="495.9" cy="456.8" r="6.2" fill="#29556e"/><circle cx="471.1" cy="105" r="6.2" fill="#ea7426"/>
<circle cx="622.9" cy="339.8" r="6.2" fill="#75a731"/><circle cx="750" cy="222.7" r="6.2" fill="#caa126"/><circle cx="310" cy="340.1" r="6.2" fill="#95ad2b"/><circle cx="437" cy="223" r="6.2" fill="#d19e26"/><circle cx="589" cy="458" r="6.2" fill="#285768"/><circle cx="564.1" cy="105.8" r="6.2" fill="#eb7926"/>
<circle cx="716.2" cy="340.8" r="6.2" fill="#73a631"/><circle cx="275.8" cy="458.4" r="6.2" fill="#295177"/><circle cx="250.9" cy="106" r="6.2" fill="#e76227"/><circle cx="402.9" cy="341.2" r="6.2" fill="#89ab2d"/><circle cx="530.1" cy="223.9" r="6.2" fill="#cda026"/><circle cx="682.3" cy="459.2" r="6.2" fill="#285866"/>
<circle cx="657.4" cy="106.6" r="6.2" fill="#eb7e25"/><circle cx="809.7" cy="341.9" r="6.2" fill="#73a631"/><circle cx="368.7" cy="459.6" r="6.2" fill="#295470"/><circle cx="343.8" cy="106.8" r="6.2" fill="#e96a27"/><circle cx="496.1" cy="342.3" r="6.2" fill="#7fa92f"/><circle cx="623.5" cy="224.9" r="6.2" fill="#cba126"/>
<circle cx="775.8" cy="460.4" r="6.2" fill="#285768"/><circle cx="750.9" cy="107.3" r="6.2" fill="#ec8325"/><circle cx="309.5" cy="225.2" r="6.2" fill="#d99b25"/><circle cx="461.9" cy="460.9" r="6.2" fill="#285768"/><circle cx="437" cy="107.6" r="6.2" fill="#e97026"/><circle cx="589.4" cy="343.4" r="6.2" fill="#79a830"/>
<circle cx="717" cy="225.8" r="6.2" fill="#cba126"/><circle cx="275.2" cy="343.7" r="6.2" fill="#9cae2a"/><circle cx="402.7" cy="226.1" r="6.2" fill="#d49d26"/><circle cx="555.3" cy="462.1" r="6.2" fill="#285a61"/><circle cx="530.4" cy="108.4" r="6.2" fill="#ea7526"/><circle cx="683" cy="344.4" r="6.2" fill="#76a830"/>
<circle cx="810.8" cy="226.7" r="6.2" fill="#cca026"/><circle cx="368.4" cy="344.8" r="6.2" fill="#8fac2c"/><circle cx="496.2" cy="227" r="6.2" fill="#d09f26"/><circle cx="649" cy="463.3" r="6.2" fill="#285b5e"/><circle cx="624" cy="109.2" r="6.2" fill="#eb7a26"/><circle cx="776.9" cy="345.5" r="6.2" fill="#76a730"/>
<circle cx="334.1" cy="463.7" r="6.2" fill="#29556c"/><circle cx="309" cy="109.4" r="6.2" fill="#e86627"/><circle cx="461.9" cy="345.9" r="6.2" fill="#86aa2e"/><circle cx="589.9" cy="228" r="6.2" fill="#cea026"/><circle cx="742.9" cy="464.6" r="6.2" fill="#285b5f"/><circle cx="717.9" cy="110" r="6.2" fill="#eb7f25"/>
<circle cx="274.6" cy="228.3" r="6.2" fill="#dd9925"/><circle cx="427.6" cy="465" r="6.2" fill="#285963"/><circle cx="402.5" cy="110.2" r="6.2" fill="#e96c27"/><circle cx="555.7" cy="347" r="6.2" fill="#7fa92f"/><circle cx="683.8" cy="228.9" r="6.2" fill="#cda026"/><circle cx="837" cy="465.8" r="6.2" fill="#285963"/>
<circle cx="812" cy="110.8" r="6.2" fill="#ec8525"/><circle cx="368.1" cy="229.2" r="6.2" fill="#d79c25"/><circle cx="521.4" cy="466.2" r="6.2" fill="#285c5c"/><circle cx="496.3" cy="111" r="6.2" fill="#e97126"/><circle cx="649.6" cy="348.1" r="6.2" fill="#7ba830"/><circle cx="778" cy="229.9" r="6.2" fill="#cea026"/>
<circle cx="333.7" cy="348.4" r="6.2" fill="#96ad2b"/><circle cx="461.9" cy="230.2" r="6.2" fill="#d39e26"/><circle cx="615.4" cy="467.5" r="6.2" fill="#285e57"/><circle cx="590.3" cy="111.8" r="6.2" fill="#ea7626"/><circle cx="743.8" cy="349.2" r="6.2" fill="#7aa830"/><circle cx="299.1" cy="467.9" r="6.2" fill="#285768"/>
<circle cx="274" cy="112.1" r="6.2" fill="#e76127"/><circle cx="427.5" cy="349.5" r="6.2" fill="#8cab2d"/><circle cx="556" cy="231.1" r="6.2" fill="#d09f26"/><circle cx="709.7" cy="468.7" r="6.2" fill="#285e57"/><circle cx="684.5" cy="112.6" r="6.2" fill="#eb7a26"/><circle cx="838.3" cy="350.3" r="6.2" fill="#7ba92f"/>
<circle cx="393" cy="469.1" r="6.2" fill="#285a5f"/><circle cx="367.8" cy="112.9" r="6.2" fill="#e86827"/><circle cx="521.6" cy="350.6" r="6.2" fill="#84aa2e"/><circle cx="650.3" cy="232.1" r="6.2" fill="#cf9f26"/><circle cx="804.2" cy="470" r="6.2" fill="#285c5a"/><circle cx="779" cy="113.4" r="6.2" fill="#ec8025"/>
<circle cx="333.3" cy="232.4" r="6.2" fill="#da9a25"/><circle cx="487.2" cy="470.4" r="6.2" fill="#285e57"/><circle cx="462" cy="113.7" r="6.2" fill="#e96d27"/><circle cx="615.9" cy="351.8" r="6.2" fill="#80a92f"/><circle cx="744.8" cy="233" r="6.2" fill="#cf9f26"/><circle cx="298.6" cy="352.1" r="6.2" fill="#9dae2a"/>
<circle cx="427.4" cy="233.3" r="6.2" fill="#d59c25"/><circle cx="581.5" cy="471.7" r="6.2" fill="#296051"/><circle cx="556.3" cy="114.5" r="6.2" fill="#ea7226"/><circle cx="710.5" cy="352.9" r="6.2" fill="#7ea92f"/><circle cx="839.6" cy="234" r="6.2" fill="#d09f26"/><circle cx="392.8" cy="353.2" r="6.2" fill="#92ac2c"/>
<circle cx="521.8" cy="234.3" r="6.2" fill="#d29e26"/><circle cx="676.1" cy="472.9" r="6.2" fill="#29614f"/><circle cx="650.9" cy="115.3" r="6.2" fill="#ea7626"/><circle cx="805.3" cy="354" r="6.2" fill="#7fa92f"/><circle cx="358.1" cy="473.3" r="6.2" fill="#285c5c"/><circle cx="332.8" cy="115.5" r="6.2" fill="#e86427"/>
<circle cx="487.2" cy="354.3" r="6.2" fill="#8aab2d"/><circle cx="616.5" cy="235.2" r="6.2" fill="#d19e26"/><circle cx="771" cy="474.2" r="6.2" fill="#296051"/><circle cx="745.8" cy="116.1" r="6.2" fill="#eb7b26"/><circle cx="298.1" cy="235.6" r="6.2" fill="#de9925"/><circle cx="452.6" cy="474.6" r="6.2" fill="#295f52"/>
<circle cx="427.3" cy="116.3" r="6.2" fill="#e86927"/><circle cx="581.9" cy="355.5" r="6.2" fill="#85aa2e"/><circle cx="711.4" cy="236.2" r="6.2" fill="#d19e26"/><circle cx="866.1" cy="475.5" r="6.2" fill="#285e57"/><circle cx="840.9" cy="116.9" r="6.2" fill="#ec8325"/><circle cx="392.6" cy="236.5" r="6.2" fill="#d99b25"/>
<circle cx="547.4" cy="475.9" r="6.2" fill="#29624b"/><circle cx="522" cy="117.1" r="6.2" fill="#e96e26"/><circle cx="676.9" cy="356.6" r="6.2" fill="#83aa2e"/><circle cx="806.5" cy="237.2" r="6.2" fill="#d29e26"/><circle cx="357.8" cy="356.9" r="6.2" fill="#99ad2b"/><circle cx="487.3" cy="237.5" r="6.2" fill="#d59d26"/>
<circle cx="642.3" cy="477.2" r="6.2" fill="#296448"/><circle cx="617" cy="118" r="6.2" fill="#ea7226"/><circle cx="772.1" cy="357.7" r="6.2" fill="#83aa2e"/><circle cx="322.9" cy="477.6" r="6.2" fill="#285d59"/><circle cx="297.5" cy="118.2" r="6.2" fill="#e75f27"/><circle cx="452.6" cy="358.1" r="6.2" fill="#90ac2c"/>
<circle cx="582.4" cy="238.5" r="6.2" fill="#d39e26"/><circle cx="737.6" cy="478.4" r="6.2" fill="#296349"/><circle cx="712.2" cy="118.8" r="6.2" fill="#ea7726"/><circle cx="867.5" cy="358.8" r="6.2" fill="#85aa2e"/><circle cx="417.8" cy="478.9" r="6.2" fill="#29614f"/><circle cx="392.4" cy="119" r="6.2" fill="#e86527"/>
<circle cx="547.7" cy="359.2" r="6.2" fill="#8aab2d"/><circle cx="677.6" cy="239.4" r="6.2" fill="#d29e26"/><circle cx="833" cy="479.7" r="6.2" fill="#29614e"/><circle cx="807.7" cy="119.6" r="6.2" fill="#eb7d25"/><circle cx="357.4" cy="239.7" r="6.2" fill="#dc9a25"/><circle cx="512.9" cy="480.1" r="6.2" fill="#296446"/>
<circle cx="487.4" cy="119.8" r="6.2" fill="#e86a27"/><circle cx="643" cy="360.3" r="6.2" fill="#87ab2d"/><circle cx="773.1" cy="240.4" r="6.2" fill="#d39d26"/><circle cx="322.5" cy="360.7" r="6.2" fill="#a0af29"/><circle cx="452.6" cy="240.7" r="6.2" fill="#d89b25"/><circle cx="608.2" cy="481.4" r="6.2" fill="#2a6642"/>
<circle cx="582.8" cy="120.7" r="6.2" fill="#e96e27"/><circle cx="738.5" cy="361.4" r="6.2" fill="#87ab2d"/><circle cx="868.9" cy="241.4" r="6.2" fill="#d59d26"/><circle cx="417.6" cy="361.8" r="6.2" fill="#96ad2b"/><circle cx="548" cy="241.7" r="6.2" fill="#d59d26"/><circle cx="703.8" cy="482.7" r="6.2" fill="#2a6641"/>
<circle cx="678.4" cy="121.5" r="6.2" fill="#ea7226"/><circle cx="834.3" cy="362.6" r="6.2" fill="#89ab2d"/><circle cx="382.6" cy="483.1" r="6.2" fill="#29624c"/><circle cx="357.1" cy="121.8" r="6.2" fill="#e76127"/><circle cx="513.1" cy="362.9" r="6.2" fill="#90ac2c"/><circle cx="643.6" cy="242.7" r="6.2" fill="#d49d26"/>
<circle cx="799.7" cy="484" r="6.2" fill="#296546"/><circle cx="774.2" cy="122.3" r="6.2" fill="#ea7826"/><circle cx="322" cy="243" r="6.2" fill="#df9825"/><circle cx="478.1" cy="484.4" r="6.2" fill="#296642"/><circle cx="452.6" cy="122.6" r="6.2" fill="#e86627"/><circle cx="608.7" cy="364.1" r="6.2" fill="#8cab2d"/>
<circle cx="739.5" cy="243.6" r="6.2" fill="#d59d26"/><circle cx="895.8" cy="485.3" r="6.2" fill="#29624d"/><circle cx="870.3" cy="123.1" r="6.2" fill="#ec8125"/><circle cx="417.5" cy="244" r="6.2" fill="#db9a25"/><circle cx="573.8" cy="485.7" r="6.2" fill="#2a683c"/><circle cx="548.3" cy="123.4" r="6.2" fill="#e86a27"/>
<circle cx="704.7" cy="365.2" r="6.2" fill="#8cab2d"/><circle cx="835.6" cy="244.6" r="6.2" fill="#d69c25"/><circle cx="382.4" cy="365.6" r="6.2" fill="#9cae2a"/><circle cx="513.3" cy="245" r="6.2" fill="#d89b25"/><circle cx="669.8" cy="487" r="6.2" fill="#2a693a"/><circle cx="644.2" cy="124.2" r="6.2" fill="#e96e27"/>
<circle cx="800.9" cy="366.4" r="6.2" fill="#8dac2c"/><circle cx="347.2" cy="487.5" r="6.2" fill="#29634a"/><circle cx="321.5" cy="124.5" r="6.2" fill="#e75d28"/><circle cx="478.2" cy="366.7" r="6.2" fill="#95ad2b"/><circle cx="609.3" cy="245.9" r="6.2" fill="#d79c25"/><circle cx="766" cy="488.3" r="6.2" fill="#2a683d"/>
<circle cx="740.4" cy="125" r="6.2" fill="#ea7326"/><circle cx="897.3" cy="367.5" r="6.2" fill="#90ac2c"/><circle cx="443.1" cy="488.8" r="6.2" fill="#2a673e"/><circle cx="417.4" cy="125.3" r="6.2" fill="#e76227"/><circle cx="574.2" cy="367.9" r="6.2" fill="#91ac2c"/><circle cx="705.5" cy="246.9" r="6.2" fill="#d79c25"/>
<circle cx="862.5" cy="489.6" r="6.2" fill="#296544"/><circle cx="836.9" cy="125.9" r="6.2" fill="#eb7a26"/><circle cx="382.1" cy="247.3" r="6.2" fill="#de9925"/><circle cx="539.1" cy="490.1" r="6.2" fill="#2a6b38"/><circle cx="513.5" cy="126.2" r="6.2" fill="#e86627"/><circle cx="670.5" cy="369" r="6.2" fill="#90ac2c"/>
<circle cx="802" cy="247.9" r="6.2" fill="#d89b25"/><circle cx="346.8" cy="369.4" r="6.2" fill="#a3af29"/><circle cx="478.3" cy="248.2" r="6.2" fill="#da9a25"/><circle cx="635.5" cy="491.4" r="6.2" fill="#2b6c38"/><circle cx="609.8" cy="127" r="6.2" fill="#e86927"/><circle cx="767.1" cy="370.2" r="6.2" fill="#91ac2c"/>
<circle cx="898.8" cy="248.9" r="6.2" fill="#d99b25"/><circle cx="443" cy="370.6" r="6.2" fill="#9bae2a"/><circle cx="574.6" cy="249.2" r="6.2" fill="#d99b25"/><circle cx="732.1" cy="492.7" r="6.2" fill="#2b6b38"/><circle cx="706.4" cy="127.8" r="6.2" fill="#e96e27"/><circle cx="863.9" cy="371.3" r="6.2" fill="#94ad2b"/>
<circle cx="407.7" cy="493.1" r="6.2" fill="#2a693b"/><circle cx="381.9" cy="128.1" r="6.2" fill="#e75e28"/><circle cx="539.4" cy="371.7" r="6.2" fill="#96ad2b"/><circle cx="671.3" cy="250.2" r="6.2" fill="#d99b25"/><circle cx="828.9" cy="494" r="6.2" fill="#2a693b"/><circle cx="803.2" cy="128.7" r="6.2" fill="#ea7426"/>
<circle cx="346.4" cy="250.6" r="6.2" fill="#e19725"/><circle cx="504.1" cy="494.5" r="6.2" fill="#2b6d38"/><circle cx="478.3" cy="128.9" r="6.2" fill="#e76227"/><circle cx="636.1" cy="372.9" r="6.2" fill="#94ad2b"/><circle cx="768.2" cy="251.2" r="6.2" fill="#da9b25"/><circle cx="900.3" cy="129.5" r="6.2" fill="#eb7e25"/>
<circle cx="442.9" cy="251.6" r="6.2" fill="#dd9925"/><circle cx="600.9" cy="495.8" r="6.2" fill="#2c6f38"/><circle cx="575" cy="129.8" r="6.2" fill="#e86527"/><circle cx="733" cy="374.1" r="6.2" fill="#95ad2b"/><circle cx="865.3" cy="252.2" r="6.2" fill="#db9a25"/><circle cx="407.5" cy="374.4" r="6.2" fill="#a1af29"/>
<circle cx="539.7" cy="252.6" r="6.2" fill="#db9a25"/><circle cx="697.8" cy="497.1" r="6.2" fill="#2c6f38"/><circle cx="672" cy="130.6" r="6.2" fill="#e86927"/><circle cx="830.2" cy="375.2" r="6.2" fill="#98ad2b"/><circle cx="372" cy="497.6" r="6.2" fill="#2a6a39"/><circle cx="346.1" cy="130.9" r="6.2" fill="#e65a28"/>
<circle cx="504.3" cy="375.6" r="6.2" fill="#9bae2a"/><circle cx="636.7" cy="253.6" r="6.2" fill="#db9a25"/><circle cx="795.1" cy="498.4" r="6.2" fill="#2b6c38"/><circle cx="769.2" cy="131.5" r="6.2" fill="#e96e26"/><circle cx="468.8" cy="498.9" r="6.2" fill="#2c6f38"/><circle cx="442.9" cy="131.7" r="6.2" fill="#e75e28"/>
<circle cx="601.4" cy="376.8" r="6.2" fill="#99ad2b"/><circle cx="734" cy="254.6" r="6.2" fill="#dc9a25"/><circle cx="866.7" cy="132.3" r="6.2" fill="#ea7726"/><circle cx="407.3" cy="254.9" r="6.2" fill="#e09825"/><circle cx="565.9" cy="500.2" r="6.2" fill="#2e7138"/><circle cx="540" cy="132.6" r="6.2" fill="#e76127"/>
<circle cx="698.7" cy="377.9" r="6.2" fill="#99ae2a"/><circle cx="831.5" cy="255.6" r="6.2" fill="#dd9925"/><circle cx="371.7" cy="378.3" r="6.2" fill="#a7b028"/><circle cx="504.5" cy="255.9" r="6.2" fill="#de9925"/><circle cx="663.3" cy="501.5" r="6.2" fill="#2e7238"/><circle cx="637.3" cy="133.4" r="6.2" fill="#e86427"/>
<circle cx="796.3" cy="379.1" r="6.2" fill="#9cae2a"/><circle cx="468.9" cy="379.5" r="6.2" fill="#a1af29"/><circle cx="601.9" cy="256.9" r="6.2" fill="#dd9925"/><circle cx="760.9" cy="502.9" r="6.2" fill="#2d7038"/><circle cx="734.9" cy="134.3" r="6.2" fill="#e86927"/><circle cx="433.2" cy="503.3" r="6.2" fill="#2d7038"/>
<circle cx="407.1" cy="134.6" r="6.2" fill="#e65a28"/><circle cx="566.3" cy="380.7" r="6.2" fill="#9eae2a"/><circle cx="699.5" cy="258" r="6.2" fill="#de9925"/><circle cx="832.8" cy="135.1" r="6.2" fill="#e97026"/><circle cx="371.4" cy="258.3" r="6.2" fill="#e49625"/><circle cx="530.7" cy="504.7" r="6.2" fill="#2f7438"/>
<circle cx="504.6" cy="135.4" r="6.2" fill="#e75d28"/><circle cx="664" cy="381.9" r="6.2" fill="#9eae2a"/><circle cx="797.4" cy="259" r="6.2" fill="#df9825"/><circle cx="468.9" cy="259.3" r="6.2" fill="#e19825"/><circle cx="628.4" cy="506" r="6.2" fill="#307538"/><circle cx="602.4" cy="136.3" r="6.2" fill="#e76027"/>
<circle cx="762" cy="383.1" r="6.2" fill="#a0af29"/><circle cx="433.1" cy="383.5" r="6.2" fill="#a6b028"/><circle cx="566.7" cy="260.3" r="6.2" fill="#df9825"/><circle cx="726.5" cy="507.4" r="6.2" fill="#2f7438"/><circle cx="700.3" cy="137.1" r="6.2" fill="#e86327"/><circle cx="397.3" cy="507.8" r="6.2" fill="#2e7138"/>
<circle cx="371.1" cy="137.4" r="6.2" fill="#e65528"/><circle cx="530.9" cy="384.6" r="6.2" fill="#a2af29"/><circle cx="664.7" cy="261.4" r="6.2" fill="#e09825"/><circle cx="798.6" cy="138" r="6.2" fill="#e86927"/><circle cx="495.1" cy="509.2" r="6.2" fill="#307638"/><circle cx="468.9" cy="138.3" r="6.2" fill="#e65928"/>
<circle cx="629" cy="385.8" r="6.2" fill="#a2af29"/><circle cx="763" cy="262.4" r="6.2" fill="#e19725"/><circle cx="433" cy="262.7" r="6.2" fill="#e49625"/><circle cx="593.3" cy="510.6" r="6.2" fill="#317838"/><circle cx="567.1" cy="139.2" r="6.2" fill="#e65b28"/><circle cx="727.4" cy="387" r="6.2" fill="#a4af29"/>
<circle cx="397" cy="387.4" r="6.2" fill="#aaaf28"/><circle cx="531.2" cy="263.8" r="6.2" fill="#e29725"/><circle cx="691.7" cy="511.9" r="6.2" fill="#317738"/><circle cx="665.5" cy="140" r="6.2" fill="#e75e28"/><circle cx="495.3" cy="388.6" r="6.2" fill="#a7b028"/><circle cx="629.6" cy="264.8" r="6.2" fill="#e29725"/>
<circle cx="764.1" cy="140.9" r="6.2" fill="#e86327"/><circle cx="459.3" cy="513.8" r="6.2" fill="#317838"/><circle cx="432.9" cy="141.2" r="6.2" fill="#e65428"/><circle cx="593.7" cy="389.8" r="6.2" fill="#a6b028"/><circle cx="728.3" cy="265.8" r="6.2" fill="#e39725"/><circle cx="396.8" cy="266.2" r="6.2" fill="#e79524"/>
<circle cx="557.8" cy="515.1" r="6.2" fill="#327b38"/><circle cx="531.5" cy="142.1" r="6.2" fill="#e65728"/><circle cx="692.5" cy="391" r="6.2" fill="#a8b028"/><circle cx="495.4" cy="267.2" r="6.2" fill="#e59625"/><circle cx="656.6" cy="516.5" r="6.2" fill="#337b38"/><circle cx="630.2" cy="142.9" r="6.2" fill="#e65a28"/>
<circle cx="459.3" cy="392.7" r="6.2" fill="#aaaf28"/><circle cx="594.2" cy="268.3" r="6.2" fill="#e49625"/><circle cx="729.3" cy="143.8" r="6.2" fill="#e75d28"/><circle cx="423.1" cy="518.3" r="6.2" fill="#327a38"/><circle cx="396.6" cy="144.1" r="6.2" fill="#e54f28"/><circle cx="558.1" cy="393.9" r="6.2" fill="#a9b028"/>
<circle cx="693.3" cy="269.3" r="6.2" fill="#e59625"/><circle cx="522" cy="519.7" r="6.2" fill="#347e38"/><circle cx="495.5" cy="145" r="6.2" fill="#e55128"/><circle cx="657.3" cy="395.1" r="6.2" fill="#aaaf28"/><circle cx="459.3" cy="270.7" r="6.2" fill="#e79524"/><circle cx="621.2" cy="521.1" r="6.2" fill="#347f38"/>
<circle cx="594.7" cy="145.9" r="6.2" fill="#e65428"/><circle cx="422.9" cy="396.7" r="6.2" fill="#acae28"/><circle cx="558.5" cy="271.8" r="6.2" fill="#e79524"/><circle cx="694.2" cy="146.7" r="6.2" fill="#e65828"/><circle cx="522.2" cy="398" r="6.2" fill="#abaf28"/><circle cx="658" cy="272.8" r="6.2" fill="#e89524"/>
<circle cx="485.9" cy="524.4" r="6.2" fill="#358038"/><circle cx="459.3" cy="147.9" r="6.2" fill="#e54c28"/><circle cx="621.8" cy="399.2" r="6.2" fill="#abaf28"/><circle cx="422.8" cy="274.3" r="6.2" fill="#ea9424"/><circle cx="585.5" cy="525.8" r="6.2" fill="#368238"/><circle cx="558.9" cy="148.8" r="6.2" fill="#e54e28"/>
<circle cx="522.4" cy="275.3" r="6.2" fill="#e99424"/><circle cx="658.7" cy="149.7" r="6.2" fill="#e55128"/><circle cx="486" cy="402.1" r="6.2" fill="#adae28"/><circle cx="622.3" cy="276.4" r="6.2" fill="#ea9424"/><circle cx="449.4" cy="529.1" r="6.2" fill="#368338"/><circle cx="422.7" cy="150.9" r="6.2" fill="#e44728"/>
<circle cx="585.9" cy="403.3" r="6.2" fill="#adae28"/><circle cx="549.4" cy="530.5" r="6.2" fill="#388538"/><circle cx="522.7" cy="151.8" r="6.2" fill="#e44828"/><circle cx="486.1" cy="278.9" r="6.2" fill="#ec9324"/><circle cx="622.9" cy="152.7" r="6.2" fill="#e54a28"/><circle cx="449.4" cy="406.2" r="6.2" fill="#afad28"/>
<circle cx="586.4" cy="280" r="6.2" fill="#ec9324"/><circle cx="549.7" cy="407.5" r="6.2" fill="#afad28"/><circle cx="513" cy="535.2" r="6.2" fill="#398938"/><circle cx="486.2" cy="154.8" r="6.2" fill="#e44328"/><circle cx="449.3" cy="282.5" r="6.2" fill="#ee9124"/><circle cx="586.8" cy="155.7" r="6.2" fill="#e44428"/>
<circle cx="550.1" cy="283.6" r="6.2" fill="#ee9224"/><circle cx="513.2" cy="411.7" r="6.2" fill="#b0ac28"/><circle cx="476.3" cy="540" r="6.2" fill="#3b8b38"/><circle cx="449.3" cy="157.9" r="6.2" fill="#e33f28"/><circle cx="550.4" cy="158.8" r="6.2" fill="#e33e28"/><circle cx="513.4" cy="287.2" r="6.2" fill="#ed8e24"/>
<circle cx="476.4" cy="415.9" r="6.2" fill="#b2ac27"/><circle cx="513.6" cy="161.9" r="6.2" fill="#e33928"/><circle cx="476.4" cy="290.9" r="6.2" fill="#ed8a25"/><circle cx="476.5" cy="165" r="6.2" fill="#e23528"/>
</g>
<text class="t" x="197.8" y="132" text-anchor="end">0.175</text>
<text class="t" x="197.8" y="180.8" text-anchor="end">0.150</text>
<text class="t" x="197.8" y="230.1" text-anchor="end">0.125</text>
<text class="t" x="197.8" y="278.5" text-anchor="end">0.100</text>
<text class="t" x="197.8" y="327.4" text-anchor="end">0.075</text>
<text class="t" x="197.8" y="375.7" text-anchor="end">0.050</text>
<text class="t" x="197.8" y="424.1" text-anchor="end">0.025</text>
<text class="t" x="197.8" y="472.4" text-anchor="end">0</text>
<text class="t" x="146.7" y="517.8">3.6</text>
<text class="t" x="190.7" y="558.1">3.8</text>
<text class="t" x="256.7" y="577.3">4.0</text>
<text class="t" x="321.7" y="599.3">4.2</text>
<text class="t" x="380.2" y="632.2">4.4</text>
<text class="t" x="509.8" y="626.1">6.6</text>
<text class="t" x="586.5" y="617">6.4</text>
<text class="t" x="670.2" y="604.9">6.2</text>
<text class="t" x="749" y="595.8">6.0</text>
<text class="t" x="828.7" y="587.1">5.8</text>
<text class="t" x="912.5" y="574.7">5.6</text>
<text class="t" transform="translate(51.9,361) rotate(-90)"><tspan class="i">w</tspan><tspan class="s i" dy="12">O</tspan><tspan dy="-12">/</tspan><tspan class="i q">%</tspan></text>
<text class="t" transform="translate(149.5,604.5) rotate(26)"><tspan class="i">w</tspan><tspan class="s" dy="12">V</tspan><tspan dy="-12">/</tspan><tspan class="i q">%</tspan></text>
<text class="t" transform="translate(675.5,679) rotate(-10)"><tspan class="i">w</tspan><tspan class="s" dy="12">Al</tspan><tspan dy="-12">/</tspan><tspan class="i q">%</tspan></text>
</g>
<rect x="2084.2" y="883.1" width="40" height="316" fill="url(#cb)" stroke="#3a3a3a" stroke-width="1"/>
<path d="M2124.2 1170.4h4M2124.2 1112.9h4M2124.2 1055.5h4M2124.2 998h4M2124.2 940.6h4" stroke="#3a3a3a" stroke-width="1.5"/>
<text class="c" x="2143.4" y="901.2">1100</text>
<text class="c" x="2143.4" y="957.2">1000</text>
<text class="c" x="2143.4" y="1014.8">900</text>
<text class="c" x="2143.4" y="1072.3">800</text>
<text class="c" x="2143.4" y="1129.1">700</text>
<text class="c" x="2143.4" y="1186.5">600</text>
<text class="c" x="2084.3" y="844">YS/MPa</text>
<text class="p" x="1194.9" y="764.6">(e)</text>
<g transform="translate(2235.4,714)">
<use href="#box"/>
<g class="d">
<circle cx="648.4" cy="403.3" r="6.2" fill="#2a4195"/><circle cx="649" cy="295" r="6.2" fill="#78a830"/><circle cx="616.9" cy="406.9" r="6.2" fill="#2a468f"/><circle cx="649.6" cy="186" r="6.2" fill="#d09f26"/><circle cx="617.4" cy="298.2" r="6.2" fill="#7ca92f"/><circle cx="585.1" cy="410.6" r="6.2" fill="#2a4b86"/>
<circle cx="673.8" cy="411.7" r="6.2" fill="#2a4491"/><circle cx="650.2" cy="76.4" r="6.2" fill="#ec8125"/><circle cx="617.9" cy="188.8" r="6.2" fill="#d29e26"/><circle cx="585.5" cy="301.5" r="6.2" fill="#80a92f"/><circle cx="553.1" cy="414.3" r="6.2" fill="#295276"/><circle cx="674.5" cy="302.4" r="6.2" fill="#7da92f"/>
<circle cx="642.1" cy="415.4" r="6.2" fill="#2a498b"/><circle cx="618.4" cy="78.8" r="6.2" fill="#eb7c26"/><circle cx="585.9" cy="191.6" r="6.2" fill="#d49d26"/><circle cx="553.4" cy="304.7" r="6.2" fill="#84aa2e"/><circle cx="675.2" cy="192.5" r="6.2" fill="#d49d26"/><circle cx="520.8" cy="418" r="6.2" fill="#285768"/>
<circle cx="642.7" cy="305.7" r="6.2" fill="#80a92f"/><circle cx="610.2" cy="419.2" r="6.2" fill="#294f7c"/><circle cx="586.3" cy="81.1" r="6.2" fill="#ea7626"/><circle cx="553.7" cy="194.5" r="6.2" fill="#d79c25"/><circle cx="699.8" cy="420.3" r="6.2" fill="#2a488c"/><circle cx="675.9" cy="81.9" r="6.2" fill="#eb7c26"/>
<circle cx="521" cy="308" r="6.2" fill="#88ab2d"/><circle cx="643.3" cy="195.3" r="6.2" fill="#d59c25"/><circle cx="488.3" cy="421.8" r="6.2" fill="#285c5c"/><circle cx="610.7" cy="309" r="6.2" fill="#84aa2e"/><circle cx="578" cy="422.9" r="6.2" fill="#29556c"/><circle cx="554" cy="83.5" r="6.2" fill="#e97126"/>
<circle cx="700.5" cy="310" r="6.2" fill="#83aa2e"/><circle cx="521.2" cy="197.4" r="6.2" fill="#d99b25"/><circle cx="667.9" cy="424.1" r="6.2" fill="#2a4e80"/><circle cx="643.9" cy="84.3" r="6.2" fill="#ea7726"/><circle cx="488.4" cy="311.4" r="6.2" fill="#8cab2d"/><circle cx="611.2" cy="198.2" r="6.2" fill="#d79c25"/>
<circle cx="455.5" cy="425.6" r="6.2" fill="#296052"/><circle cx="578.4" cy="312.4" r="6.2" fill="#87aa2e"/><circle cx="701.3" cy="199.1" r="6.2" fill="#d79c25"/><circle cx="545.5" cy="426.8" r="6.2" fill="#285a5f"/><circle cx="521.4" cy="86" r="6.2" fill="#e96c27"/><circle cx="668.5" cy="313.4" r="6.2" fill="#85aa2e"/>
<circle cx="488.5" cy="200.2" r="6.2" fill="#db9a25"/><circle cx="635.7" cy="427.9" r="6.2" fill="#295470"/><circle cx="611.7" cy="86.7" r="6.2" fill="#ea7226"/><circle cx="455.5" cy="314.7" r="6.2" fill="#90ac2c"/><circle cx="578.8" cy="201.1" r="6.2" fill="#d99b25"/><circle cx="726.2" cy="429.1" r="6.2" fill="#2a4d81"/>
<circle cx="702.1" cy="87.4" r="6.2" fill="#ea7626"/><circle cx="422.4" cy="429.4" r="6.2" fill="#29634a"/><circle cx="545.8" cy="315.7" r="6.2" fill="#8aab2d"/><circle cx="669.2" cy="202" r="6.2" fill="#d89b25"/><circle cx="512.8" cy="430.6" r="6.2" fill="#295f54"/><circle cx="488.6" cy="88.4" r="6.2" fill="#e86727"/>
<circle cx="636.3" cy="316.8" r="6.2" fill="#88ab2d"/><circle cx="455.5" cy="203.2" r="6.2" fill="#de9925"/><circle cx="603.3" cy="431.8" r="6.2" fill="#285a61"/><circle cx="579.1" cy="89.1" r="6.2" fill="#e96d27"/><circle cx="727" cy="317.8" r="6.2" fill="#88ab2d"/><circle cx="422.3" cy="318.1" r="6.2" fill="#94ad2b"/>
<circle cx="546.1" cy="204" r="6.2" fill="#db9a25"/><circle cx="694.1" cy="432.9" r="6.2" fill="#295471"/><circle cx="669.9" cy="89.9" r="6.2" fill="#ea7226"/><circle cx="389.1" cy="433.3" r="6.2" fill="#296544"/><circle cx="512.9" cy="319.1" r="6.2" fill="#8eac2c"/><circle cx="636.9" cy="204.9" r="6.2" fill="#da9b25"/>
<circle cx="479.8" cy="434.5" r="6.2" fill="#29624b"/><circle cx="455.5" cy="90.9" r="6.2" fill="#e76227"/><circle cx="603.8" cy="320.2" r="6.2" fill="#8bab2d"/><circle cx="727.9" cy="205.8" r="6.2" fill="#da9a25"/><circle cx="422.2" cy="206.1" r="6.2" fill="#e09825"/><circle cx="570.6" cy="435.6" r="6.2" fill="#295e55"/>
<circle cx="546.4" cy="91.6" r="6.2" fill="#e86927"/><circle cx="694.9" cy="321.2" r="6.2" fill="#8aab2d"/><circle cx="388.9" cy="321.5" r="6.2" fill="#99ad2b"/><circle cx="513.1" cy="207" r="6.2" fill="#dd9925"/><circle cx="661.8" cy="436.8" r="6.2" fill="#285962"/><circle cx="637.5" cy="92.3" r="6.2" fill="#e96e27"/>
<circle cx="355.5" cy="437.2" r="6.2" fill="#2a673f"/><circle cx="479.8" cy="322.6" r="6.2" fill="#92ac2c"/><circle cx="604.3" cy="207.9" r="6.2" fill="#db9a25"/><circle cx="753.1" cy="438" r="6.2" fill="#29546f"/><circle cx="728.8" cy="93.1" r="6.2" fill="#e97126"/><circle cx="446.5" cy="438.4" r="6.2" fill="#296643"/>
<circle cx="422.1" cy="93.3" r="6.2" fill="#e75e28"/><circle cx="571" cy="323.6" r="6.2" fill="#8eac2c"/><circle cx="695.6" cy="208.8" r="6.2" fill="#dc9a25"/><circle cx="388.6" cy="209.1" r="6.2" fill="#e29725"/><circle cx="537.7" cy="439.5" r="6.2" fill="#29624b"/><circle cx="513.3" cy="94.1" r="6.2" fill="#e86427"/>
<circle cx="662.4" cy="324.6" r="6.2" fill="#8dab2d"/><circle cx="355.1" cy="325" r="6.2" fill="#9dae2a"/><circle cx="479.9" cy="209.9" r="6.2" fill="#df9825"/><circle cx="629.1" cy="440.7" r="6.2" fill="#295e55"/><circle cx="604.7" cy="94.8" r="6.2" fill="#e86927"/><circle cx="754.1" cy="325.7" r="6.2" fill="#8dac2c"/>
<circle cx="321.6" cy="441.1" r="6.2" fill="#2a693c"/><circle cx="446.4" cy="326" r="6.2" fill="#96ad2b"/><circle cx="571.4" cy="210.8" r="6.2" fill="#dd9925"/><circle cx="720.8" cy="441.9" r="6.2" fill="#285a60"/><circle cx="696.4" cy="95.6" r="6.2" fill="#e96d27"/><circle cx="412.9" cy="442.3" r="6.2" fill="#2a683d"/>
<circle cx="388.4" cy="95.8" r="6.2" fill="#e65928"/><circle cx="537.9" cy="327.1" r="6.2" fill="#92ac2c"/><circle cx="663.1" cy="211.7" r="6.2" fill="#dd9925"/><circle cx="354.8" cy="212" r="6.2" fill="#e49625"/><circle cx="504.5" cy="443.5" r="6.2" fill="#296642"/><circle cx="480" cy="96.6" r="6.2" fill="#e76027"/>
<circle cx="629.7" cy="328.1" r="6.2" fill="#8fac2c"/><circle cx="755" cy="212.6" r="6.2" fill="#de9925"/><circle cx="321.1" cy="328.5" r="6.2" fill="#a2af29"/><circle cx="446.4" cy="212.9" r="6.2" fill="#e19725"/><circle cx="596.3" cy="444.7" r="6.2" fill="#29634a"/><circle cx="571.7" cy="97.3" r="6.2" fill="#e86527"/>
<circle cx="721.7" cy="329.2" r="6.2" fill="#8fac2c"/><circle cx="287.4" cy="445.1" r="6.2" fill="#2a693a"/><circle cx="412.8" cy="329.5" r="6.2" fill="#9aae2a"/><circle cx="538.2" cy="213.8" r="6.2" fill="#df9825"/><circle cx="688.3" cy="445.9" r="6.2" fill="#295f53"/><circle cx="663.8" cy="98.1" r="6.2" fill="#e86927"/>
<circle cx="379.1" cy="446.3" r="6.2" fill="#2a6a38"/><circle cx="354.5" cy="98.4" r="6.2" fill="#e65328"/><circle cx="504.6" cy="330.6" r="6.2" fill="#95ad2b"/><circle cx="630.3" cy="214.7" r="6.2" fill="#de9925"/><circle cx="780.5" cy="447.1" r="6.2" fill="#285c5b"/><circle cx="756" cy="98.9" r="6.2" fill="#e96c27"/>
<circle cx="320.7" cy="215" r="6.2" fill="#e79524"/><circle cx="471" cy="447.5" r="6.2" fill="#2a693b"/><circle cx="446.4" cy="99.1" r="6.2" fill="#e65b28"/><circle cx="596.7" cy="331.6" r="6.2" fill="#92ac2c"/><circle cx="722.5" cy="215.7" r="6.2" fill="#df9825"/><circle cx="286.8" cy="332" r="6.2" fill="#a6b028"/>
<circle cx="412.6" cy="216" r="6.2" fill="#e39725"/><circle cx="563.1" cy="448.7" r="6.2" fill="#2a6740"/><circle cx="538.5" cy="99.9" r="6.2" fill="#e76127"/><circle cx="689" cy="332.7" r="6.2" fill="#92ac2c"/><circle cx="252.9" cy="449.1" r="6.2" fill="#2a693a"/><circle cx="378.8" cy="333" r="6.2" fill="#9fae2a"/>
<circle cx="504.8" cy="216.9" r="6.2" fill="#e19825"/><circle cx="655.5" cy="449.9" r="6.2" fill="#296448"/><circle cx="630.8" cy="100.6" r="6.2" fill="#e86527"/><circle cx="781.6" cy="333.7" r="6.2" fill="#93ac2c"/><circle cx="344.9" cy="450.3" r="6.2" fill="#2b6b38"/><circle cx="320.2" cy="100.9" r="6.2" fill="#e54d28"/>
<circle cx="471" cy="334.1" r="6.2" fill="#99ae2a"/><circle cx="597.2" cy="217.8" r="6.2" fill="#e09825"/><circle cx="748.1" cy="451.1" r="6.2" fill="#29614f"/><circle cx="723.4" cy="101.4" r="6.2" fill="#e86827"/><circle cx="286.3" cy="218.1" r="6.2" fill="#e99424"/><circle cx="437.2" cy="451.5" r="6.2" fill="#2b6c38"/>
<circle cx="412.5" cy="101.7" r="6.2" fill="#e65728"/><circle cx="563.4" cy="335.1" r="6.2" fill="#96ad2b"/><circle cx="689.8" cy="218.7" r="6.2" fill="#e09825"/><circle cx="252.2" cy="335.5" r="6.2" fill="#a9af28"/><circle cx="378.5" cy="219" r="6.2" fill="#e59625"/><circle cx="529.7" cy="452.7" r="6.2" fill="#2a6a38"/>
<circle cx="504.9" cy="102.4" r="6.2" fill="#e75d28"/><circle cx="656.1" cy="336.2" r="6.2" fill="#94ad2b"/><circle cx="782.7" cy="219.6" r="6.2" fill="#e19825"/><circle cx="344.6" cy="336.6" r="6.2" fill="#a4af29"/><circle cx="471" cy="219.9" r="6.2" fill="#e39725"/><circle cx="622.4" cy="453.9" r="6.2" fill="#2a683d"/>
<circle cx="597.6" cy="103.2" r="6.2" fill="#e76127"/><circle cx="749" cy="337.3" r="6.2" fill="#95ad2b"/><circle cx="310.5" cy="454.3" r="6.2" fill="#2b6c38"/><circle cx="285.7" cy="103.5" r="6.2" fill="#e44728"/><circle cx="437.1" cy="337.6" r="6.2" fill="#9dae2a"/><circle cx="563.8" cy="220.8" r="6.2" fill="#e19725"/>
<circle cx="715.3" cy="455.1" r="6.2" fill="#296643"/><circle cx="690.6" cy="104" r="6.2" fill="#e86427"/><circle cx="251.6" cy="221.1" r="6.2" fill="#ec9324"/><circle cx="403.1" cy="455.5" r="6.2" fill="#2c6e38"/><circle cx="378.3" cy="104.2" r="6.2" fill="#e55028"/><circle cx="529.9" cy="338.7" r="6.2" fill="#99ae2a"/>
<circle cx="656.8" cy="221.8" r="6.2" fill="#e19725"/><circle cx="808.5" cy="456.4" r="6.2" fill="#296448"/><circle cx="783.7" cy="104.7" r="6.2" fill="#e86727"/><circle cx="344.2" cy="222.1" r="6.2" fill="#e89524"/><circle cx="495.9" cy="456.8" r="6.2" fill="#2c6d38"/><circle cx="471.1" cy="105" r="6.2" fill="#e65928"/>
<circle cx="622.9" cy="339.8" r="6.2" fill="#97ad2b"/><circle cx="750" cy="222.7" r="6.2" fill="#e29725"/><circle cx="310" cy="340.1" r="6.2" fill="#a8b028"/><circle cx="437" cy="223" r="6.2" fill="#e59625"/><circle cx="589" cy="458" r="6.2" fill="#2b6c38"/><circle cx="564.1" cy="105.8" r="6.2" fill="#e75d28"/>
<circle cx="716.2" cy="340.8" r="6.2" fill="#97ad2b"/><circle cx="275.8" cy="458.4" r="6.2" fill="#2b6c38"/><circle cx="250.9" cy="106" r="6.2" fill="#e44128"/><circle cx="402.9" cy="341.2" r="6.2" fill="#a2af29"/><circle cx="530.1" cy="223.9" r="6.2" fill="#e39725"/><circle cx="682.3" cy="459.2" r="6.2" fill="#2a6a38"/>
<circle cx="657.4" cy="106.6" r="6.2" fill="#e76127"/><circle cx="809.7" cy="341.9" r="6.2" fill="#98ad2b"/><circle cx="368.7" cy="459.6" r="6.2" fill="#2d6f38"/><circle cx="343.8" cy="106.8" r="6.2" fill="#e54a28"/><circle cx="496.1" cy="342.3" r="6.2" fill="#9dae2a"/><circle cx="623.5" cy="224.9" r="6.2" fill="#e39725"/>
<circle cx="775.8" cy="460.4" r="6.2" fill="#2a683c"/><circle cx="750.9" cy="107.3" r="6.2" fill="#e86327"/><circle cx="309.5" cy="225.2" r="6.2" fill="#ea9424"/><circle cx="461.9" cy="460.9" r="6.2" fill="#2d7038"/><circle cx="437" cy="107.6" r="6.2" fill="#e55328"/><circle cx="589.4" cy="343.4" r="6.2" fill="#9bae2a"/>
<circle cx="717" cy="225.8" r="6.2" fill="#e39725"/><circle cx="275.2" cy="343.7" r="6.2" fill="#aaaf28"/><circle cx="402.7" cy="226.1" r="6.2" fill="#e79524"/><circle cx="555.3" cy="462.1" r="6.2" fill="#2d6f38"/><circle cx="530.4" cy="108.4" r="6.2" fill="#e65928"/><circle cx="683" cy="344.4" r="6.2" fill="#9aae2a"/>
<circle cx="810.8" cy="226.7" r="6.2" fill="#e49625"/><circle cx="368.4" cy="344.8" r="6.2" fill="#a7b028"/><circle cx="496.2" cy="227" r="6.2" fill="#e59625"/><circle cx="649" cy="463.3" r="6.2" fill="#2c6e38"/><circle cx="624" cy="109.2" r="6.2" fill="#e75d28"/><circle cx="776.9" cy="345.5" r="6.2" fill="#9aae2a"/>
<circle cx="334.1" cy="463.7" r="6.2" fill="#2d7038"/><circle cx="309" cy="109.4" r="6.2" fill="#e44428"/><circle cx="461.9" cy="345.9" r="6.2" fill="#a2af29"/><circle cx="589.9" cy="228" r="6.2" fill="#e49625"/><circle cx="742.9" cy="464.6" r="6.2" fill="#2b6d38"/><circle cx="717.9" cy="110" r="6.2" fill="#e76027"/>
<circle cx="274.6" cy="228.3" r="6.2" fill="#ec9324"/><circle cx="427.6" cy="465" r="6.2" fill="#2e7238"/><circle cx="402.5" cy="110.2" r="6.2" fill="#e54d28"/><circle cx="555.7" cy="347" r="6.2" fill="#9fae2a"/><circle cx="683.8" cy="228.9" r="6.2" fill="#e49625"/><circle cx="837" cy="465.8" r="6.2" fill="#2b6d38"/>
<circle cx="812" cy="110.8" r="6.2" fill="#e86327"/><circle cx="368.1" cy="229.2" r="6.2" fill="#e99424"/><circle cx="521.4" cy="466.2" r="6.2" fill="#2e7238"/><circle cx="496.3" cy="111" r="6.2" fill="#e65428"/><circle cx="649.6" cy="348.1" r="6.2" fill="#9dae2a"/><circle cx="778" cy="229.9" r="6.2" fill="#e59625"/>
<circle cx="333.7" cy="348.4" r="6.2" fill="#aaaf28"/><circle cx="461.9" cy="230.2" r="6.2" fill="#e79524"/><circle cx="615.4" cy="467.5" r="6.2" fill="#2e7238"/><circle cx="590.3" cy="111.8" r="6.2" fill="#e65928"/><circle cx="743.8" cy="349.2" r="6.2" fill="#9dae2a"/><circle cx="299.1" cy="467.9" r="6.2" fill="#2d7038"/>
<circle cx="274" cy="112.1" r="6.2" fill="#e33e28"/><circle cx="427.5" cy="349.5" r="6.2" fill="#a6b028"/><circle cx="556" cy="231.1" r="6.2" fill="#e69524"/><circle cx="709.7" cy="468.7" r="6.2" fill="#2e7138"/><circle cx="684.5" cy="112.6" r="6.2" fill="#e75c28"/><circle cx="838.3" cy="350.3" r="6.2" fill="#9dae2a"/>
<circle cx="393" cy="469.1" r="6.2" fill="#2f7438"/><circle cx="367.8" cy="112.9" r="6.2" fill="#e44728"/><circle cx="521.6" cy="350.6" r="6.2" fill="#a3af29"/><circle cx="650.3" cy="232.1" r="6.2" fill="#e69524"/><circle cx="804.2" cy="470" r="6.2" fill="#2e7138"/><circle cx="779" cy="113.4" r="6.2" fill="#e75f28"/>
<circle cx="333.3" cy="232.4" r="6.2" fill="#eb9324"/><circle cx="487.2" cy="470.4" r="6.2" fill="#307538"/><circle cx="462" cy="113.7" r="6.2" fill="#e54e28"/><circle cx="615.9" cy="351.8" r="6.2" fill="#a1af29"/><circle cx="744.8" cy="233" r="6.2" fill="#e79524"/><circle cx="298.6" cy="352.1" r="6.2" fill="#acae28"/>
<circle cx="427.4" cy="233.3" r="6.2" fill="#e99424"/><circle cx="581.5" cy="471.7" r="6.2" fill="#307538"/><circle cx="556.3" cy="114.5" r="6.2" fill="#e65428"/><circle cx="710.5" cy="352.9" r="6.2" fill="#a0af29"/><circle cx="839.6" cy="234" r="6.2" fill="#e79524"/><circle cx="392.8" cy="353.2" r="6.2" fill="#a9af28"/>
<circle cx="521.8" cy="234.3" r="6.2" fill="#e89524"/><circle cx="676.1" cy="472.9" r="6.2" fill="#307538"/><circle cx="650.9" cy="115.3" r="6.2" fill="#e65828"/><circle cx="805.3" cy="354" r="6.2" fill="#a0af29"/><circle cx="358.1" cy="473.3" r="6.2" fill="#2f7538"/><circle cx="332.8" cy="115.5" r="6.2" fill="#e44128"/>
<circle cx="487.2" cy="354.3" r="6.2" fill="#a7b028"/><circle cx="616.5" cy="235.2" r="6.2" fill="#e79524"/><circle cx="771" cy="474.2" r="6.2" fill="#307538"/><circle cx="745.8" cy="116.1" r="6.2" fill="#e65b28"/><circle cx="298.1" cy="235.6" r="6.2" fill="#ee9224"/><circle cx="452.6" cy="474.6" r="6.2" fill="#317738"/>
<circle cx="427.3" cy="116.3" r="6.2" fill="#e44828"/><circle cx="581.9" cy="355.5" r="6.2" fill="#a5af29"/><circle cx="711.4" cy="236.2" r="6.2" fill="#e89524"/><circle cx="866.1" cy="475.5" r="6.2" fill="#307738"/><circle cx="840.9" cy="116.9" r="6.2" fill="#e75f28"/><circle cx="392.6" cy="236.5" r="6.2" fill="#eb9324"/>
<circle cx="547.4" cy="475.9" r="6.2" fill="#317838"/><circle cx="522" cy="117.1" r="6.2" fill="#e54e28"/><circle cx="676.9" cy="356.6" r="6.2" fill="#a4af29"/><circle cx="806.5" cy="237.2" r="6.2" fill="#e99424"/><circle cx="357.8" cy="356.9" r="6.2" fill="#acae28"/><circle cx="487.3" cy="237.5" r="6.2" fill="#e99424"/>
<circle cx="642.3" cy="477.2" r="6.2" fill="#317938"/><circle cx="617" cy="118" r="6.2" fill="#e55228"/><circle cx="772.1" cy="357.7" r="6.2" fill="#a4af29"/><circle cx="322.9" cy="477.6" r="6.2" fill="#307538"/><circle cx="297.5" cy="118.2" r="6.2" fill="#e33b28"/><circle cx="452.6" cy="358.1" r="6.2" fill="#aaaf28"/>
<circle cx="582.4" cy="238.5" r="6.2" fill="#e99424"/><circle cx="737.6" cy="478.4" r="6.2" fill="#327938"/><circle cx="712.2" cy="118.8" r="6.2" fill="#e65628"/><circle cx="867.5" cy="358.8" r="6.2" fill="#a3af29"/><circle cx="417.8" cy="478.9" r="6.2" fill="#317938"/><circle cx="392.4" cy="119" r="6.2" fill="#e44228"/>
<circle cx="547.7" cy="359.2" r="6.2" fill="#a8b028"/><circle cx="677.6" cy="239.4" r="6.2" fill="#e99424"/><circle cx="833" cy="479.7" r="6.2" fill="#327b38"/><circle cx="807.7" cy="119.6" r="6.2" fill="#e65a28"/><circle cx="357.4" cy="239.7" r="6.2" fill="#ed9224"/><circle cx="512.9" cy="480.1" r="6.2" fill="#327b38"/>
<circle cx="487.4" cy="119.8" r="6.2" fill="#e44828"/><circle cx="643" cy="360.3" r="6.2" fill="#a8b028"/><circle cx="773.1" cy="240.4" r="6.2" fill="#ea9424"/><circle cx="322.5" cy="360.7" r="6.2" fill="#aead28"/><circle cx="452.6" cy="240.7" r="6.2" fill="#eb9324"/><circle cx="608.2" cy="481.4" r="6.2" fill="#337c38"/>
<circle cx="582.8" cy="120.7" r="6.2" fill="#e54d28"/><circle cx="738.5" cy="361.4" r="6.2" fill="#a7b028"/><circle cx="868.9" cy="241.4" r="6.2" fill="#ea9424"/><circle cx="417.6" cy="361.8" r="6.2" fill="#acae28"/><circle cx="548" cy="241.7" r="6.2" fill="#eb9324"/><circle cx="703.8" cy="482.7" r="6.2" fill="#337d38"/>
<circle cx="678.4" cy="121.5" r="6.2" fill="#e55128"/><circle cx="834.3" cy="362.6" r="6.2" fill="#a6b028"/><circle cx="382.6" cy="483.1" r="6.2" fill="#327a38"/><circle cx="357.1" cy="121.8" r="6.2" fill="#e33c28"/><circle cx="513.1" cy="362.9" r="6.2" fill="#aaaf28"/><circle cx="643.6" cy="242.7" r="6.2" fill="#eb9324"/>
<circle cx="799.7" cy="484" r="6.2" fill="#347f38"/><circle cx="774.2" cy="122.3" r="6.2" fill="#e65528"/><circle cx="322" cy="243" r="6.2" fill="#ee8f24"/><circle cx="478.1" cy="484.4" r="6.2" fill="#337d38"/><circle cx="452.6" cy="122.6" r="6.2" fill="#e44328"/><circle cx="608.7" cy="364.1" r="6.2" fill="#aaaf28"/>
<circle cx="739.5" cy="243.6" r="6.2" fill="#ec9324"/><circle cx="895.8" cy="485.3" r="6.2" fill="#368238"/><circle cx="870.3" cy="123.1" r="6.2" fill="#e65b28"/><circle cx="417.5" cy="244" r="6.2" fill="#ee9224"/><circle cx="573.8" cy="485.7" r="6.2" fill="#347f38"/><circle cx="548.3" cy="123.4" r="6.2" fill="#e44728"/>
<circle cx="704.7" cy="365.2" r="6.2" fill="#a9af28"/><circle cx="835.6" cy="244.6" r="6.2" fill="#ec9324"/><circle cx="382.4" cy="365.6" r="6.2" fill="#aead28"/><circle cx="513.3" cy="245" r="6.2" fill="#ec9324"/><circle cx="669.8" cy="487" r="6.2" fill="#358038"/><circle cx="644.2" cy="124.2" r="6.2" fill="#e54b28"/>
<circle cx="800.9" cy="366.4" r="6.2" fill="#a9b028"/><circle cx="347.2" cy="487.5" r="6.2" fill="#327b38"/><circle cx="321.5" cy="124.5" r="6.2" fill="#e23628"/><circle cx="478.2" cy="366.7" r="6.2" fill="#adae28"/><circle cx="609.3" cy="245.9" r="6.2" fill="#ec9324"/><circle cx="766" cy="488.3" r="6.2" fill="#368238"/>
<circle cx="740.4" cy="125" r="6.2" fill="#e54f28"/><circle cx="897.3" cy="367.5" r="6.2" fill="#a8b028"/><circle cx="443.1" cy="488.8" r="6.2" fill="#347f38"/><circle cx="417.4" cy="125.3" r="6.2" fill="#e33d28"/><circle cx="574.2" cy="367.9" r="6.2" fill="#acae28"/><circle cx="705.5" cy="246.9" r="6.2" fill="#ed9224"/>
<circle cx="862.5" cy="489.6" r="6.2" fill="#388538"/><circle cx="836.9" cy="125.9" r="6.2" fill="#e65528"/><circle cx="382.1" cy="247.3" r="6.2" fill="#ee8f24"/><circle cx="539.1" cy="490.1" r="6.2" fill="#368138"/><circle cx="513.5" cy="126.2" r="6.2" fill="#e44228"/><circle cx="670.5" cy="369" r="6.2" fill="#abaf28"/>
<circle cx="802" cy="247.9" r="6.2" fill="#ee9224"/><circle cx="346.8" cy="369.4" r="6.2" fill="#b1ac28"/><circle cx="478.3" cy="248.2" r="6.2" fill="#ee9124"/><circle cx="635.5" cy="491.4" r="6.2" fill="#378338"/><circle cx="609.8" cy="127" r="6.2" fill="#e44528"/><circle cx="767.1" cy="370.2" r="6.2" fill="#abaf28"/>
<circle cx="898.8" cy="248.9" r="6.2" fill="#ed9224"/><circle cx="443" cy="370.6" r="6.2" fill="#afad28"/><circle cx="574.6" cy="249.2" r="6.2" fill="#ee9224"/><circle cx="732.1" cy="492.7" r="6.2" fill="#388638"/><circle cx="706.4" cy="127.8" r="6.2" fill="#e44928"/><circle cx="863.9" cy="371.3" r="6.2" fill="#aaaf28"/>
<circle cx="407.7" cy="493.1" r="6.2" fill="#358038"/><circle cx="381.9" cy="128.1" r="6.2" fill="#e33728"/><circle cx="539.4" cy="371.7" r="6.2" fill="#aeae28"/><circle cx="671.3" cy="250.2" r="6.2" fill="#ee9124"/><circle cx="828.9" cy="494" r="6.2" fill="#398938"/><circle cx="803.2" cy="128.7" r="6.2" fill="#e54e28"/>
<circle cx="346.4" cy="250.6" r="6.2" fill="#ed8b24"/><circle cx="504.1" cy="494.5" r="6.2" fill="#378438"/><circle cx="478.3" cy="128.9" r="6.2" fill="#e33c28"/><circle cx="636.1" cy="372.9" r="6.2" fill="#adae28"/><circle cx="768.2" cy="251.2" r="6.2" fill="#ee9024"/><circle cx="900.3" cy="129.5" r="6.2" fill="#e65828"/>
<circle cx="442.9" cy="251.6" r="6.2" fill="#ed8e24"/><circle cx="600.9" cy="495.8" r="6.2" fill="#388638"/><circle cx="575" cy="129.8" r="6.2" fill="#e34028"/><circle cx="733" cy="374.1" r="6.2" fill="#adae28"/><circle cx="865.3" cy="252.2" r="6.2" fill="#ee9024"/><circle cx="407.5" cy="374.4" r="6.2" fill="#b1ac28"/>
<circle cx="539.7" cy="252.6" r="6.2" fill="#ee8f24"/><circle cx="697.8" cy="497.1" r="6.2" fill="#398938"/><circle cx="672" cy="130.6" r="6.2" fill="#e44328"/><circle cx="830.2" cy="375.2" r="6.2" fill="#acae28"/><circle cx="372" cy="497.6" r="6.2" fill="#358138"/><circle cx="346.1" cy="130.9" r="6.2" fill="#e23228"/>
<circle cx="504.3" cy="375.6" r="6.2" fill="#b0ad28"/><circle cx="636.7" cy="253.6" r="6.2" fill="#ed8e24"/><circle cx="795.1" cy="498.4" r="6.2" fill="#3b8b38"/><circle cx="769.2" cy="131.5" r="6.2" fill="#e44728"/><circle cx="468.8" cy="498.9" r="6.2" fill="#388538"/><circle cx="442.9" cy="131.7" r="6.2" fill="#e33728"/>
<circle cx="601.4" cy="376.8" r="6.2" fill="#afad28"/><circle cx="734" cy="254.6" r="6.2" fill="#ed8d24"/><circle cx="866.7" cy="132.3" r="6.2" fill="#e54f28"/><circle cx="407.3" cy="254.9" r="6.2" fill="#ed8a25"/><circle cx="565.9" cy="500.2" r="6.2" fill="#398938"/><circle cx="540" cy="132.6" r="6.2" fill="#e33b28"/>
<circle cx="698.7" cy="377.9" r="6.2" fill="#afad28"/><circle cx="831.5" cy="255.6" r="6.2" fill="#ed8c24"/><circle cx="371.7" cy="378.3" r="6.2" fill="#b4ab27"/><circle cx="504.5" cy="255.9" r="6.2" fill="#ed8b24"/><circle cx="663.3" cy="501.5" r="6.2" fill="#3b8b38"/><circle cx="637.3" cy="133.4" r="6.2" fill="#e33d28"/>
<circle cx="796.3" cy="379.1" r="6.2" fill="#aead28"/><circle cx="468.9" cy="379.5" r="6.2" fill="#b2ab27"/><circle cx="601.9" cy="256.9" r="6.2" fill="#ed8b24"/><circle cx="760.9" cy="502.9" r="6.2" fill="#3c8c38"/><circle cx="734.9" cy="134.3" r="6.2" fill="#e44028"/><circle cx="433.2" cy="503.3" r="6.2" fill="#388738"/>
<circle cx="407.1" cy="134.6" r="6.2" fill="#e23228"/><circle cx="566.3" cy="380.7" r="6.2" fill="#b2ac27"/><circle cx="699.5" cy="258" r="6.2" fill="#ed8a25"/><circle cx="832.8" cy="135.1" r="6.2" fill="#e44728"/><circle cx="371.4" cy="258.3" r="6.2" fill="#ec8625"/><circle cx="530.7" cy="504.7" r="6.2" fill="#3a8a38"/>
<circle cx="504.6" cy="135.4" r="6.2" fill="#e23528"/><circle cx="664" cy="381.9" r="6.2" fill="#b1ac28"/><circle cx="797.4" cy="259" r="6.2" fill="#ed8925"/><circle cx="468.9" cy="259.3" r="6.2" fill="#ed8825"/><circle cx="628.4" cy="506" r="6.2" fill="#3c8c38"/><circle cx="602.4" cy="136.3" r="6.2" fill="#e33828"/>
<circle cx="762" cy="383.1" r="6.2" fill="#b1ac28"/><circle cx="433.1" cy="383.5" r="6.2" fill="#b5aa27"/><circle cx="566.7" cy="260.3" r="6.2" fill="#ed8825"/><circle cx="726.5" cy="507.4" r="6.2" fill="#3d8d38"/><circle cx="700.3" cy="137.1" r="6.2" fill="#e33a28"/><circle cx="397.3" cy="507.8" r="6.2" fill="#398838"/>
<circle cx="371.1" cy="137.4" r="6.2" fill="#e23028"/><circle cx="530.9" cy="384.6" r="6.2" fill="#b4ab27"/><circle cx="664.7" cy="261.4" r="6.2" fill="#ec8625"/><circle cx="798.6" cy="138" r="6.2" fill="#e33f28"/><circle cx="495.1" cy="509.2" r="6.2" fill="#3b8b38"/><circle cx="468.9" cy="138.3" r="6.2" fill="#e23128"/>
<circle cx="629" cy="385.8" r="6.2" fill="#b3ab27"/><circle cx="763" cy="262.4" r="6.2" fill="#ec8525"/><circle cx="433" cy="262.7" r="6.2" fill="#ec8425"/><circle cx="593.3" cy="510.6" r="6.2" fill="#3d8d38"/><circle cx="567.1" cy="139.2" r="6.2" fill="#e23228"/><circle cx="727.4" cy="387" r="6.2" fill="#b3ab27"/>
<circle cx="397" cy="387.4" r="6.2" fill="#b8a927"/><circle cx="531.2" cy="263.8" r="6.2" fill="#ec8525"/><circle cx="691.7" cy="511.9" r="6.2" fill="#3f8f38"/><circle cx="665.5" cy="140" r="6.2" fill="#e23428"/><circle cx="495.3" cy="388.6" r="6.2" fill="#b7aa27"/><circle cx="629.6" cy="264.8" r="6.2" fill="#ec8325"/>
<circle cx="764.1" cy="140.9" r="6.2" fill="#e33728"/><circle cx="459.3" cy="513.8" r="6.2" fill="#3c8c38"/><circle cx="432.9" cy="141.2" r="6.2" fill="#e23028"/><circle cx="593.7" cy="389.8" r="6.2" fill="#b6aa27"/><circle cx="728.3" cy="265.8" r="6.2" fill="#ec8225"/><circle cx="396.8" cy="266.2" r="6.2" fill="#ec8125"/>
<circle cx="557.8" cy="515.1" r="6.2" fill="#3e8e38"/><circle cx="531.5" cy="142.1" r="6.2" fill="#e23128"/><circle cx="692.5" cy="391" r="6.2" fill="#b5aa27"/><circle cx="495.4" cy="267.2" r="6.2" fill="#ec8125"/><circle cx="656.6" cy="516.5" r="6.2" fill="#409038"/><circle cx="630.2" cy="142.9" r="6.2" fill="#e23128"/>
<circle cx="459.3" cy="392.7" r="6.2" fill="#b9a927"/><circle cx="594.2" cy="268.3" r="6.2" fill="#ec8025"/><circle cx="729.3" cy="143.8" r="6.2" fill="#e23228"/><circle cx="423.1" cy="518.3" r="6.2" fill="#3c8c38"/><circle cx="396.6" cy="144.1" r="6.2" fill="#e22e29"/><circle cx="558.1" cy="393.9" r="6.2" fill="#b9a927"/>
<circle cx="693.3" cy="269.3" r="6.2" fill="#eb7e25"/><circle cx="522" cy="519.7" r="6.2" fill="#3f8f38"/><circle cx="495.5" cy="145" r="6.2" fill="#e22f28"/><circle cx="657.3" cy="395.1" r="6.2" fill="#b8a927"/><circle cx="459.3" cy="270.7" r="6.2" fill="#eb7e25"/><circle cx="621.2" cy="521.1" r="6.2" fill="#419138"/>
<circle cx="594.7" cy="145.9" r="6.2" fill="#e22f28"/><circle cx="422.9" cy="396.7" r="6.2" fill="#bca727"/><circle cx="558.5" cy="271.8" r="6.2" fill="#eb7d25"/><circle cx="694.2" cy="146.7" r="6.2" fill="#e23028"/><circle cx="522.2" cy="398" r="6.2" fill="#bba827"/><circle cx="658" cy="272.8" r="6.2" fill="#eb7b26"/>
<circle cx="485.9" cy="524.4" r="6.2" fill="#3f8f38"/><circle cx="459.3" cy="147.9" r="6.2" fill="#e22e29"/><circle cx="621.8" cy="399.2" r="6.2" fill="#bba827"/><circle cx="422.8" cy="274.3" r="6.2" fill="#eb7a26"/><circle cx="585.5" cy="525.8" r="6.2" fill="#429238"/><circle cx="558.9" cy="148.8" r="6.2" fill="#e22e29"/>
<circle cx="522.4" cy="275.3" r="6.2" fill="#eb7a26"/><circle cx="658.7" cy="149.7" r="6.2" fill="#e22e29"/><circle cx="486" cy="402.1" r="6.2" fill="#bea627"/><circle cx="622.3" cy="276.4" r="6.2" fill="#ea7826"/><circle cx="449.4" cy="529.1" r="6.2" fill="#409038"/><circle cx="422.7" cy="150.9" r="6.2" fill="#e22c29"/>
<circle cx="585.9" cy="403.3" r="6.2" fill="#bea727"/><circle cx="549.4" cy="530.5" r="6.2" fill="#439338"/><circle cx="522.7" cy="151.8" r="6.2" fill="#e22d29"/><circle cx="486.1" cy="278.9" r="6.2" fill="#ea7626"/><circle cx="622.9" cy="152.7" r="6.2" fill="#e22c29"/><circle cx="449.4" cy="406.2" r="6.2" fill="#c1a527"/>
<circle cx="586.4" cy="280" r="6.2" fill="#ea7426"/><circle cx="549.7" cy="407.5" r="6.2" fill="#c1a527"/><circle cx="513" cy="535.2" r="6.2" fill="#439338"/><circle cx="486.2" cy="154.8" r="6.2" fill="#e22b29"/><circle cx="449.3" cy="282.5" r="6.2" fill="#ea7326"/><circle cx="586.8" cy="155.7" r="6.2" fill="#e12b29"/>
<circle cx="550.1" cy="283.6" r="6.2" fill="#e97126"/><circle cx="513.2" cy="411.7" r="6.2" fill="#c4a426"/><circle cx="476.3" cy="540" r="6.2" fill="#449438"/><circle cx="449.3" cy="157.9" r="6.2" fill="#e12a29"/><circle cx="550.4" cy="158.8" r="6.2" fill="#e12a29"/><circle cx="513.4" cy="287.2" r="6.2" fill="#e96e26"/>
<circle cx="476.4" cy="415.9" r="6.2" fill="#c7a326"/><circle cx="513.6" cy="161.9" r="6.2" fill="#e12929"/><circle cx="476.4" cy="290.9" r="6.2" fill="#e96b27"/><circle cx="476.5" cy="165" r="6.2" fill="#e12829"/>
</g>
<text class="t" x="192.9" y="132" text-anchor="end">0.175</text>
<text class="t" x="192.9" y="180.8" text-anchor="end">0.150</text>
<text class="t" x="192.9" y="230.1" text-anchor="end">0.125</text>
<text class="t" x="192.9" y="278.5" text-anchor="end">0.100</text>
<text class="t" x="192.9" y="327.4" text-anchor="end">0.075</text>
<text class="t" x="192.9" y="375.7" text-anchor="end">0.050</text>
<text class="t" x="192.9" y="424.1" text-anchor="end">0.025</text>
<text class="t" x="192.9" y="472.4" text-anchor="end">0</text>
<text class="t" x="142.1" y="517.8">3.6</text>
<text class="t" x="186.1" y="558.1">3.8</text>
<text class="t" x="252.1" y="577.3">4.0</text>
<text class="t" x="317.1" y="599.3">4.2</text>
<text class="t" x="375.6" y="632.2">4.4</text>
<text class="t" x="509.9" y="630.1">6.6</text>
<text class="t" x="586.6" y="617">6.4</text>
<text class="t" x="668.3" y="606.6">6.2</text>
<text class="t" x="750.1" y="594.4">6.0</text>
<text class="t" x="825.8" y="584.4">5.8</text>
<text class="t" x="914.6" y="574.7">5.6</text>
<text class="t" transform="translate(45,361) rotate(-90)"><tspan class="i">w</tspan><tspan class="s i" dy="12">O</tspan><tspan dy="-12">/</tspan><tspan class="i q">%</tspan></text>
<text class="t" transform="translate(160,605) rotate(26)"><tspan class="i">w</tspan><tspan class="s" dy="12">V</tspan><tspan dy="-12">/</tspan><tspan class="i q">%</tspan></text>
<text class="t" transform="translate(690,679) rotate(-10)"><tspan class="i">w</tspan><tspan class="s" dy="12">Al</tspan><tspan dy="-12">/</tspan><tspan class="i q">%</tspan></text>
</g>
<rect x="3199.5" y="883.1" width="40" height="316" fill="url(#cb)" stroke="#3a3a3a" stroke-width="1"/>
<path d="M3239.5 1170.4h4M3239.5 1112.9h4M3239.5 1055.5h4M3239.5 998h4M3239.5 940.6h4" stroke="#3a3a3a" stroke-width="1.5"/>
<text class="c" x="3257.5" y="901.2">1100</text>
<text class="c" x="3257.5" y="957.2">1000</text>
<text class="c" x="3257.5" y="1014.8">900</text>
<text class="c" x="3257.5" y="1072.3">800</text>
<text class="c" x="3257.5" y="1129.1">700</text>
<text class="c" x="3257.5" y="1186.5">600</text>
<text class="c" x="3198" y="844">YS/MPa</text>
<text class="p" x="2299.9" y="763.8">(f)</text>
</svg>
</body></html>
